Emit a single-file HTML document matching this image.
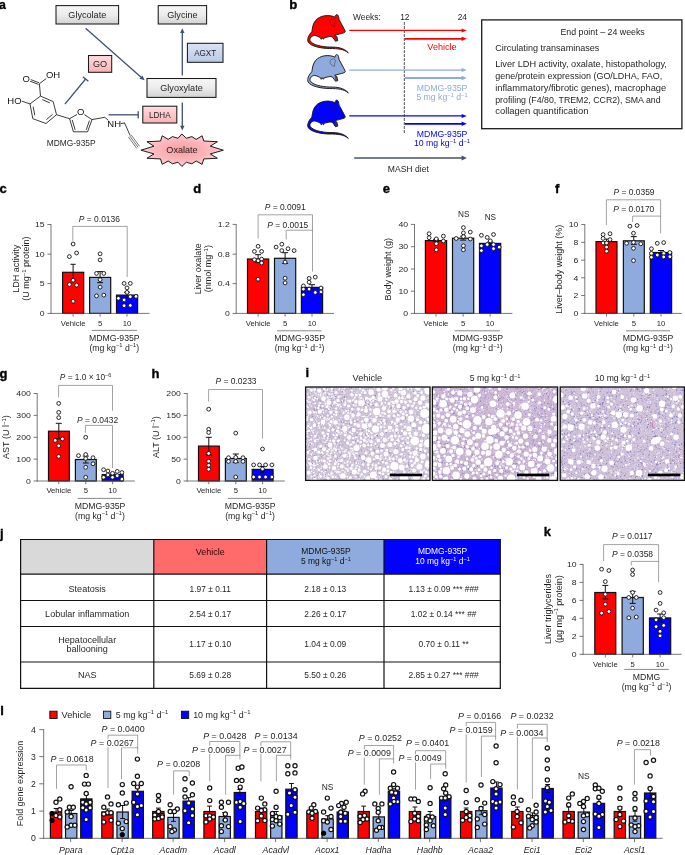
<!DOCTYPE html>
<html lang="en"><head><meta charset="utf-8"><title>Figure</title>
<style>
html,body{margin:0;padding:0;background:#fff;}
body{width:685px;height:855px;overflow:hidden;}
svg{display:block;font-family:"Liberation Sans",sans-serif;fill:#1f1f1f;}
</style></head><body>
<svg width="685" height="855" viewBox="0 0 685 855">
<defs>
<linearGradient id="ggray" x1="0" y1="0" x2="0" y2="1"><stop offset="0" stop-color="#f6f6f6"/><stop offset="0.5" stop-color="#ececec"/><stop offset="1" stop-color="#d2d2d2"/></linearGradient>
<linearGradient id="gblue" x1="0" y1="0" x2="0" y2="1"><stop offset="0" stop-color="#dbe4f5"/><stop offset="1" stop-color="#b9c9e8"/></linearGradient>
<linearGradient id="gpink" x1="0" y1="0" x2="0" y2="1"><stop offset="0" stop-color="#fddcde"/><stop offset="1" stop-color="#f9b2b6"/></linearGradient>
<radialGradient id="gpink2" cx="0.5" cy="0.5" r="0.55"><stop offset="0" stop-color="#f99a9f"/><stop offset="0.6" stop-color="#fbb9bc"/><stop offset="1" stop-color="#fdd3d5"/></radialGradient>
<filter id="grain1" x="0" y="0" width="1" height="1"><feTurbulence type="fractalNoise" baseFrequency="0.85" numOctaves="2" seed="3"/><feColorMatrix type="matrix" values="0 0 0 0 0.46  0 0 0 0 0.40  0 0 0 0 0.60  2.2 0 0 0 -0.85"/></filter>
<filter id="grain2" x="0" y="0" width="1" height="1"><feTurbulence type="fractalNoise" baseFrequency="0.85" numOctaves="2" seed="8"/><feColorMatrix type="matrix" values="0 0 0 0 0.45  0 0 0 0 0.36  0 0 0 0 0.62  2.2 0 0 0 -0.85"/></filter>
<filter id="grain3" x="0" y="0" width="1" height="1"><feTurbulence type="fractalNoise" baseFrequency="0.85" numOctaves="2" seed="15"/><feColorMatrix type="matrix" values="0 0 0 0 0.42  0 0 0 0 0.38  0 0 0 0 0.62  2.0 0 0 0 -0.85"/></filter>
</defs>
<g opacity="0.999">
<text x="-0.90" y="9.10" font-size="12.30" fill="#000" font-weight="bold" stroke="#000" stroke-width="0.35">a</text>
<rect x="56.00" y="5.60" width="62.60" height="18.40" fill="url(#ggray)" stroke="#1a1a1a" stroke-width="1.05" />
<text x="87.30" y="17.98" font-size="9.10" text-anchor="middle">Glycolate</text>
<rect x="158.20" y="5.60" width="48.40" height="18.40" fill="url(#ggray)" stroke="#1a1a1a" stroke-width="1.05" />
<text x="182.40" y="17.98" font-size="9.10" text-anchor="middle">Glycine</text>
<rect x="147.00" y="78.50" width="69.00" height="18.90" fill="url(#ggray)" stroke="#1a1a1a" stroke-width="1.05" />
<text x="181.50" y="91.14" font-size="9.10" text-anchor="middle">Glyoxylate</text>
<rect x="187.40" y="43.30" width="35.60" height="19.00" fill="url(#gblue)" stroke="#1a1a1a" stroke-width="1.05" />
<text x="205.20" y="55.98" font-size="9.10" text-anchor="middle" textLength="22.00" lengthAdjust="spacingAndGlyphs">AGXT</text>
<rect x="88.50" y="55.50" width="23.20" height="16.80" fill="url(#gpink)" stroke="#1a1a1a" stroke-width="1.05" />
<text x="100.10" y="67.08" font-size="9.10" text-anchor="middle">GO</text>
<rect x="142.80" y="106.20" width="34.00" height="16.80" fill="url(#gpink)" stroke="#1a1a1a" stroke-width="1.05" />
<text x="159.80" y="117.78" font-size="9.10" text-anchor="middle" textLength="21.60" lengthAdjust="spacingAndGlyphs">LDHA</text>
<line x1="85.60" y1="28.20" x2="141.38" y2="77.45" stroke="#3f5170" stroke-width="1.30" />
<polygon points="144.60,80.30 139.55,78.77 142.46,75.47" fill="#3f5170"/>
<line x1="182.30" y1="75.60" x2="182.30" y2="32.50" stroke="#3f5170" stroke-width="1.30" />
<polygon points="182.30,28.20 184.50,33.00 180.10,33.00" fill="#3f5170"/>
<line x1="182.30" y1="102.60" x2="182.30" y2="126.30" stroke="#3f5170" stroke-width="1.30" />
<polygon points="182.30,130.60 180.10,125.80 184.50,125.80" fill="#3f5170"/>
<line x1="64.90" y1="104.20" x2="85.60" y2="79.00" stroke="#3f5170" stroke-width="1.30" />
<line x1="88.38" y1="81.29" x2="82.82" y2="76.71" stroke="#3f5170" stroke-width="1.30" />
<line x1="108.60" y1="114.80" x2="138.20" y2="114.80" stroke="#3f5170" stroke-width="1.30" />
<line x1="138.20" y1="118.40" x2="138.20" y2="111.20" stroke="#3f5170" stroke-width="1.30" />
<polygon points="181.88,133.96 186.32,138.26 191.87,136.60 196.17,139.37 202.13,135.77 203.79,141.04 217.39,141.73 210.31,146.17 223.35,150.19 210.31,153.94 217.39,158.24 203.79,158.93 202.13,164.34 196.17,161.01 191.87,163.78 186.32,162.26 181.88,166.42 178.00,162.26 172.45,163.78 168.15,161.01 162.18,164.34 160.52,158.93 146.93,158.24 154.00,153.94 140.96,150.19 154.00,146.17 146.93,141.73 160.52,141.04 162.18,135.77 168.15,139.37 172.45,136.60 178.00,138.26" fill="url(#gpink2)" stroke="#111" stroke-width="0.95" stroke-linejoin="miter"/>
<text x="182.00" y="153.30" font-size="9.10" text-anchor="middle">Oxalate</text>
<path d="M40.50 96.10 L53.20 101.60 L56.50 114.70 L46.00 123.50 L32.80 118.70 L30.00 103.90 Z" fill="none" stroke="#1a1a1a" stroke-width="0.85" />
<line x1="42.28" y1="99.62" x2="49.80" y2="102.88" stroke="#1a1a1a" stroke-width="0.85" />
<line x1="52.58" y1="114.43" x2="46.36" y2="119.65" stroke="#1a1a1a" stroke-width="0.85" />
<line x1="34.82" y1="115.35" x2="33.16" y2="106.57" stroke="#1a1a1a" stroke-width="0.85" />
<line x1="40.50" y1="96.10" x2="39.40" y2="83.70" stroke="#1a1a1a" stroke-width="0.85" />
<line x1="39.40" y1="83.70" x2="46.20" y2="78.60" stroke="#1a1a1a" stroke-width="0.85" />
<line x1="39.10" y1="82.80" x2="30.80" y2="79.60" stroke="#1a1a1a" stroke-width="0.85" />
<line x1="38.50" y1="84.40" x2="30.00" y2="81.20" stroke="#1a1a1a" stroke-width="0.85" />
<text x="26.30" y="82.00" font-size="9.50" text-anchor="middle" fill="#111">O</text>
<text x="53.00" y="78.20" font-size="9.50" text-anchor="middle" fill="#111">OH</text>
<text x="14.40" y="103.80" font-size="9.50" text-anchor="middle" fill="#111">HO</text>
<line x1="30.00" y1="103.90" x2="21.80" y2="101.20" stroke="#1a1a1a" stroke-width="0.85" />
<line x1="56.50" y1="114.70" x2="69.60" y2="118.70" stroke="#1a1a1a" stroke-width="0.85" />
<line x1="69.60" y1="118.70" x2="73.40" y2="131.80" stroke="#1a1a1a" stroke-width="0.85" />
<line x1="73.40" y1="131.80" x2="87.60" y2="131.80" stroke="#1a1a1a" stroke-width="0.85" />
<line x1="87.60" y1="131.80" x2="92.00" y2="119.60" stroke="#1a1a1a" stroke-width="0.85" />
<line x1="69.60" y1="118.70" x2="77.00" y2="114.40" stroke="#1a1a1a" stroke-width="0.85" />
<line x1="92.00" y1="119.60" x2="84.30" y2="114.60" stroke="#1a1a1a" stroke-width="0.85" />
<line x1="72.20" y1="119.90" x2="75.10" y2="129.80" stroke="#1a1a1a" stroke-width="0.85" />
<line x1="89.40" y1="120.60" x2="86.30" y2="129.80" stroke="#1a1a1a" stroke-width="0.85" />
<text x="80.60" y="115.40" font-size="9.50" text-anchor="middle" fill="#111">O</text>
<line x1="92.00" y1="119.60" x2="104.80" y2="117.30" stroke="#1a1a1a" stroke-width="0.85" />
<line x1="104.80" y1="117.30" x2="108.30" y2="120.30" stroke="#1a1a1a" stroke-width="0.85" />
<text x="114.20" y="127.20" font-size="9.50" text-anchor="middle" fill="#111">NH</text>
<line x1="120.80" y1="123.60" x2="124.90" y2="122.90" stroke="#1a1a1a" stroke-width="0.85" />
<line x1="124.50" y1="122.90" x2="130.20" y2="135.60" stroke="#1a1a1a" stroke-width="0.85" />
<line x1="128.40" y1="137.05" x2="136.80" y2="148.45" stroke="#1a1a1a" stroke-width="0.60" />
<line x1="129.80" y1="136.00" x2="138.20" y2="147.40" stroke="#1a1a1a" stroke-width="0.60" />
<line x1="131.20" y1="134.95" x2="139.60" y2="146.35" stroke="#1a1a1a" stroke-width="0.60" />
<text x="71.20" y="145.90" font-size="8.40" text-anchor="middle" fill="#2a2a2a">MDMG-935P</text>
<text x="289.20" y="9.40" font-size="13.20" fill="#000" font-weight="bold" stroke="#000" stroke-width="0.35">b</text>
<g transform="translate(300.00 5.00) scale(0.08759)"><path d="M515 295 C498 262 478 225 447 168 L440 132 C431 102 404 100 400 140 C340 108 230 113 175 180 C140 225 142 280 135 305 C100 340 78 390 93 422 C118 472 250 497 340 497 C430 497 500 502 552 547 C500 488 430 480 340 480 C250 478 140 455 116 408 C106 380 130 352 165 347 C200 352 220 368 233 374 L243 392 L254 378 L268 390 L280 372 C320 365 350 353 370 365 C385 380 393 398 405 414 L432 406 L426 385 L421 360 L396 346 C430 336 470 326 490 321 C512 316 521 305 515 295 Z" fill="#ff0000" stroke="#1e1a1a" stroke-width="11" stroke-linejoin="round"/><path d="M352 168 C330 190 350 240 395 243 C390 215 400 195 408 175 C395 160 370 155 352 168 Z" fill="none" stroke="#2a2020" stroke-width="6" opacity="0.8"/><path d="M395 350 L405 412 L432 405 L420 362 Z" fill="#3a3a3a" opacity="0.8"/><path d="M232 372 L244 392 L255 379 L268 390 L278 372 Z" fill="#3a3a3a" opacity="0.7"/></g>
<g transform="translate(300.00 45.00) scale(0.08759)"><path d="M515 295 C498 262 478 225 447 168 L440 132 C431 102 404 100 400 140 C340 108 230 113 175 180 C140 225 142 280 135 305 C100 340 78 390 93 422 C118 472 250 497 340 497 C430 497 500 502 552 547 C500 488 430 480 340 480 C250 478 140 455 116 408 C106 380 130 352 165 347 C200 352 220 368 233 374 L243 392 L254 378 L268 390 L280 372 C320 365 350 353 370 365 C385 380 393 398 405 414 L432 406 L426 385 L421 360 L396 346 C430 336 470 326 490 321 C512 316 521 305 515 295 Z" fill="#8faadc" stroke="#1e1a1a" stroke-width="11" stroke-linejoin="round"/><path d="M352 168 C330 190 350 240 395 243 C390 215 400 195 408 175 C395 160 370 155 352 168 Z" fill="none" stroke="#2a2020" stroke-width="6" opacity="0.8"/><path d="M395 350 L405 412 L432 405 L420 362 Z" fill="#3a3a3a" opacity="0.8"/><path d="M232 372 L244 392 L255 379 L268 390 L278 372 Z" fill="#3a3a3a" opacity="0.7"/></g>
<g transform="translate(300.00 90.50) scale(0.08759)"><path d="M515 295 C498 262 478 225 447 168 L440 132 C431 102 404 100 400 140 C340 108 230 113 175 180 C140 225 142 280 135 305 C100 340 78 390 93 422 C118 472 250 497 340 497 C430 497 500 502 552 547 C500 488 430 480 340 480 C250 478 140 455 116 408 C106 380 130 352 165 347 C200 352 220 368 233 374 L243 392 L254 378 L268 390 L280 372 C320 365 350 353 370 365 C385 380 393 398 405 414 L432 406 L426 385 L421 360 L396 346 C430 336 470 326 490 321 C512 316 521 305 515 295 Z" fill="#0000ff" stroke="#1e1a1a" stroke-width="11" stroke-linejoin="round"/><path d="M352 168 C330 190 350 240 395 243 C390 215 400 195 408 175 C395 160 370 155 352 168 Z" fill="none" stroke="#2a2020" stroke-width="6" opacity="0.8"/><path d="M395 350 L405 412 L432 405 L420 362 Z" fill="#3a3a3a" opacity="0.8"/><path d="M232 372 L244 392 L255 379 L268 390 L278 372 Z" fill="#3a3a3a" opacity="0.7"/></g>
<text x="353.00" y="20.10" font-size="8.40">Weeks:</text>
<text x="404.80" y="20.10" font-size="8.40" text-anchor="middle">12</text>
<text x="462.30" y="20.10" font-size="8.40" text-anchor="middle">24</text>
<line x1="404.30" y1="22.00" x2="404.30" y2="133.80" stroke="#555" stroke-width="1.00" stroke-dasharray="3 1"/>
<line x1="349.30" y1="30.40" x2="462.10" y2="30.40" stroke="#ff0000" stroke-width="1.25" />
<polygon points="466.80,30.40 461.60,28.40 461.60,32.40" fill="#ff0000"/>
<line x1="404.80" y1="38.80" x2="462.10" y2="38.80" stroke="#ff0000" stroke-width="1.80" />
<polygon points="466.80,38.80 461.60,36.50 461.60,41.10" fill="#ff0000"/>
<line x1="349.30" y1="70.10" x2="462.10" y2="70.10" stroke="#8faadc" stroke-width="1.25" />
<polygon points="466.80,70.10 461.60,68.10 461.60,72.10" fill="#8faadc"/>
<line x1="404.80" y1="78.00" x2="462.10" y2="78.00" stroke="#8faadc" stroke-width="1.80" />
<polygon points="466.80,78.00 461.60,75.70 461.60,80.30" fill="#8faadc"/>
<line x1="349.30" y1="115.90" x2="462.10" y2="115.90" stroke="#0000ff" stroke-width="1.25" />
<polygon points="466.80,115.90 461.60,113.90 461.60,117.90" fill="#0000ff"/>
<line x1="404.80" y1="123.80" x2="462.10" y2="123.80" stroke="#0000ff" stroke-width="1.80" />
<polygon points="466.80,123.80 461.60,121.50 461.60,126.10" fill="#0000ff"/>
<text x="442.00" y="49.70" font-size="9.10" text-anchor="middle" fill="#ff0000">Vehicle</text>
<text x="442.00" y="90.60" font-size="8.70" text-anchor="middle" fill="#8faadc">MDMG-935P</text>
<text x="442.00" y="100.20" font-size="8.70" text-anchor="middle" fill="#8faadc">5 mg kg<tspan dy="-3.48" font-size="5.74">−1</tspan><tspan dy="3.48"> d</tspan><tspan dy="-3.48" font-size="5.74">−1</tspan></text>
<text x="442.00" y="136.70" font-size="8.70" text-anchor="middle" fill="#0000ff">MDMG-935P</text>
<text x="442.00" y="146.30" font-size="8.70" text-anchor="middle" fill="#0000ff">10 mg kg<tspan dy="-3.48" font-size="5.74">−1</tspan><tspan dy="3.48"> d</tspan><tspan dy="-3.48" font-size="5.74">−1</tspan></text>
<line x1="354.20" y1="158.00" x2="462.10" y2="158.00" stroke="#46506a" stroke-width="1.30" />
<polygon points="466.80,158.00 461.60,155.50 461.60,160.50" fill="#46506a"/>
<text x="408.30" y="172.00" font-size="8.60" text-anchor="middle">MASH diet</text>
<rect x="481.70" y="19.90" width="200.20" height="108.80" fill="#fff" stroke="#1a1a1a" stroke-width="1.30" />
<text x="602.60" y="34.60" font-size="9.00" text-anchor="middle" textLength="84.40" lengthAdjust="spacingAndGlyphs">End point – 24 weeks</text>
<text x="495.20" y="51.20" font-size="9.00" textLength="104.20" lengthAdjust="spacingAndGlyphs">Circulating transaminases</text>
<text x="495.20" y="67.30" font-size="9.00" textLength="171.70" lengthAdjust="spacingAndGlyphs">Liver LDH activity, oxalate, histopathology,</text>
<text x="495.20" y="79.10" font-size="9.00" textLength="167.00" lengthAdjust="spacingAndGlyphs">gene/protein expression (GO/LDHA, FAO,</text>
<text x="495.20" y="90.70" font-size="9.00" textLength="171.00" lengthAdjust="spacingAndGlyphs">inflammatory/fibrotic genes), macrophage</text>
<text x="495.20" y="102.60" font-size="9.00" textLength="165.40" lengthAdjust="spacingAndGlyphs">profiling (F4/80, TREM2, CCR2), SMA and</text>
<text x="495.20" y="114.20" font-size="9.00" textLength="93.20" lengthAdjust="spacingAndGlyphs">collagen quantification</text>
<text x="-0.40" y="192.80" font-size="13.00" fill="#000" font-weight="bold" stroke="#000" stroke-width="0.35">c</text>
<rect x="62.60" y="272.30" width="21.10" height="41.10" fill="#ff0000" stroke="#111" stroke-width="1.20" />
<rect x="89.60" y="277.40" width="21.10" height="36.00" fill="#8faadc" stroke="#111" stroke-width="1.20" />
<rect x="116.50" y="295.10" width="21.10" height="18.30" fill="#0000ff" stroke="#111" stroke-width="1.20" />
<line x1="73.10" y1="264.30" x2="73.10" y2="280.30" stroke="#111" stroke-width="1.00" />
<line x1="70.50" y1="264.30" x2="75.70" y2="264.30" stroke="#111" stroke-width="1.00" />
<line x1="70.50" y1="280.30" x2="75.70" y2="280.30" stroke="#111" stroke-width="1.00" />
<line x1="100.10" y1="271.60" x2="100.10" y2="282.70" stroke="#111" stroke-width="1.00" />
<line x1="97.10" y1="271.60" x2="103.10" y2="271.60" stroke="#111" stroke-width="1.00" />
<line x1="97.10" y1="282.70" x2="103.10" y2="282.70" stroke="#111" stroke-width="1.00" />
<line x1="127.00" y1="292.30" x2="127.00" y2="297.60" stroke="#111" stroke-width="1.00" />
<line x1="124.00" y1="292.30" x2="130.00" y2="292.30" stroke="#111" stroke-width="1.00" />
<line x1="124.00" y1="297.60" x2="130.00" y2="297.60" stroke="#111" stroke-width="1.00" />
<line x1="51.00" y1="224.10" x2="51.00" y2="313.80" stroke="#555" stroke-width="0.80" />
<line x1="50.60" y1="313.40" x2="149.50" y2="313.40" stroke="#555" stroke-width="0.80" />
<line x1="47.40" y1="224.50" x2="51.00" y2="224.50" stroke="#555" stroke-width="0.80" />
<text font-size="8.10" transform="translate(44.60 227.27) scale(1.075 1)" text-anchor="end">15</text>
<line x1="47.40" y1="254.10" x2="51.00" y2="254.10" stroke="#555" stroke-width="0.80" />
<text font-size="8.10" transform="translate(44.60 256.87) scale(1.075 1)" text-anchor="end">10</text>
<line x1="47.40" y1="283.60" x2="51.00" y2="283.60" stroke="#555" stroke-width="0.80" />
<text font-size="8.10" transform="translate(44.60 286.37) scale(1.075 1)" text-anchor="end">5</text>
<line x1="47.40" y1="313.40" x2="51.00" y2="313.40" stroke="#555" stroke-width="0.80" />
<text font-size="8.10" transform="translate(44.60 316.17) scale(1.075 1)" text-anchor="end">0</text>
<line x1="73.10" y1="313.40" x2="73.10" y2="316.60" stroke="#555" stroke-width="0.80" />
<text x="73.10" y="325.90" font-size="7.70" text-anchor="middle">Vehicle</text>
<line x1="100.10" y1="313.40" x2="100.10" y2="316.60" stroke="#555" stroke-width="0.80" />
<text x="100.10" y="325.90" font-size="7.70" text-anchor="middle">5</text>
<line x1="127.00" y1="313.40" x2="127.00" y2="316.60" stroke="#555" stroke-width="0.80" />
<text x="127.00" y="325.90" font-size="7.70" text-anchor="middle">10</text>
<circle cx="73.10" cy="244.00" r="1.90" fill="#fff" stroke="#111" stroke-width="0.90"/>
<circle cx="76.60" cy="253.00" r="1.90" fill="#fff" stroke="#111" stroke-width="0.90"/>
<circle cx="69.40" cy="256.60" r="1.90" fill="#fff" stroke="#111" stroke-width="0.90"/>
<circle cx="73.10" cy="280.20" r="1.90" fill="#fff" stroke="#111" stroke-width="0.90"/>
<circle cx="69.40" cy="284.50" r="1.90" fill="#fff" stroke="#111" stroke-width="0.90"/>
<circle cx="76.60" cy="285.20" r="1.90" fill="#fff" stroke="#111" stroke-width="0.90"/>
<circle cx="73.10" cy="301.20" r="1.90" fill="#fff" stroke="#111" stroke-width="0.90"/>
<circle cx="100.10" cy="253.80" r="1.90" fill="#fff" stroke="#111" stroke-width="0.90"/>
<circle cx="100.10" cy="259.90" r="1.90" fill="#fff" stroke="#111" stroke-width="0.90"/>
<circle cx="96.50" cy="273.40" r="1.90" fill="#fff" stroke="#111" stroke-width="0.90"/>
<circle cx="103.80" cy="273.40" r="1.90" fill="#fff" stroke="#111" stroke-width="0.90"/>
<circle cx="100.10" cy="279.70" r="1.90" fill="#fff" stroke="#111" stroke-width="0.90"/>
<circle cx="100.10" cy="287.10" r="1.90" fill="#fff" stroke="#111" stroke-width="0.90"/>
<circle cx="96.50" cy="295.90" r="1.90" fill="#fff" stroke="#111" stroke-width="0.90"/>
<circle cx="103.80" cy="295.10" r="1.90" fill="#fff" stroke="#111" stroke-width="0.90"/>
<circle cx="124.10" cy="283.40" r="1.90" fill="#fff" stroke="#111" stroke-width="0.90"/>
<circle cx="130.30" cy="283.40" r="1.90" fill="#fff" stroke="#111" stroke-width="0.90"/>
<circle cx="127.00" cy="287.90" r="1.90" fill="#fff" stroke="#111" stroke-width="0.90"/>
<circle cx="127.00" cy="292.40" r="1.90" fill="#fff" stroke="#111" stroke-width="0.90"/>
<circle cx="118.40" cy="298.30" r="1.90" fill="#fff" stroke="#111" stroke-width="0.90"/>
<circle cx="130.30" cy="296.70" r="1.90" fill="#fff" stroke="#111" stroke-width="0.90"/>
<circle cx="136.00" cy="296.40" r="1.90" fill="#fff" stroke="#111" stroke-width="0.90"/>
<circle cx="124.10" cy="299.90" r="1.90" fill="#fff" stroke="#111" stroke-width="0.90"/>
<circle cx="124.10" cy="305.70" r="1.90" fill="#fff" stroke="#111" stroke-width="0.90"/>
<circle cx="130.30" cy="305.40" r="1.90" fill="#fff" stroke="#111" stroke-width="0.90"/>
<path d="M72.80 240.80 V226.40 H127.20 V277.00" fill="none" stroke="#8c8c8c" stroke-width="0.80" />
<text x="99.40" y="221.60" font-size="8.45" text-anchor="middle"><tspan font-style="italic">P</tspan> = 0.0136</text>
<line x1="91.70" y1="330.40" x2="137.00" y2="330.40" stroke="#888" stroke-width="1.00" />
<text x="114.30" y="340.90" font-size="8.70" text-anchor="middle">MDMG-935P</text>
<text x="114.30" y="350.80" font-size="8.70" text-anchor="middle">(mg kg<tspan dy="-3.48" font-size="5.74">−1</tspan><tspan dy="3.48"> d</tspan><tspan dy="-3.48" font-size="5.74">−1</tspan><tspan dy="3.48">)</tspan></text>
<text font-size="8.20" transform="translate(18.90 268.70) rotate(-90) scale(1.100 1)" text-anchor="middle">LDH activity</text>
<text font-size="8.20" transform="translate(29.10 268.70) rotate(-90) scale(1.100 1)" text-anchor="middle">(U mg<tspan dy="-3.28" font-size="5.41">−1</tspan><tspan dy="3.28"> protein)</tspan></text>
<text x="193.20" y="192.80" font-size="13.00" fill="#000" font-weight="bold" stroke="#000" stroke-width="0.35">d</text>
<rect x="247.50" y="259.00" width="21.20" height="54.40" fill="#ff0000" stroke="#111" stroke-width="1.20" />
<rect x="274.50" y="258.30" width="21.20" height="55.10" fill="#8faadc" stroke="#111" stroke-width="1.20" />
<rect x="301.40" y="287.40" width="21.20" height="26.00" fill="#0000ff" stroke="#111" stroke-width="1.20" />
<line x1="258.10" y1="254.70" x2="258.10" y2="262.60" stroke="#111" stroke-width="1.00" />
<line x1="255.10" y1="254.70" x2="261.10" y2="254.70" stroke="#111" stroke-width="1.00" />
<line x1="255.10" y1="262.60" x2="261.10" y2="262.60" stroke="#111" stroke-width="1.00" />
<line x1="285.10" y1="252.70" x2="285.10" y2="263.40" stroke="#111" stroke-width="1.00" />
<line x1="282.10" y1="252.70" x2="288.10" y2="252.70" stroke="#111" stroke-width="1.00" />
<line x1="282.10" y1="263.40" x2="288.10" y2="263.40" stroke="#111" stroke-width="1.00" />
<line x1="312.00" y1="284.70" x2="312.00" y2="289.60" stroke="#111" stroke-width="1.00" />
<line x1="309.00" y1="284.70" x2="315.00" y2="284.70" stroke="#111" stroke-width="1.00" />
<line x1="309.00" y1="289.60" x2="315.00" y2="289.60" stroke="#111" stroke-width="1.00" />
<line x1="236.20" y1="224.00" x2="236.20" y2="313.80" stroke="#555" stroke-width="0.80" />
<line x1="235.80" y1="313.40" x2="334.00" y2="313.40" stroke="#555" stroke-width="0.80" />
<line x1="232.60" y1="224.40" x2="236.20" y2="224.40" stroke="#555" stroke-width="0.80" />
<text font-size="8.10" transform="translate(229.80 227.17) scale(1.075 1)" text-anchor="end">1.2</text>
<line x1="232.60" y1="254.20" x2="236.20" y2="254.20" stroke="#555" stroke-width="0.80" />
<text font-size="8.10" transform="translate(229.80 256.97) scale(1.075 1)" text-anchor="end">0.8</text>
<line x1="232.60" y1="283.60" x2="236.20" y2="283.60" stroke="#555" stroke-width="0.80" />
<text font-size="8.10" transform="translate(229.80 286.37) scale(1.075 1)" text-anchor="end">0.4</text>
<line x1="232.60" y1="313.40" x2="236.20" y2="313.40" stroke="#555" stroke-width="0.80" />
<text font-size="8.10" transform="translate(229.80 316.17) scale(1.075 1)" text-anchor="end">0</text>
<line x1="258.10" y1="313.40" x2="258.10" y2="316.60" stroke="#555" stroke-width="0.80" />
<text x="258.10" y="325.90" font-size="7.70" text-anchor="middle">Vehicle</text>
<line x1="285.10" y1="313.40" x2="285.10" y2="316.60" stroke="#555" stroke-width="0.80" />
<text x="285.10" y="325.90" font-size="7.70" text-anchor="middle">5</text>
<line x1="312.00" y1="313.40" x2="312.00" y2="316.60" stroke="#555" stroke-width="0.80" />
<text x="312.00" y="325.90" font-size="7.70" text-anchor="middle">10</text>
<circle cx="258.10" cy="246.30" r="1.90" fill="#fff" stroke="#111" stroke-width="0.90"/>
<circle cx="254.40" cy="251.40" r="1.90" fill="#fff" stroke="#111" stroke-width="0.90"/>
<circle cx="261.60" cy="251.40" r="1.90" fill="#fff" stroke="#111" stroke-width="0.90"/>
<circle cx="254.40" cy="259.70" r="1.90" fill="#fff" stroke="#111" stroke-width="0.90"/>
<circle cx="258.10" cy="260.70" r="1.90" fill="#fff" stroke="#111" stroke-width="0.90"/>
<circle cx="261.60" cy="259.10" r="1.90" fill="#fff" stroke="#111" stroke-width="0.90"/>
<circle cx="261.60" cy="263.00" r="1.90" fill="#fff" stroke="#111" stroke-width="0.90"/>
<circle cx="258.10" cy="279.20" r="1.90" fill="#fff" stroke="#111" stroke-width="0.90"/>
<circle cx="276.10" cy="247.10" r="1.90" fill="#fff" stroke="#111" stroke-width="0.90"/>
<circle cx="281.80" cy="244.20" r="1.90" fill="#fff" stroke="#111" stroke-width="0.90"/>
<circle cx="281.80" cy="250.60" r="1.90" fill="#fff" stroke="#111" stroke-width="0.90"/>
<circle cx="288.00" cy="248.70" r="1.90" fill="#fff" stroke="#111" stroke-width="0.90"/>
<circle cx="294.10" cy="250.60" r="1.90" fill="#fff" stroke="#111" stroke-width="0.90"/>
<circle cx="285.10" cy="262.10" r="1.90" fill="#fff" stroke="#111" stroke-width="0.90"/>
<circle cx="285.10" cy="278.20" r="1.90" fill="#fff" stroke="#111" stroke-width="0.90"/>
<circle cx="285.10" cy="282.90" r="1.90" fill="#fff" stroke="#111" stroke-width="0.90"/>
<circle cx="309.10" cy="278.40" r="1.90" fill="#fff" stroke="#111" stroke-width="0.90"/>
<circle cx="315.30" cy="277.10" r="1.90" fill="#fff" stroke="#111" stroke-width="0.90"/>
<circle cx="309.10" cy="282.20" r="1.90" fill="#fff" stroke="#111" stroke-width="0.90"/>
<circle cx="303.40" cy="285.90" r="1.90" fill="#fff" stroke="#111" stroke-width="0.90"/>
<circle cx="303.40" cy="289.10" r="1.90" fill="#fff" stroke="#111" stroke-width="0.90"/>
<circle cx="309.10" cy="289.10" r="1.90" fill="#fff" stroke="#111" stroke-width="0.90"/>
<circle cx="321.00" cy="288.00" r="1.90" fill="#fff" stroke="#111" stroke-width="0.90"/>
<circle cx="321.00" cy="291.90" r="1.90" fill="#fff" stroke="#111" stroke-width="0.90"/>
<circle cx="315.30" cy="292.50" r="1.90" fill="#fff" stroke="#111" stroke-width="0.90"/>
<circle cx="303.40" cy="294.70" r="1.90" fill="#fff" stroke="#111" stroke-width="0.90"/>
<path d="M258.10 238.50 V214.80 H312.50 V271.50" fill="none" stroke="#8c8c8c" stroke-width="0.80" />
<path d="M286.20 239.30 V230.20 H312.50 V231.00" fill="none" stroke="#8c8c8c" stroke-width="0.80" />
<text x="285.20" y="210.40" font-size="8.45" text-anchor="middle"><tspan font-style="italic">P</tspan> = 0.0091</text>
<text x="287.80" y="227.60" font-size="8.45" text-anchor="middle"><tspan font-style="italic">P</tspan> = 0.0015</text>
<line x1="277.00" y1="330.80" x2="321.60" y2="330.80" stroke="#888" stroke-width="1.00" />
<text x="299.60" y="341.30" font-size="8.70" text-anchor="middle">MDMG-935P</text>
<text x="299.60" y="351.20" font-size="8.70" text-anchor="middle">(mg kg<tspan dy="-3.48" font-size="5.74">−1</tspan><tspan dy="3.48"> d</tspan><tspan dy="-3.48" font-size="5.74">−1</tspan><tspan dy="3.48">)</tspan></text>
<text font-size="8.20" transform="translate(200.90 268.70) rotate(-90) scale(1.100 1)" text-anchor="middle">Liver oxalate</text>
<text font-size="8.20" transform="translate(211.10 268.70) rotate(-90) scale(1.100 1)" text-anchor="middle">(nmol mg<tspan dy="-3.28" font-size="5.41">−1</tspan><tspan dy="3.28">)</tspan></text>
<text x="382.80" y="192.80" font-size="13.00" fill="#000" font-weight="bold" stroke="#000" stroke-width="0.35">e</text>
<rect x="425.40" y="240.60" width="21.20" height="72.80" fill="#ff0000" stroke="#111" stroke-width="1.20" />
<rect x="452.50" y="238.20" width="21.20" height="75.20" fill="#8faadc" stroke="#111" stroke-width="1.20" />
<rect x="479.50" y="243.40" width="21.20" height="70.00" fill="#0000ff" stroke="#111" stroke-width="1.20" />
<line x1="436.00" y1="239.30" x2="436.00" y2="241.60" stroke="#111" stroke-width="1.00" />
<line x1="433.00" y1="239.30" x2="439.00" y2="239.30" stroke="#111" stroke-width="1.00" />
<line x1="433.00" y1="241.60" x2="439.00" y2="241.60" stroke="#111" stroke-width="1.00" />
<line x1="463.10" y1="236.20" x2="463.10" y2="240.10" stroke="#111" stroke-width="1.00" />
<line x1="460.10" y1="236.20" x2="466.10" y2="236.20" stroke="#111" stroke-width="1.00" />
<line x1="460.10" y1="240.10" x2="466.10" y2="240.10" stroke="#111" stroke-width="1.00" />
<line x1="490.10" y1="242.10" x2="490.10" y2="244.60" stroke="#111" stroke-width="1.00" />
<line x1="487.10" y1="242.10" x2="493.10" y2="242.10" stroke="#111" stroke-width="1.00" />
<line x1="487.10" y1="244.60" x2="493.10" y2="244.60" stroke="#111" stroke-width="1.00" />
<line x1="414.50" y1="224.00" x2="414.50" y2="313.80" stroke="#555" stroke-width="0.80" />
<line x1="414.10" y1="313.40" x2="512.40" y2="313.40" stroke="#555" stroke-width="0.80" />
<line x1="410.90" y1="224.40" x2="414.50" y2="224.40" stroke="#555" stroke-width="0.80" />
<text font-size="8.10" transform="translate(408.10 227.17) scale(1.075 1)" text-anchor="end">40</text>
<line x1="410.90" y1="246.70" x2="414.50" y2="246.70" stroke="#555" stroke-width="0.80" />
<text font-size="8.10" transform="translate(408.10 249.47) scale(1.075 1)" text-anchor="end">30</text>
<line x1="410.90" y1="269.00" x2="414.50" y2="269.00" stroke="#555" stroke-width="0.80" />
<text font-size="8.10" transform="translate(408.10 271.77) scale(1.075 1)" text-anchor="end">20</text>
<line x1="410.90" y1="291.20" x2="414.50" y2="291.20" stroke="#555" stroke-width="0.80" />
<text font-size="8.10" transform="translate(408.10 293.97) scale(1.075 1)" text-anchor="end">10</text>
<line x1="410.90" y1="313.40" x2="414.50" y2="313.40" stroke="#555" stroke-width="0.80" />
<text font-size="8.10" transform="translate(408.10 316.17) scale(1.075 1)" text-anchor="end">0</text>
<line x1="436.00" y1="313.40" x2="436.00" y2="316.60" stroke="#555" stroke-width="0.80" />
<text x="436.00" y="325.90" font-size="7.70" text-anchor="middle">Vehicle</text>
<line x1="463.10" y1="313.40" x2="463.10" y2="316.60" stroke="#555" stroke-width="0.80" />
<text x="463.10" y="325.90" font-size="7.70" text-anchor="middle">5</text>
<line x1="490.10" y1="313.40" x2="490.10" y2="316.60" stroke="#555" stroke-width="0.80" />
<text x="490.10" y="325.90" font-size="7.70" text-anchor="middle">10</text>
<circle cx="429.10" cy="233.70" r="1.90" fill="#fff" stroke="#111" stroke-width="0.90"/>
<circle cx="429.10" cy="237.70" r="1.90" fill="#fff" stroke="#111" stroke-width="0.90"/>
<circle cx="436.30" cy="238.90" r="1.90" fill="#fff" stroke="#111" stroke-width="0.90"/>
<circle cx="443.40" cy="236.10" r="1.90" fill="#fff" stroke="#111" stroke-width="0.90"/>
<circle cx="443.40" cy="241.00" r="1.90" fill="#fff" stroke="#111" stroke-width="0.90"/>
<circle cx="436.30" cy="243.70" r="1.90" fill="#fff" stroke="#111" stroke-width="0.90"/>
<circle cx="436.30" cy="249.80" r="1.90" fill="#fff" stroke="#111" stroke-width="0.90"/>
<circle cx="463.40" cy="227.60" r="1.90" fill="#fff" stroke="#111" stroke-width="0.90"/>
<circle cx="463.40" cy="232.90" r="1.90" fill="#fff" stroke="#111" stroke-width="0.90"/>
<circle cx="470.30" cy="232.10" r="1.90" fill="#fff" stroke="#111" stroke-width="0.90"/>
<circle cx="456.20" cy="238.50" r="1.90" fill="#fff" stroke="#111" stroke-width="0.90"/>
<circle cx="463.40" cy="236.60" r="1.90" fill="#fff" stroke="#111" stroke-width="0.90"/>
<circle cx="470.30" cy="239.00" r="1.90" fill="#fff" stroke="#111" stroke-width="0.90"/>
<circle cx="463.40" cy="245.80" r="1.90" fill="#fff" stroke="#111" stroke-width="0.90"/>
<circle cx="463.40" cy="249.80" r="1.90" fill="#fff" stroke="#111" stroke-width="0.90"/>
<circle cx="481.40" cy="235.30" r="1.90" fill="#fff" stroke="#111" stroke-width="0.90"/>
<circle cx="487.20" cy="237.40" r="1.90" fill="#fff" stroke="#111" stroke-width="0.90"/>
<circle cx="493.50" cy="234.50" r="1.90" fill="#fff" stroke="#111" stroke-width="0.90"/>
<circle cx="490.30" cy="240.90" r="1.90" fill="#fff" stroke="#111" stroke-width="0.90"/>
<circle cx="487.20" cy="244.50" r="1.90" fill="#fff" stroke="#111" stroke-width="0.90"/>
<circle cx="481.40" cy="245.80" r="1.90" fill="#fff" stroke="#111" stroke-width="0.90"/>
<circle cx="493.50" cy="244.60" r="1.90" fill="#fff" stroke="#111" stroke-width="0.90"/>
<circle cx="499.20" cy="247.10" r="1.90" fill="#fff" stroke="#111" stroke-width="0.90"/>
<circle cx="493.50" cy="248.70" r="1.90" fill="#fff" stroke="#111" stroke-width="0.90"/>
<circle cx="481.40" cy="250.60" r="1.90" fill="#fff" stroke="#111" stroke-width="0.90"/>
<text x="463.80" y="217.30" font-size="8.20" text-anchor="middle">NS</text>
<text x="490.40" y="220.10" font-size="8.20" text-anchor="middle">NS</text>
<line x1="454.60" y1="330.80" x2="499.80" y2="330.80" stroke="#888" stroke-width="1.00" />
<text x="477.70" y="341.30" font-size="8.70" text-anchor="middle">MDMG-935P</text>
<text x="477.70" y="351.20" font-size="8.70" text-anchor="middle">(mg kg<tspan dy="-3.48" font-size="5.74">−1</tspan><tspan dy="3.48"> d</tspan><tspan dy="-3.48" font-size="5.74">−1</tspan><tspan dy="3.48">)</tspan></text>
<text font-size="8.20" transform="translate(390.50 269.20) rotate(-90) scale(1.100 1)" text-anchor="middle">Body weight (g)</text>
<text x="555.00" y="192.80" font-size="13.00" fill="#000" font-weight="bold" stroke="#000" stroke-width="0.35">f</text>
<rect x="596.00" y="241.60" width="21.00" height="71.80" fill="#ff0000" stroke="#111" stroke-width="1.20" />
<rect x="623.40" y="240.80" width="20.90" height="72.60" fill="#8faadc" stroke="#111" stroke-width="1.20" />
<rect x="650.30" y="252.50" width="21.30" height="60.90" fill="#0000ff" stroke="#111" stroke-width="1.20" />
<line x1="606.50" y1="239.10" x2="606.50" y2="243.80" stroke="#111" stroke-width="1.00" />
<line x1="603.50" y1="239.10" x2="609.50" y2="239.10" stroke="#111" stroke-width="1.00" />
<line x1="603.50" y1="243.80" x2="609.50" y2="243.80" stroke="#111" stroke-width="1.00" />
<line x1="633.80" y1="236.60" x2="633.80" y2="244.30" stroke="#111" stroke-width="1.00" />
<line x1="630.80" y1="236.60" x2="636.80" y2="236.60" stroke="#111" stroke-width="1.00" />
<line x1="630.80" y1="244.30" x2="636.80" y2="244.30" stroke="#111" stroke-width="1.00" />
<line x1="661.00" y1="250.50" x2="661.00" y2="253.90" stroke="#111" stroke-width="1.00" />
<line x1="658.00" y1="250.50" x2="664.00" y2="250.50" stroke="#111" stroke-width="1.00" />
<line x1="658.00" y1="253.90" x2="664.00" y2="253.90" stroke="#111" stroke-width="1.00" />
<line x1="584.80" y1="224.10" x2="584.80" y2="313.80" stroke="#555" stroke-width="0.80" />
<line x1="584.40" y1="313.40" x2="681.80" y2="313.40" stroke="#555" stroke-width="0.80" />
<line x1="581.20" y1="224.50" x2="584.80" y2="224.50" stroke="#555" stroke-width="0.80" />
<text font-size="8.10" transform="translate(578.40 227.27) scale(1.075 1)" text-anchor="end">10</text>
<line x1="581.20" y1="242.40" x2="584.80" y2="242.40" stroke="#555" stroke-width="0.80" />
<text font-size="8.10" transform="translate(578.40 245.17) scale(1.075 1)" text-anchor="end">8</text>
<line x1="581.20" y1="260.20" x2="584.80" y2="260.20" stroke="#555" stroke-width="0.80" />
<text font-size="8.10" transform="translate(578.40 262.97) scale(1.075 1)" text-anchor="end">6</text>
<line x1="581.20" y1="277.80" x2="584.80" y2="277.80" stroke="#555" stroke-width="0.80" />
<text font-size="8.10" transform="translate(578.40 280.57) scale(1.075 1)" text-anchor="end">4</text>
<line x1="581.20" y1="295.50" x2="584.80" y2="295.50" stroke="#555" stroke-width="0.80" />
<text font-size="8.10" transform="translate(578.40 298.27) scale(1.075 1)" text-anchor="end">2</text>
<line x1="581.20" y1="313.40" x2="584.80" y2="313.40" stroke="#555" stroke-width="0.80" />
<text font-size="8.10" transform="translate(578.40 316.17) scale(1.075 1)" text-anchor="end">0</text>
<line x1="606.50" y1="313.40" x2="606.50" y2="316.60" stroke="#555" stroke-width="0.80" />
<text x="606.50" y="325.90" font-size="7.70" text-anchor="middle">Vehicle</text>
<line x1="633.80" y1="313.40" x2="633.80" y2="316.60" stroke="#555" stroke-width="0.80" />
<text x="633.80" y="325.90" font-size="7.70" text-anchor="middle">5</text>
<line x1="661.00" y1="313.40" x2="661.00" y2="316.60" stroke="#555" stroke-width="0.80" />
<text x="661.00" y="325.90" font-size="7.70" text-anchor="middle">10</text>
<circle cx="603.10" cy="234.60" r="1.90" fill="#fff" stroke="#111" stroke-width="0.90"/>
<circle cx="610.00" cy="233.70" r="1.90" fill="#fff" stroke="#111" stroke-width="0.90"/>
<circle cx="603.10" cy="238.40" r="1.90" fill="#fff" stroke="#111" stroke-width="0.90"/>
<circle cx="610.00" cy="239.60" r="1.90" fill="#fff" stroke="#111" stroke-width="0.90"/>
<circle cx="603.10" cy="243.00" r="1.90" fill="#fff" stroke="#111" stroke-width="0.90"/>
<circle cx="606.60" cy="243.00" r="1.90" fill="#fff" stroke="#111" stroke-width="0.90"/>
<circle cx="606.60" cy="247.10" r="1.90" fill="#fff" stroke="#111" stroke-width="0.90"/>
<circle cx="606.60" cy="251.20" r="1.90" fill="#fff" stroke="#111" stroke-width="0.90"/>
<circle cx="629.90" cy="226.20" r="1.90" fill="#fff" stroke="#111" stroke-width="0.90"/>
<circle cx="637.10" cy="225.50" r="1.90" fill="#fff" stroke="#111" stroke-width="0.90"/>
<circle cx="633.50" cy="233.20" r="1.90" fill="#fff" stroke="#111" stroke-width="0.90"/>
<circle cx="626.60" cy="243.30" r="1.90" fill="#fff" stroke="#111" stroke-width="0.90"/>
<circle cx="633.50" cy="242.40" r="1.90" fill="#fff" stroke="#111" stroke-width="0.90"/>
<circle cx="640.80" cy="243.80" r="1.90" fill="#fff" stroke="#111" stroke-width="0.90"/>
<circle cx="633.50" cy="248.30" r="1.90" fill="#fff" stroke="#111" stroke-width="0.90"/>
<circle cx="633.50" cy="260.60" r="1.90" fill="#fff" stroke="#111" stroke-width="0.90"/>
<circle cx="657.30" cy="243.30" r="1.90" fill="#fff" stroke="#111" stroke-width="0.90"/>
<circle cx="663.70" cy="242.60" r="1.90" fill="#fff" stroke="#111" stroke-width="0.90"/>
<circle cx="651.40" cy="248.80" r="1.90" fill="#fff" stroke="#111" stroke-width="0.90"/>
<circle cx="651.40" cy="253.40" r="1.90" fill="#fff" stroke="#111" stroke-width="0.90"/>
<circle cx="657.30" cy="255.00" r="1.90" fill="#fff" stroke="#111" stroke-width="0.90"/>
<circle cx="663.70" cy="253.40" r="1.90" fill="#fff" stroke="#111" stroke-width="0.90"/>
<circle cx="669.90" cy="252.50" r="1.90" fill="#fff" stroke="#111" stroke-width="0.90"/>
<circle cx="651.40" cy="257.20" r="1.90" fill="#fff" stroke="#111" stroke-width="0.90"/>
<circle cx="663.70" cy="256.90" r="1.90" fill="#fff" stroke="#111" stroke-width="0.90"/>
<circle cx="669.90" cy="256.70" r="1.90" fill="#fff" stroke="#111" stroke-width="0.90"/>
<path d="M606.40 225.00 V199.80 H660.60 V233.40" fill="none" stroke="#8c8c8c" stroke-width="0.80" />
<path d="M632.60 222.00 V216.10 H660.60 V217.00" fill="none" stroke="#8c8c8c" stroke-width="0.80" />
<text x="634.00" y="195.40" font-size="8.45" text-anchor="middle"><tspan font-style="italic">P</tspan> = 0.0359</text>
<text x="633.80" y="212.40" font-size="8.45" text-anchor="middle"><tspan font-style="italic">P</tspan> = 0.0170</text>
<line x1="626.00" y1="330.80" x2="670.00" y2="330.80" stroke="#888" stroke-width="1.00" />
<text x="648.00" y="341.30" font-size="8.70" text-anchor="middle">MDMG-935P</text>
<text x="648.00" y="351.20" font-size="8.70" text-anchor="middle">(mg kg<tspan dy="-3.48" font-size="5.74">−1</tspan><tspan dy="3.48"> d</tspan><tspan dy="-3.48" font-size="5.74">−1</tspan><tspan dy="3.48">)</tspan></text>
<text font-size="8.20" transform="translate(562.00 269.20) rotate(-90) scale(1.100 1)" text-anchor="middle">Liver–body weight (%)</text>
<text x="-0.50" y="378.00" font-size="13.00" fill="#000" font-weight="bold" stroke="#000" stroke-width="0.35">g</text>
<rect x="48.50" y="431.20" width="20.80" height="49.80" fill="#ff0000" stroke="#111" stroke-width="1.20" />
<rect x="75.40" y="459.50" width="20.90" height="21.50" fill="#8faadc" stroke="#111" stroke-width="1.20" />
<rect x="102.20" y="474.60" width="20.90" height="6.40" fill="#0000ff" stroke="#111" stroke-width="1.20" />
<line x1="58.80" y1="423.30" x2="58.80" y2="438.80" stroke="#111" stroke-width="1.00" />
<line x1="55.80" y1="423.30" x2="61.80" y2="423.30" stroke="#111" stroke-width="1.00" />
<line x1="55.80" y1="438.80" x2="61.80" y2="438.80" stroke="#111" stroke-width="1.00" />
<line x1="85.80" y1="456.10" x2="85.80" y2="463.00" stroke="#111" stroke-width="1.00" />
<line x1="82.80" y1="456.10" x2="88.80" y2="456.10" stroke="#111" stroke-width="1.00" />
<line x1="82.80" y1="463.00" x2="88.80" y2="463.00" stroke="#111" stroke-width="1.00" />
<line x1="112.60" y1="473.20" x2="112.60" y2="476.00" stroke="#111" stroke-width="1.00" />
<line x1="109.60" y1="473.20" x2="115.60" y2="473.20" stroke="#111" stroke-width="1.00" />
<line x1="109.60" y1="476.00" x2="115.60" y2="476.00" stroke="#111" stroke-width="1.00" />
<line x1="37.20" y1="393.10" x2="37.20" y2="481.40" stroke="#555" stroke-width="0.80" />
<line x1="36.80" y1="481.00" x2="134.80" y2="481.00" stroke="#555" stroke-width="0.80" />
<line x1="33.60" y1="393.50" x2="37.20" y2="393.50" stroke="#555" stroke-width="0.80" />
<text font-size="8.10" transform="translate(30.80 396.27) scale(1.075 1)" text-anchor="end">400</text>
<line x1="33.60" y1="415.40" x2="37.20" y2="415.40" stroke="#555" stroke-width="0.80" />
<text font-size="8.10" transform="translate(30.80 418.17) scale(1.075 1)" text-anchor="end">300</text>
<line x1="33.60" y1="437.30" x2="37.20" y2="437.30" stroke="#555" stroke-width="0.80" />
<text font-size="8.10" transform="translate(30.80 440.07) scale(1.075 1)" text-anchor="end">200</text>
<line x1="33.60" y1="459.10" x2="37.20" y2="459.10" stroke="#555" stroke-width="0.80" />
<text font-size="8.10" transform="translate(30.80 461.87) scale(1.075 1)" text-anchor="end">100</text>
<line x1="33.60" y1="481.00" x2="37.20" y2="481.00" stroke="#555" stroke-width="0.80" />
<text font-size="8.10" transform="translate(30.80 483.77) scale(1.075 1)" text-anchor="end">0</text>
<line x1="58.80" y1="481.00" x2="58.80" y2="484.20" stroke="#555" stroke-width="0.80" />
<text x="58.80" y="493.30" font-size="7.70" text-anchor="middle">Vehicle</text>
<line x1="85.80" y1="481.00" x2="85.80" y2="484.20" stroke="#555" stroke-width="0.80" />
<text x="85.80" y="493.30" font-size="7.70" text-anchor="middle">5</text>
<line x1="112.60" y1="481.00" x2="112.60" y2="484.20" stroke="#555" stroke-width="0.80" />
<text x="112.60" y="493.30" font-size="7.70" text-anchor="middle">10</text>
<circle cx="58.70" cy="403.40" r="1.90" fill="#fff" stroke="#111" stroke-width="0.90"/>
<circle cx="58.70" cy="412.40" r="1.90" fill="#fff" stroke="#111" stroke-width="0.90"/>
<circle cx="58.70" cy="417.60" r="1.90" fill="#fff" stroke="#111" stroke-width="0.90"/>
<circle cx="55.20" cy="440.40" r="1.90" fill="#fff" stroke="#111" stroke-width="0.90"/>
<circle cx="62.40" cy="438.90" r="1.90" fill="#fff" stroke="#111" stroke-width="0.90"/>
<circle cx="58.70" cy="445.80" r="1.90" fill="#fff" stroke="#111" stroke-width="0.90"/>
<circle cx="58.70" cy="456.40" r="1.90" fill="#fff" stroke="#111" stroke-width="0.90"/>
<circle cx="85.70" cy="437.30" r="1.90" fill="#fff" stroke="#111" stroke-width="0.90"/>
<circle cx="78.50" cy="455.60" r="1.90" fill="#fff" stroke="#111" stroke-width="0.90"/>
<circle cx="85.70" cy="454.50" r="1.90" fill="#fff" stroke="#111" stroke-width="0.90"/>
<circle cx="93.00" cy="457.70" r="1.90" fill="#fff" stroke="#111" stroke-width="0.90"/>
<circle cx="85.70" cy="458.50" r="1.90" fill="#fff" stroke="#111" stroke-width="0.90"/>
<circle cx="93.00" cy="463.80" r="1.90" fill="#fff" stroke="#111" stroke-width="0.90"/>
<circle cx="85.70" cy="467.30" r="1.90" fill="#fff" stroke="#111" stroke-width="0.90"/>
<circle cx="85.70" cy="477.30" r="1.90" fill="#fff" stroke="#111" stroke-width="0.90"/>
<circle cx="103.60" cy="469.70" r="1.90" fill="#fff" stroke="#111" stroke-width="0.90"/>
<circle cx="107.90" cy="471.00" r="1.90" fill="#fff" stroke="#111" stroke-width="0.90"/>
<circle cx="117.20" cy="471.40" r="1.90" fill="#fff" stroke="#111" stroke-width="0.90"/>
<circle cx="121.90" cy="472.50" r="1.90" fill="#fff" stroke="#111" stroke-width="0.90"/>
<circle cx="112.50" cy="473.30" r="1.90" fill="#fff" stroke="#111" stroke-width="0.90"/>
<circle cx="107.90" cy="474.90" r="1.90" fill="#fff" stroke="#111" stroke-width="0.90"/>
<circle cx="117.20" cy="475.70" r="1.90" fill="#fff" stroke="#111" stroke-width="0.90"/>
<circle cx="103.60" cy="477.30" r="1.90" fill="#fff" stroke="#111" stroke-width="0.90"/>
<circle cx="112.50" cy="477.30" r="1.90" fill="#fff" stroke="#111" stroke-width="0.90"/>
<circle cx="121.90" cy="479.10" r="1.90" fill="#fff" stroke="#111" stroke-width="0.90"/>
<path d="M58.60 397.50 V385.40 H112.50 V410.70" fill="none" stroke="#8c8c8c" stroke-width="0.80" />
<path d="M85.40 432.80 V425.40 H112.50 V468.10" fill="none" stroke="#8c8c8c" stroke-width="0.80" />
<text x="85.60" y="380.30" font-size="8.30" text-anchor="middle"><tspan font-style="italic">P</tspan> = 1.0 × 10<tspan dy="-3.32" font-size="5.48">−6</tspan></text>
<text x="97.60" y="422.50" font-size="8.45" text-anchor="middle"><tspan font-style="italic">P</tspan> = 0.0432</text>
<line x1="77.70" y1="498.40" x2="121.60" y2="498.40" stroke="#888" stroke-width="1.00" />
<text x="100.00" y="508.90" font-size="8.70" text-anchor="middle">MDMG-935P</text>
<text x="100.00" y="518.80" font-size="8.70" text-anchor="middle">(mg kg<tspan dy="-3.48" font-size="5.74">−1</tspan><tspan dy="3.48"> d</tspan><tspan dy="-3.48" font-size="5.74">−1</tspan><tspan dy="3.48">)</tspan></text>
<text font-size="8.20" transform="translate(9.30 437.10) rotate(-90) scale(1.100 1)" text-anchor="middle">AST (U l<tspan dy="-3.28" font-size="5.41">−1</tspan><tspan dy="3.28">)</tspan></text>
<text x="151.40" y="378.40" font-size="13.00" fill="#000" font-weight="bold" stroke="#000" stroke-width="0.35">h</text>
<rect x="198.50" y="446.10" width="20.80" height="34.90" fill="#ff0000" stroke="#111" stroke-width="1.20" />
<rect x="225.40" y="458.50" width="20.90" height="22.50" fill="#8faadc" stroke="#111" stroke-width="1.20" />
<rect x="252.20" y="469.40" width="20.90" height="11.60" fill="#0000ff" stroke="#111" stroke-width="1.20" />
<line x1="208.80" y1="437.30" x2="208.80" y2="454.90" stroke="#111" stroke-width="1.00" />
<line x1="205.80" y1="437.30" x2="211.80" y2="437.30" stroke="#111" stroke-width="1.00" />
<line x1="205.80" y1="454.90" x2="211.80" y2="454.90" stroke="#111" stroke-width="1.00" />
<line x1="235.80" y1="454.00" x2="235.80" y2="462.60" stroke="#111" stroke-width="1.00" />
<line x1="232.80" y1="454.00" x2="238.80" y2="454.00" stroke="#111" stroke-width="1.00" />
<line x1="232.80" y1="462.60" x2="238.80" y2="462.60" stroke="#111" stroke-width="1.00" />
<line x1="262.60" y1="466.50" x2="262.60" y2="472.20" stroke="#111" stroke-width="1.00" />
<line x1="259.60" y1="466.50" x2="265.60" y2="466.50" stroke="#111" stroke-width="1.00" />
<line x1="259.60" y1="472.20" x2="265.60" y2="472.20" stroke="#111" stroke-width="1.00" />
<line x1="187.20" y1="393.10" x2="187.20" y2="481.40" stroke="#555" stroke-width="0.80" />
<line x1="186.80" y1="481.00" x2="284.80" y2="481.00" stroke="#555" stroke-width="0.80" />
<line x1="183.60" y1="393.50" x2="187.20" y2="393.50" stroke="#555" stroke-width="0.80" />
<text font-size="8.10" transform="translate(180.80 396.27) scale(1.075 1)" text-anchor="end">200</text>
<line x1="183.60" y1="415.40" x2="187.20" y2="415.40" stroke="#555" stroke-width="0.80" />
<text font-size="8.10" transform="translate(180.80 418.17) scale(1.075 1)" text-anchor="end">150</text>
<line x1="183.60" y1="437.30" x2="187.20" y2="437.30" stroke="#555" stroke-width="0.80" />
<text font-size="8.10" transform="translate(180.80 440.07) scale(1.075 1)" text-anchor="end">100</text>
<line x1="183.60" y1="459.10" x2="187.20" y2="459.10" stroke="#555" stroke-width="0.80" />
<text font-size="8.10" transform="translate(180.80 461.87) scale(1.075 1)" text-anchor="end">50</text>
<line x1="183.60" y1="481.00" x2="187.20" y2="481.00" stroke="#555" stroke-width="0.80" />
<text font-size="8.10" transform="translate(180.80 483.77) scale(1.075 1)" text-anchor="end">0</text>
<line x1="208.80" y1="481.00" x2="208.80" y2="484.20" stroke="#555" stroke-width="0.80" />
<text x="208.80" y="493.30" font-size="7.70" text-anchor="middle">Vehicle</text>
<line x1="235.80" y1="481.00" x2="235.80" y2="484.20" stroke="#555" stroke-width="0.80" />
<text x="235.80" y="493.30" font-size="7.70" text-anchor="middle">5</text>
<line x1="262.60" y1="481.00" x2="262.60" y2="484.20" stroke="#555" stroke-width="0.80" />
<text x="262.60" y="493.30" font-size="7.70" text-anchor="middle">10</text>
<circle cx="208.70" cy="409.20" r="1.90" fill="#fff" stroke="#111" stroke-width="0.90"/>
<circle cx="208.70" cy="429.30" r="1.90" fill="#fff" stroke="#111" stroke-width="0.90"/>
<circle cx="208.70" cy="432.50" r="1.90" fill="#fff" stroke="#111" stroke-width="0.90"/>
<circle cx="208.70" cy="453.40" r="1.90" fill="#fff" stroke="#111" stroke-width="0.90"/>
<circle cx="208.70" cy="461.20" r="1.90" fill="#fff" stroke="#111" stroke-width="0.90"/>
<circle cx="208.70" cy="465.30" r="1.90" fill="#fff" stroke="#111" stroke-width="0.90"/>
<circle cx="208.70" cy="469.30" r="1.90" fill="#fff" stroke="#111" stroke-width="0.90"/>
<circle cx="235.70" cy="433.10" r="1.90" fill="#fff" stroke="#111" stroke-width="0.90"/>
<circle cx="228.50" cy="457.70" r="1.90" fill="#fff" stroke="#111" stroke-width="0.90"/>
<circle cx="235.70" cy="457.40" r="1.90" fill="#fff" stroke="#111" stroke-width="0.90"/>
<circle cx="243.00" cy="457.70" r="1.90" fill="#fff" stroke="#111" stroke-width="0.90"/>
<circle cx="228.50" cy="461.40" r="1.90" fill="#fff" stroke="#111" stroke-width="0.90"/>
<circle cx="235.70" cy="461.40" r="1.90" fill="#fff" stroke="#111" stroke-width="0.90"/>
<circle cx="243.00" cy="461.40" r="1.90" fill="#fff" stroke="#111" stroke-width="0.90"/>
<circle cx="235.70" cy="477.00" r="1.90" fill="#fff" stroke="#111" stroke-width="0.90"/>
<circle cx="262.50" cy="449.00" r="1.90" fill="#fff" stroke="#111" stroke-width="0.90"/>
<circle cx="253.60" cy="464.90" r="1.90" fill="#fff" stroke="#111" stroke-width="0.90"/>
<circle cx="259.50" cy="464.90" r="1.90" fill="#fff" stroke="#111" stroke-width="0.90"/>
<circle cx="265.60" cy="464.90" r="1.90" fill="#fff" stroke="#111" stroke-width="0.90"/>
<circle cx="271.90" cy="464.90" r="1.90" fill="#fff" stroke="#111" stroke-width="0.90"/>
<circle cx="262.50" cy="468.90" r="1.90" fill="#fff" stroke="#111" stroke-width="0.90"/>
<circle cx="253.60" cy="477.00" r="1.90" fill="#fff" stroke="#111" stroke-width="0.90"/>
<circle cx="259.50" cy="477.00" r="1.90" fill="#fff" stroke="#111" stroke-width="0.90"/>
<circle cx="265.60" cy="477.00" r="1.90" fill="#fff" stroke="#111" stroke-width="0.90"/>
<circle cx="271.90" cy="477.00" r="1.90" fill="#fff" stroke="#111" stroke-width="0.90"/>
<path d="M208.60 401.50 V389.50 H262.50 V438.40" fill="none" stroke="#8c8c8c" stroke-width="0.80" />
<text x="236.00" y="383.80" font-size="8.45" text-anchor="middle"><tspan font-style="italic">P</tspan> = 0.0233</text>
<line x1="227.80" y1="498.40" x2="272.00" y2="498.40" stroke="#888" stroke-width="1.00" />
<text x="250.10" y="508.90" font-size="8.70" text-anchor="middle">MDMG-935P</text>
<text x="250.10" y="518.80" font-size="8.70" text-anchor="middle">(mg kg<tspan dy="-3.48" font-size="5.74">−1</tspan><tspan dy="3.48"> d</tspan><tspan dy="-3.48" font-size="5.74">−1</tspan><tspan dy="3.48">)</tspan></text>
<text font-size="8.20" transform="translate(158.70 437.10) rotate(-90) scale(1.100 1)" text-anchor="middle">ALT (U l<tspan dy="-3.28" font-size="5.41">−1</tspan><tspan dy="3.28">)</tspan></text>
<text x="305.50" y="377.40" font-size="13.00" fill="#000" font-weight="bold" stroke="#000" stroke-width="0.35">i</text>
<text x="367.40" y="381.20" font-size="9.20" text-anchor="middle">Vehicle</text>
<text x="495.20" y="381.20" font-size="8.60" text-anchor="middle">5 mg kg<tspan dy="-3.44" font-size="5.68">−1</tspan><tspan dy="3.44"> d</tspan><tspan dy="-3.44" font-size="5.68">−1</tspan></text>
<text x="622.50" y="381.20" font-size="8.60" text-anchor="middle">10 mg kg<tspan dy="-3.44" font-size="5.68">−1</tspan><tspan dy="3.44"> d</tspan><tspan dy="-3.44" font-size="5.68">−1</tspan></text>
<clipPath id="hc1"><rect x="305.60" y="387.00" width="124.40" height="93.40"/></clipPath>
<g clip-path="url(#hc1)">
<rect x="305.60" y="387.00" width="124.40" height="93.40" fill="#d8ccdc" stroke="none" stroke-width="0.80" />
<circle cx="330.5" cy="424.4" r="28.0" fill="#d0c2da" opacity="0.40"/>
<circle cx="398.9" cy="443.0" r="30.0" fill="#decfe0" opacity="0.35"/>
<rect x="305.60" y="387.00" width="124.40" height="93.40" filter="url(#grain1)"/>
<path d="M363.5 434.4h0M328.6 434.8h0M404.2 395.8h0M316.9 462.6h0M310.8 478.7h0M386.9 444.5h0M307.5 436.4h0M329.3 409.6h0M363.3 428.1h0M370.2 446.8h0M388.0 429.7h0M393.7 416.4h0M341.6 393.6h0M355.4 466.1h0M424.8 466.1h0M331.7 472.0h0M427.6 424.1h0M383.9 459.7h0M316.4 418.1h0M399.9 398.0h0M318.2 392.6h0M327.7 439.2h0M329.3 455.4h0M385.7 397.9h0M331.8 423.8h0M332.1 411.1h0M346.5 414.7h0M316.8 441.4h0M380.4 421.7h0M424.9 432.2h0M413.4 404.1h0M418.6 463.4h0M329.2 456.1h0M330.1 475.7h0M380.7 426.4h0M310.4 476.9h0M379.8 414.4h0M395.2 393.4h0M375.2 466.6h0M340.5 472.7h0M307.7 412.1h0M313.1 403.5h0M376.8 399.3h0M416.4 478.6h0M391.6 441.6h0M310.0 388.7h0M392.8 476.9h0M384.7 432.0h0M345.3 480.3h0M419.4 419.9h0M417.7 468.4h0M403.9 467.6h0M383.3 422.7h0M381.3 394.5h0M353.9 455.7h0M360.4 465.3h0M398.9 389.8h0M365.4 408.5h0M337.4 388.1h0M390.0 405.9h0M418.3 448.6h0M416.5 417.5h0M330.3 427.2h0M419.3 469.2h0M378.1 416.6h0M367.4 465.2h0M394.1 475.7h0M326.6 429.1h0M332.2 425.7h0M367.0 416.5h0M427.8 429.3h0M309.5 468.5h0M393.8 440.3h0M404.1 388.8h0M362.2 389.3h0M335.1 400.2h0M383.9 428.7h0M390.8 405.6h0M327.8 388.0h0M394.4 403.7h0M348.6 452.1h0M382.0 457.6h0M404.1 471.6h0M421.6 454.5h0M352.5 440.1h0M404.7 475.2h0M386.6 406.1h0M407.4 446.9h0M345.5 472.0h0M349.0 394.7h0M374.1 458.8h0M309.1 462.6h0M405.1 403.1h0M403.6 400.1h0M369.9 454.6h0M391.4 475.3h0M423.7 395.0h0M371.1 414.1h0M375.3 416.1h0M410.8 471.1h0M411.4 477.5h0M376.9 405.8h0M368.2 443.5h0M426.2 435.2h0M405.3 439.6h0M391.6 393.2h0M339.1 431.2h0M364.9 416.6h0M382.5 473.4h0M402.5 389.1h0M333.9 451.2h0M349.8 444.9h0M396.5 398.5h0M336.8 405.5h0M359.9 422.1h0M371.5 401.9h0M384.1 446.6h0M334.5 456.2h0M417.9 416.5h0M416.0 399.5h0M396.0 411.2h0M321.3 424.6h0M307.8 405.8h0M419.0 477.4h0M368.5 457.8h0M390.9 404.7h0M318.8 390.5h0M369.6 440.1h0M328.6 406.0h0M428.8 473.6h0M313.3 475.9h0M400.7 417.5h0M369.7 427.2h0M307.2 452.5h0M328.1 429.4h0M356.0 405.2h0M383.9 424.8h0M368.3 478.8h0M337.7 472.1h0M402.4 463.1h0M417.1 469.2h0M401.0 458.5h0M395.5 393.6h0M363.9 388.0h0M385.1 445.3h0M423.1 449.2h0M387.7 440.2h0M354.1 480.4h0M308.4 444.5h0M337.5 424.5h0M329.9 422.1h0M336.8 471.6h0M368.8 477.3h0M315.1 442.8h0M311.2 473.9h0M364.3 402.8h0M357.9 436.2h0M351.1 413.7h0M375.3 413.5h0M342.4 388.3h0M310.9 401.6h0M354.1 470.8h0M311.8 479.4h0M314.7 471.6h0M365.0 477.9h0M370.7 474.5h0M363.9 478.4h0M380.7 397.7h0M362.3 406.0h0M371.3 398.6h0M388.7 429.5h0M378.0 426.2h0M396.9 409.3h0M416.7 460.3h0M350.3 412.4h0M375.9 442.3h0M399.3 404.7h0M310.5 392.7h0M358.5 445.2h0M373.0 393.8h0M389.7 438.4h0M352.0 431.7h0M348.4 456.6h0M314.8 398.2h0M383.2 458.8h0M358.4 411.1h0M346.1 438.2h0M420.2 426.9h0M317.7 468.7h0M315.9 439.7h0M390.9 414.9h0M315.1 406.9h0M315.8 415.4h0M391.9 413.4h0M350.1 454.8h0M320.2 453.2h0M360.1 462.0h0M416.9 410.2h0M351.1 420.9h0M353.8 405.2h0M375.6 403.5h0M415.2 413.3h0M369.7 437.8h0M313.6 438.1h0M316.1 394.6h0M417.4 394.9h0M323.5 456.7h0M336.1 407.6h0M370.5 458.4h0M347.6 477.4h0M367.0 437.2h0M393.7 472.5h0M424.7 446.8h0M393.9 461.9h0M357.9 400.7h0M428.9 422.1h0M331.0 426.7h0M426.2 392.5h0M319.9 447.5h0M327.9 392.8h0M378.3 471.9h0M319.1 404.2h0M334.9 454.0h0M333.5 404.3h0M327.1 457.8h0M373.8 463.3h0M338.0 469.9h0M365.6 407.6h0M423.5 461.9h0M371.2 435.2h0M428.8 448.4h0M307.0 431.1h0M404.7 453.6h0M325.2 401.7h0M337.9 468.2h0M384.8 479.8h0M372.1 401.1h0M305.8 463.7h0M407.9 394.7h0M394.7 396.1h0M363.9 476.2h0M357.5 472.6h0M408.4 406.5h0M371.0 401.7h0M344.3 416.0h0M343.6 430.6h0M350.3 451.2h0M408.8 448.1h0M352.5 453.3h0M375.8 429.8h0M429.0 461.7h0M382.2 414.1h0M372.7 414.9h0M354.4 449.3h0M330.5 455.3h0M346.9 464.2h0M323.1 395.8h0M393.7 403.8h0M409.7 442.4h0M333.8 401.7h0M358.7 434.8h0M401.0 463.7h0M346.8 425.5h0M403.8 448.7h0M307.9 417.9h0M386.5 396.9h0M369.0 460.7h0M381.7 401.8h0M417.9 438.2h0M367.9 400.2h0M383.6 405.5h0M336.0 440.8h0M346.6 473.8h0M322.5 471.4h0M375.4 439.3h0M341.5 470.8h0M377.0 464.6h0M373.8 394.1h0M328.0 479.2h0M387.5 415.7h0M397.4 422.6h0M405.6 388.5h0M363.8 400.4h0M376.4 403.2h0M338.4 440.1h0M385.4 390.5h0M323.6 476.6h0M364.1 425.4h0M391.4 457.8h0M366.0 479.9h0M412.0 425.2h0M376.0 471.6h0M345.5 392.1h0M417.6 455.4h0M399.1 415.5h0M314.3 398.6h0M368.1 424.1h0M392.0 436.1h0M343.7 423.9h0M314.1 472.1h0M388.4 467.9h0M405.8 407.7h0M376.1 471.4h0M404.2 398.6h0M423.9 387.1h0M342.8 417.3h0M417.0 463.2h0M349.9 441.7h0M309.5 470.9h0M364.4 406.3h0M420.4 470.8h0M409.8 420.1h0M330.7 446.1h0M415.1 391.7h0M413.8 453.6h0M392.2 474.6h0M315.4 407.9h0M394.0 405.3h0M334.9 449.1h0M351.9 448.8h0M379.0 408.4h0M420.9 449.3h0M360.4 436.3h0M311.2 443.0h0M336.8 462.0h0M341.1 457.6h0M340.3 438.2h0M417.2 479.3h0M363.0 457.1h0M421.2 433.7h0M374.8 447.2h0M387.5 460.1h0M368.5 466.0h0M370.4 475.9h0M402.6 402.4h0M334.9 428.1h0M403.4 460.9h0M366.4 407.7h0M367.7 390.3h0M328.0 401.2h0M367.3 427.6h0M338.3 461.6h0M418.5 440.1h0M404.1 409.2h0M344.3 391.0h0M382.9 436.1h0M378.8 395.3h0M326.9 410.8h0M391.5 464.6h0M313.2 425.4h0M332.5 477.6h0M323.6 429.5h0M310.5 409.5h0M323.2 423.7h0M358.4 394.1h0M334.2 410.6h0M381.6 390.7h0M386.4 392.5h0M392.0 467.7h0M415.9 430.2h0M332.4 419.4h0M374.0 402.3h0M332.3 430.7h0M361.2 479.8h0M412.9 406.1h0M314.7 451.6h0M339.8 388.7h0M394.6 412.1h0M324.7 474.5h0M308.1 417.1h0M315.9 469.4h0M401.5 435.5h0M354.6 409.3h0M324.4 442.6h0M344.4 426.6h0M322.5 453.0h0M395.8 449.2h0M331.1 413.2h0M356.0 423.1h0M333.7 414.3h0M332.4 390.8h0M384.0 439.9h0M427.0 414.8h0M419.9 407.2h0M334.8 446.1h0M358.8 423.7h0M353.3 417.7h0M340.4 401.8h0M364.7 402.6h0M335.4 395.7h0M358.1 401.1h0M392.9 438.7h0M308.5 423.6h0M313.4 424.8h0M367.2 441.7h0M346.1 410.7h0M348.8 470.3h0M338.2 449.4h0M401.6 445.6h0M356.7 425.8h0M408.8 469.2h0M418.8 390.6h0M368.7 415.8h0M427.1 401.0h0M334.0 450.5h0M305.7 437.8h0M335.4 433.1h0M373.8 445.3h0M409.0 477.5h0M348.7 469.8h0M394.7 451.9h0M425.5 464.0h0M382.9 432.8h0M351.6 413.7h0M372.0 409.1h0M346.0 403.6h0M321.3 392.9h0M318.3 452.8h0M361.8 459.1h0M325.8 467.9h0M312.2 410.7h0M404.7 423.6h0M336.9 453.8h0M347.1 457.9h0M408.7 440.0h0M405.3 398.7h0M388.9 408.6h0M307.3 441.7h0M426.3 399.5h0M357.8 446.0h0M421.7 479.4h0M394.3 398.1h0M320.5 417.8h0M373.1 432.1h0M344.1 461.8h0M340.9 423.6h0M400.8 478.6h0M323.9 403.4h0M421.7 410.5h0M320.6 417.2h0M376.0 400.4h0M339.7 408.3h0M351.1 411.2h0M313.6 470.4h0M315.4 404.0h0M365.8 425.7h0M354.9 392.4h0M387.3 445.2h0M360.7 464.9h0M327.5 389.5h0" stroke="#fff" stroke-width="1.0" stroke-linecap="round" fill="none" opacity="0.9"/>
<path d="M320.4 394.0h0M399.3 416.0h0M306.9 406.6h0M307.0 436.2h0M404.2 455.7h0M355.6 452.9h0M418.8 389.2h0M333.9 423.3h0M387.3 462.7h0M385.0 420.1h0M418.2 417.0h0M347.2 456.3h0M398.1 438.0h0M327.7 396.9h0M349.2 427.2h0M368.1 424.7h0M372.4 475.9h0M319.1 479.2h0M425.4 407.5h0M393.4 403.6h0M389.8 475.5h0M324.0 446.3h0M385.7 406.8h0M416.0 467.0h0M368.4 440.0h0M409.8 451.4h0M388.4 426.2h0M334.2 443.1h0M369.7 390.0h0M361.2 442.4h0M421.5 401.2h0M429.1 455.9h0M397.3 479.4h0M366.7 408.9h0M313.7 468.3h0M336.8 462.4h0M372.3 467.8h0M340.4 447.1h0M374.6 460.5h0M335.7 461.7h0M404.7 401.2h0M318.1 390.4h0M413.2 464.9h0M328.2 423.3h0M382.4 471.2h0M428.5 406.3h0M414.6 455.0h0M388.7 427.2h0M347.8 416.5h0M340.2 443.3h0M328.1 399.0h0M363.6 399.1h0M422.7 444.0h0M330.0 479.9h0M397.2 420.7h0M356.4 400.7h0M358.4 463.6h0M348.7 452.7h0M341.2 466.8h0M362.2 474.2h0M398.1 443.2h0M313.6 426.1h0M360.4 476.2h0M392.0 449.8h0M336.9 426.3h0M407.7 466.4h0M316.6 421.0h0M395.5 449.5h0M417.3 475.7h0M384.3 430.8h0M363.4 416.5h0M313.9 430.2h0M331.7 421.5h0M354.7 456.3h0M326.4 447.6h0M396.5 459.5h0M423.1 470.7h0M349.3 437.1h0M319.4 460.7h0M368.7 398.6h0M321.7 395.3h0M342.2 459.6h0M357.1 392.1h0M361.8 439.1h0M324.9 477.6h0M356.2 444.2h0M425.5 425.6h0M324.7 463.4h0M394.2 401.6h0M309.2 397.3h0M311.3 425.9h0M338.0 397.4h0M346.5 432.7h0M415.9 475.4h0M367.9 471.4h0M342.8 456.1h0M351.4 427.1h0M350.2 427.2h0M311.8 465.0h0M371.3 438.1h0M333.3 396.3h0M344.7 432.2h0M398.8 432.5h0M356.2 477.3h0M379.4 476.7h0M380.0 421.5h0M381.4 442.1h0M367.5 435.2h0M312.2 395.7h0M339.2 461.3h0M412.6 424.6h0M409.0 417.7h0M407.5 460.6h0M312.7 458.3h0M399.2 441.2h0M397.3 426.1h0M428.0 472.6h0M402.8 428.1h0M352.6 428.8h0M320.3 416.9h0M314.5 397.8h0M388.5 438.2h0M320.3 416.0h0M375.3 473.1h0M357.2 437.1h0M320.9 468.6h0M309.5 427.3h0M389.5 473.7h0M391.4 423.2h0M318.7 456.3h0M378.5 405.9h0M326.0 419.7h0M370.3 423.3h0M410.4 420.5h0M365.4 478.6h0M392.4 408.8h0M396.5 440.7h0M313.6 464.0h0M394.7 427.4h0M362.3 432.5h0M399.3 396.6h0M411.0 390.3h0M376.3 438.5h0M324.5 475.8h0M332.8 405.6h0M381.5 398.3h0M396.0 411.7h0M308.1 437.2h0M342.1 410.6h0M365.9 412.5h0M340.1 434.6h0M325.5 467.3h0M381.4 437.8h0M402.0 411.3h0M334.6 429.3h0M396.3 475.1h0M376.0 419.6h0M318.3 439.8h0M313.2 449.2h0M309.3 440.3h0M390.8 466.9h0M370.4 394.2h0M328.6 436.2h0M367.7 405.4h0M357.5 432.4h0M375.4 399.6h0M412.4 474.3h0M366.5 442.2h0M316.3 435.5h0M309.6 397.4h0M424.7 389.2h0M408.8 451.3h0M377.8 457.7h0M305.7 393.3h0M426.9 464.8h0M347.3 419.4h0M401.4 411.5h0M371.0 418.3h0M327.5 401.0h0M365.2 460.2h0M335.2 448.1h0M328.6 408.7h0M346.6 454.8h0M403.9 437.4h0M400.6 409.8h0M357.1 479.4h0M353.8 399.7h0M352.8 413.8h0M307.3 433.6h0M313.7 472.4h0M323.2 453.7h0M329.6 399.7h0M362.0 421.8h0M339.6 474.7h0M328.6 419.5h0M343.8 404.1h0M371.1 437.5h0M315.7 407.8h0M368.3 402.0h0M376.3 414.5h0M426.6 429.9h0M410.8 430.4h0M423.0 478.3h0M400.5 424.4h0M325.9 403.2h0M331.9 388.8h0M405.0 433.6h0M363.5 404.1h0M343.5 390.9h0M382.6 421.5h0M383.2 416.6h0M415.6 441.3h0M372.8 430.0h0M411.7 469.4h0M368.9 479.0h0M326.9 454.6h0M340.9 396.1h0M348.8 439.2h0M420.4 435.0h0M305.8 433.4h0M377.0 446.0h0M316.8 433.5h0M385.4 477.6h0M360.7 394.9h0M334.8 464.4h0M337.3 471.3h0M366.5 432.0h0M410.2 434.0h0M330.0 407.1h0M390.8 461.5h0M406.3 461.8h0M407.0 415.3h0M420.0 389.1h0M348.3 461.0h0M418.9 474.1h0M313.6 449.3h0M427.8 468.4h0M328.7 451.8h0M428.1 445.2h0M376.4 475.1h0M366.8 422.9h0M308.4 402.0h0M334.1 448.0h0M392.0 435.2h0M339.5 404.5h0M391.0 475.0h0M420.9 472.1h0M401.9 418.1h0M370.6 432.6h0M412.9 437.0h0M398.2 410.3h0M377.8 409.5h0M314.3 391.9h0M371.1 475.6h0M357.2 425.0h0M364.6 476.6h0M359.5 451.0h0M417.9 410.5h0M429.7 436.3h0M400.9 392.3h0M374.2 412.5h0M396.0 416.8h0M386.2 452.9h0M359.4 397.0h0M424.4 470.0h0M314.4 412.2h0M360.0 398.9h0M376.9 456.5h0M386.4 450.6h0M311.4 453.4h0M312.4 431.2h0M314.7 423.5h0M318.7 476.1h0M366.1 441.9h0M428.0 398.2h0M333.1 467.9h0M337.6 460.9h0M361.4 421.2h0M362.0 416.5h0M356.7 415.4h0M427.1 460.4h0M389.1 456.2h0M395.7 475.7h0M388.8 427.6h0M333.7 459.0h0M307.7 425.9h0M337.9 444.3h0M355.2 479.8h0M419.1 392.6h0M407.8 465.2h0M379.0 453.5h0M398.5 441.1h0M393.3 439.4h0M339.7 440.0h0M367.2 402.6h0M416.7 448.9h0M405.9 426.2h0M381.0 430.0h0M349.5 457.9h0M343.0 451.6h0M408.7 422.5h0M350.2 437.2h0M352.2 448.4h0M336.7 403.6h0M316.3 461.2h0M338.5 432.7h0M309.1 463.5h0M331.9 452.7h0M347.5 469.0h0M364.6 416.3h0M406.7 440.2h0M428.4 407.9h0M348.1 428.1h0M408.6 472.5h0M326.9 420.2h0M332.5 469.4h0M333.8 421.0h0M395.0 391.4h0M313.4 465.6h0M378.1 395.9h0M349.5 479.0h0M412.9 392.9h0M308.2 452.1h0M339.5 449.3h0M345.7 430.7h0M375.4 420.2h0M336.6 414.3h0M307.6 416.0h0M339.0 397.6h0M364.0 434.8h0M416.0 457.4h0M387.6 451.7h0M357.0 423.4h0M363.9 436.4h0M403.7 470.4h0M308.4 415.1h0M404.7 444.9h0M329.4 468.1h0M390.6 451.6h0M362.2 424.1h0M409.5 393.9h0M426.4 437.8h0M344.1 467.5h0M307.3 400.8h0M385.2 397.3h0M379.2 441.4h0M363.3 471.1h0M332.6 428.7h0M347.5 441.0h0M307.8 407.5h0M332.3 393.8h0M347.1 476.5h0M318.2 446.5h0M312.7 390.2h0M323.1 405.8h0M345.6 411.2h0M328.5 446.3h0M422.0 391.1h0M353.2 463.9h0M394.5 404.3h0M426.1 409.4h0M419.7 450.0h0M328.8 409.2h0M388.9 445.6h0M394.8 433.1h0M366.8 422.9h0M311.7 389.6h0M351.8 417.8h0M379.3 472.4h0M367.8 433.7h0M375.9 409.3h0M309.8 404.7h0M410.6 444.9h0M400.3 454.5h0M408.3 400.8h0M310.3 389.7h0M353.0 395.1h0M310.2 397.5h0M329.4 397.5h0M385.3 402.7h0M372.2 422.1h0M376.3 434.4h0M364.6 390.7h0M329.7 418.4h0M416.0 441.9h0M373.0 474.8h0M353.3 453.1h0M393.5 471.8h0M341.0 414.3h0M328.7 423.7h0M397.7 467.9h0M323.5 424.7h0M322.0 459.9h0M383.8 413.1h0M381.1 404.9h0M412.2 479.2h0M351.1 451.8h0M411.2 405.6h0M347.8 387.1h0M305.8 417.7h0M428.9 446.6h0M394.7 408.7h0M358.0 416.7h0M344.5 456.3h0M390.9 401.2h0M425.9 406.0h0M325.8 390.3h0M328.4 455.2h0M389.5 477.4h0M317.8 390.3h0M408.2 450.9h0M412.1 421.8h0M385.4 389.4h0M309.3 402.1h0M371.7 399.0h0M408.1 419.2h0M389.8 478.1h0M401.9 446.1h0M306.9 431.5h0M380.4 434.6h0M312.9 399.3h0M390.4 479.5h0M341.7 429.6h0M365.8 424.2h0M350.1 480.4h0M355.3 394.4h0M324.3 400.9h0M380.5 458.3h0M342.3 421.4h0M332.1 388.1h0M365.7 399.4h0M416.4 457.0h0M389.6 407.0h0M347.3 400.4h0M319.2 390.5h0M364.1 471.1h0M331.3 391.2h0M331.5 447.1h0M420.5 475.6h0M345.5 454.6h0M404.5 390.8h0M323.0 438.0h0M413.2 410.2h0M345.1 402.7h0M400.1 418.4h0M392.2 455.0h0M320.3 395.9h0M408.4 433.4h0M351.0 421.5h0M426.8 443.6h0" stroke="#fff" stroke-width="1.5" stroke-linecap="round" fill="none" opacity="0.9"/>
<path d="M393.0 442.8h0M381.9 458.9h0M381.3 468.9h0M426.2 425.0h0M386.3 422.0h0M356.7 421.2h0M386.1 419.9h0M349.4 466.1h0M405.1 450.2h0M410.5 423.1h0M385.5 410.5h0M344.8 396.4h0M404.9 473.0h0M343.3 422.3h0M320.2 400.3h0M385.0 470.3h0M316.0 410.8h0M400.0 408.1h0M414.8 420.0h0M364.5 405.8h0M341.8 426.7h0M340.2 455.1h0M309.4 446.7h0M405.4 417.5h0M329.4 398.2h0M315.2 461.0h0M380.6 388.4h0M362.0 442.9h0M345.3 390.3h0M358.0 420.0h0M426.6 420.6h0M420.4 468.1h0M377.0 398.8h0M406.1 395.4h0M374.9 396.1h0M317.1 425.3h0M325.0 479.6h0M377.5 470.8h0M424.6 457.8h0M385.9 431.2h0M402.4 449.5h0M325.3 436.5h0M357.0 435.1h0M394.3 451.4h0M376.5 460.7h0M408.3 395.6h0M323.6 391.4h0M325.6 476.6h0M344.1 428.0h0M363.5 439.7h0M340.4 459.7h0M346.9 466.0h0M405.6 387.1h0M373.7 395.7h0M415.6 393.5h0M338.8 458.8h0M379.1 449.3h0M357.0 435.6h0M330.9 430.2h0M337.6 450.1h0M318.9 399.8h0M330.2 436.8h0M378.0 387.3h0M428.4 465.0h0M352.9 401.8h0M408.3 478.2h0M327.8 457.6h0M407.4 474.5h0M331.6 398.3h0M326.1 408.6h0M417.6 472.0h0M364.5 398.9h0M349.5 409.5h0M386.3 454.2h0M402.1 427.8h0M362.4 430.7h0M351.7 429.5h0M390.8 453.4h0M346.2 439.9h0M323.6 391.2h0M353.7 420.6h0M309.6 394.4h0M358.6 475.0h0M409.8 389.8h0M345.0 421.4h0M344.3 399.8h0M379.0 465.4h0M353.1 403.5h0M318.7 388.4h0M400.8 408.6h0M395.7 460.9h0M316.0 404.6h0M344.8 458.8h0M397.3 415.3h0M361.8 420.2h0M364.3 461.1h0M338.2 462.7h0M420.0 443.1h0M424.9 474.6h0M326.9 479.6h0M330.5 462.2h0M320.7 415.3h0M360.6 465.4h0M390.3 406.0h0M417.3 467.8h0M369.0 391.7h0M341.1 414.3h0M357.7 475.0h0M379.6 463.6h0M314.5 409.9h0M396.6 418.8h0M333.9 392.9h0M311.9 425.5h0M373.6 424.3h0M375.9 414.2h0M307.7 450.0h0M347.4 432.9h0M352.6 412.2h0M312.0 414.7h0M342.7 397.7h0M309.3 431.9h0M308.0 469.1h0M350.4 428.4h0M371.0 389.2h0M318.2 460.4h0M374.8 433.1h0M348.4 457.2h0M368.2 461.0h0M409.6 470.5h0M395.9 449.9h0M363.0 436.8h0M377.6 436.1h0M407.5 467.1h0M312.1 457.2h0M382.3 442.9h0M418.6 391.6h0M364.7 422.1h0M423.6 402.4h0M375.6 400.5h0M399.4 432.7h0M397.1 415.7h0M415.5 387.7h0M333.5 455.5h0M414.9 459.6h0M339.8 394.6h0M393.8 455.3h0M313.1 474.3h0M371.3 390.1h0M365.3 418.6h0M318.6 469.7h0M421.9 398.6h0M361.0 412.5h0M389.2 397.3h0M347.1 425.3h0M364.4 427.6h0M379.7 474.8h0M421.5 471.7h0M408.7 408.3h0M336.0 429.9h0M385.6 443.6h0M349.1 479.6h0M344.5 388.8h0M316.9 406.6h0M396.5 465.5h0M310.8 409.1h0M335.8 460.5h0M417.3 411.6h0M318.3 477.3h0M426.4 453.9h0M364.4 456.8h0M401.1 434.6h0M339.3 436.0h0M388.0 417.3h0M385.1 400.7h0M426.4 406.7h0M333.8 476.7h0M423.8 473.4h0M410.2 466.3h0M407.7 439.9h0M314.8 455.3h0M409.6 465.3h0M311.0 392.7h0M396.5 432.6h0M416.8 479.5h0M361.2 450.1h0M388.3 451.8h0M351.3 446.7h0M314.0 471.1h0M395.6 462.0h0M363.1 406.2h0M361.7 450.6h0M373.8 397.1h0M306.1 424.2h0M336.1 408.2h0M333.2 425.8h0M392.1 472.3h0M389.8 388.9h0M413.5 443.9h0M396.6 444.3h0M349.7 418.7h0M314.5 449.0h0M312.3 450.6h0M418.9 449.4h0M381.0 462.5h0M425.0 462.9h0M428.8 429.9h0M307.4 444.4h0M385.0 467.6h0M381.8 420.9h0M306.2 464.6h0M383.3 479.0h0M379.4 466.6h0M401.7 479.5h0M363.1 470.8h0M355.0 388.0h0M346.1 419.8h0M429.0 423.9h0M339.8 451.5h0M317.7 415.5h0M354.7 398.6h0M380.0 426.5h0M405.4 418.7h0M427.2 405.3h0M371.6 408.1h0M307.4 415.2h0M417.0 414.2h0M366.4 435.9h0M338.7 437.0h0M313.7 419.6h0M341.0 463.2h0M401.4 452.5h0M379.6 467.9h0M397.8 392.2h0M321.8 456.9h0M410.1 479.4h0M402.0 401.7h0M376.2 445.3h0M380.8 399.6h0M426.1 434.7h0M339.0 478.6h0M353.5 393.5h0M388.8 411.3h0M332.7 415.3h0M381.1 416.9h0M388.3 471.6h0M428.9 470.0h0M420.2 410.6h0M408.1 395.4h0M378.0 394.1h0M317.9 475.6h0M321.4 454.0h0M371.2 387.1h0M404.3 392.7h0M415.9 463.5h0M367.3 428.7h0M309.1 452.4h0M310.5 436.1h0M420.7 450.3h0M320.1 454.3h0M392.9 417.8h0M401.6 441.1h0M357.0 436.1h0M339.9 413.8h0M416.2 419.6h0M401.5 421.3h0M329.3 387.1h0M425.5 457.2h0M427.7 442.0h0M313.4 402.3h0M311.7 444.2h0M383.0 476.2h0M342.4 408.8h0M333.1 400.7h0M309.2 433.1h0M357.8 421.4h0M423.9 416.3h0M408.5 436.7h0M318.4 389.8h0M381.4 468.7h0M311.9 452.6h0M334.5 451.2h0M409.2 454.9h0M336.0 401.6h0M425.9 472.5h0M420.5 437.5h0M312.0 421.4h0M418.8 393.3h0M342.3 391.0h0M415.1 420.0h0M315.8 420.3h0M330.9 427.5h0M382.2 448.5h0M317.6 436.9h0M312.6 428.2h0M406.1 411.5h0M407.9 409.8h0M354.5 461.0h0M306.0 438.7h0M372.4 453.8h0M423.5 451.9h0M333.4 405.6h0M365.5 413.3h0M374.4 395.4h0M391.9 425.9h0M311.8 398.3h0M421.9 466.3h0M415.2 423.4h0M428.1 402.9h0M395.9 475.0h0M331.6 387.4h0M321.3 394.8h0M405.6 443.6h0M364.9 397.7h0M385.5 399.8h0M322.2 442.5h0M385.7 461.8h0M408.4 399.8h0M343.4 400.4h0M366.7 389.6h0M413.5 450.7h0M406.2 432.6h0M419.1 465.0h0M408.7 462.3h0M332.5 419.3h0M312.6 458.4h0M364.5 479.1h0M341.6 427.3h0M413.4 477.5h0M399.8 469.4h0M420.5 412.4h0M382.3 392.9h0M389.8 476.0h0M368.5 400.6h0M376.4 393.1h0M363.0 394.5h0M357.5 463.4h0M397.6 466.7h0M362.5 428.2h0M312.4 460.7h0M376.5 425.1h0M323.7 429.8h0M313.4 398.2h0M315.5 426.7h0M322.7 464.3h0M381.5 468.0h0M374.5 401.9h0M340.0 465.4h0M378.4 447.4h0M384.3 391.5h0M330.5 427.3h0M410.6 475.1h0M379.1 411.2h0M311.4 439.2h0M356.5 473.9h0M331.3 406.1h0M307.6 389.7h0M406.0 468.4h0M324.7 388.4h0M377.3 410.0h0M382.0 472.2h0M398.5 413.1h0M381.1 414.0h0M400.1 411.1h0M413.8 450.4h0" stroke="#7c76a6" stroke-width="0.9" stroke-linecap="round" fill="none" opacity="0.75"/>
<path d="M416.5 419.3h0M424.3 441.4h0M337.6 447.4h0M344.2 397.6h0M310.5 444.0h0M335.7 396.3h0M402.2 400.3h0M399.5 412.5h0M350.8 474.1h0M408.7 465.0h0M427.6 443.4h0M421.9 445.1h0M378.0 417.2h0M352.8 440.2h0M336.3 447.0h0M413.1 454.3h0M333.6 389.6h0M351.2 427.5h0M410.9 438.1h0M370.0 443.6h0M374.4 450.3h0M375.0 438.6h0M335.0 398.5h0M360.3 469.8h0M423.4 414.4h0M377.1 435.4h0M362.1 403.6h0M403.8 395.0h0M334.0 413.0h0M330.9 405.1h0M315.5 435.9h0M327.0 447.0h0M380.3 445.3h0M365.4 444.2h0M342.4 430.3h0M391.3 407.1h0M396.8 441.7h0M426.9 444.6h0M373.9 458.7h0M341.5 421.8h0M359.4 455.6h0M395.1 404.3h0M424.3 478.7h0M367.2 480.0h0M382.9 422.9h0M316.4 388.6h0M379.2 454.1h0M382.2 460.1h0M359.9 456.3h0M380.7 446.2h0M373.8 449.3h0M375.3 395.5h0M389.6 452.7h0M358.8 477.6h0M365.4 402.5h0M369.2 420.4h0M326.2 470.0h0M327.6 453.5h0M326.8 435.3h0M429.6 395.3h0M412.5 387.6h0M427.2 471.9h0M361.4 446.6h0M362.8 402.3h0M349.9 428.2h0M413.8 397.7h0M372.7 431.0h0M374.4 461.0h0M380.2 417.2h0M424.4 442.9h0M339.3 438.1h0M413.5 391.3h0M386.2 432.5h0M341.4 401.9h0M334.4 427.9h0M358.1 443.2h0M339.2 444.9h0M364.5 461.3h0M405.7 409.2h0M427.1 438.0h0M347.3 410.8h0M394.3 427.8h0M390.7 410.9h0M412.6 411.7h0M413.8 428.0h0M355.5 440.9h0M370.6 438.2h0M375.3 475.7h0M398.0 395.6h0M428.5 388.4h0M312.2 463.4h0M339.9 389.7h0M327.5 433.3h0M410.6 388.9h0M326.2 388.2h0M312.3 416.4h0M366.7 477.5h0M386.2 466.8h0M379.1 472.0h0M389.4 409.4h0M351.9 431.8h0M319.3 473.3h0M365.7 405.7h0M366.8 462.2h0M339.6 441.9h0M317.0 409.5h0M328.9 434.2h0M391.1 408.2h0M391.3 441.7h0M399.0 480.0h0M347.1 480.1h0M362.2 434.6h0M327.7 394.9h0M385.9 396.6h0M309.9 394.9h0M373.1 405.3h0M338.4 458.6h0M361.1 400.8h0M390.1 479.9h0M383.0 428.6h0M372.6 452.6h0M409.9 460.4h0M336.5 459.9h0M318.5 399.0h0M368.7 404.2h0M375.4 413.5h0M423.0 427.5h0M407.1 475.2h0M361.9 458.8h0M366.8 424.3h0M321.1 448.5h0M420.3 451.2h0M345.0 436.0h0M349.9 423.5h0M401.7 387.6h0M365.5 434.8h0M323.9 455.4h0M337.1 424.7h0M336.4 442.8h0M359.2 450.9h0M358.5 460.2h0M374.2 396.8h0M366.8 410.6h0M342.7 475.5h0M365.3 456.0h0M325.0 445.8h0M320.3 407.7h0M321.5 389.3h0M418.5 477.1h0M351.4 388.2h0M396.9 448.9h0M311.3 458.6h0M314.0 408.8h0M402.5 458.7h0M334.7 434.5h0M405.2 443.4h0" stroke="#7c76a6" stroke-width="1.3" stroke-linecap="round" fill="none" opacity="0.75"/>
<path d="M306.8 454.7h0M311.7 457.9h0M327.7 469.8h0M311.4 406.2h0M310.0 402.2h0M308.3 462.8h0M314.9 414.0h0M311.4 430.6h0M324.3 455.5h0M306.3 414.1h0M319.2 437.9h0M318.4 417.2h0M308.4 407.8h0M309.4 423.9h0M309.1 440.2h0M307.7 393.8h0M322.5 428.0h0M324.4 457.0h0M309.4 450.5h0M315.5 419.8h0M309.0 399.1h0M312.6 449.3h0M309.8 442.7h0M318.3 477.5h0M308.1 402.4h0M313.5 472.9h0M306.2 440.6h0M315.9 393.4h0M312.1 398.5h0M319.1 461.2h0M317.2 439.4h0M313.3 445.1h0M310.0 394.0h0M313.8 422.4h0M317.7 432.1h0M325.3 410.6h0M326.7 475.9h0M312.7 452.8h0" stroke="#fff" stroke-width="1.20" stroke-linecap="round" fill="none"/>
<path d="M329.9 427.4h0M344.9 472.2h0M344.1 393.3h0M337.9 466.5h0M331.8 397.1h0M319.6 428.1h0M322.6 416.1h0M307.1 416.9h0M339.4 432.5h0M327.8 438.1h0M317.4 464.5h0M311.4 435.5h0M321.8 480.3h0M354.3 387.8h0M360.1 429.2h0M327.3 462.6h0M330.7 457.4h0M329.6 467.3h0M356.1 405.7h0M345.3 398.9h0M323.7 394.1h0M331.0 448.4h0M358.3 460.7h0M322.9 442.0h0M330.6 453.8h0M313.9 463.3h0M334.7 452.4h0M344.7 463.0h0M350.4 462.1h0M339.1 424.1h0M342.4 400.7h0M327.7 418.6h0M314.4 468.3h0M339.1 420.0h0M306.1 431.7h0M308.2 388.3h0M318.4 394.7h0M333.4 419.2h0M317.5 415.8h0M322.8 409.9h0M349.6 427.8h0M335.5 460.7h0M340.9 417.3h0M346.3 449.9h0M311.7 471.3h0M323.5 412.5h0M342.0 390.2h0M333.7 448.5h0M327.3 453.7h0M338.9 459.1h0M348.1 425.5h0M321.5 471.5h0M321.8 466.8h0M339.5 387.2h0M355.2 476.8h0M327.1 397.5h0M345.4 401.9h0M321.5 460.5h0M311.6 476.5h0M327.4 389.8h0M345.3 480.4h0M346.3 387.1h0M350.2 413.8h0M343.0 470.5h0M336.6 472.6h0M345.7 422.3h0M331.3 394.5h0M357.7 419.8h0M334.4 397.9h0M324.1 438.4h0M336.8 446.9h0M356.5 480.3h0M335.1 471.3h0M323.7 472.9h0M325.2 404.2h0M313.2 432.7h0M325.7 442.1h0M311.4 454.8h0M315.2 398.4h0M319.6 474.0h0M320.7 394.5h0M326.9 440.5h0M325.1 471.6h0" stroke="#fff" stroke-width="1.60" stroke-linecap="round" fill="none"/>
<path d="M340.8 406.5h0M374.9 435.5h0M388.2 473.9h0M336.2 415.3h0M327.7 415.4h0M368.6 435.9h0M362.4 480.3h0M370.4 414.1h0M330.2 440.8h0M317.5 398.7h0M384.5 427.2h0M368.5 468.3h0M375.3 444.1h0M305.7 406.2h0M344.7 440.3h0M351.9 390.6h0M341.6 432.9h0M357.0 453.2h0M344.4 388.6h0M390.1 431.3h0M306.1 427.7h0M385.7 458.2h0M314.0 400.3h0M311.3 439.6h0M344.9 451.6h0M334.7 443.7h0M356.0 468.2h0M350.3 432.3h0M313.9 412.2h0M339.4 389.6h0M352.7 400.4h0M338.4 464.0h0M329.1 394.1h0M367.3 441.4h0M373.2 400.8h0M325.2 392.4h0M350.6 419.4h0M365.7 437.4h0M356.3 463.0h0M347.5 465.3h0M320.1 403.1h0M314.7 475.3h0M328.6 474.5h0M316.2 412.5h0M359.4 466.8h0M382.0 412.8h0M353.7 405.0h0M366.0 406.9h0M368.1 444.9h0M352.6 450.5h0M311.2 480.3h0M338.8 396.4h0M385.3 402.4h0M343.5 424.6h0M305.9 387.4h0M311.2 390.8h0M361.6 392.8h0M350.9 448.2h0M354.7 397.7h0M378.7 463.2h0M370.9 469.4h0M329.1 449.6h0M360.5 446.0h0M352.2 433.8h0M341.9 448.6h0M311.8 443.8h0M354.8 421.0h0M366.6 430.1h0M347.9 471.1h0M356.0 437.2h0M358.5 473.6h0M339.9 451.9h0M381.0 455.8h0M348.3 410.4h0M347.9 479.6h0M360.0 388.8h0M305.9 400.2h0M349.8 456.1h0M324.7 428.1h0M308.3 426.1h0M346.0 468.8h0M348.0 413.1h0M346.0 410.9h0M356.9 465.7h0M371.6 433.6h0M315.1 403.4h0M381.1 423.0h0M361.2 397.9h0M308.4 397.0h0M373.9 459.3h0M331.9 450.4h0M366.9 433.8h0M354.0 454.5h0M334.0 414.6h0M314.7 465.4h0M335.7 476.9h0M318.7 426.1h0M338.8 471.9h0" stroke="#fff" stroke-width="2.00" stroke-linecap="round" fill="none"/>
<path d="M370.9 404.3h0M363.0 464.5h0M349.6 453.5h0M391.3 390.3h0M338.3 427.7h0M392.8 406.3h0M400.4 412.0h0M378.4 424.3h0M306.2 443.9h0M362.4 421.2h0M343.6 412.7h0M376.6 417.1h0M360.0 395.0h0M357.8 440.8h0M355.4 457.9h0M331.8 416.8h0M399.5 436.3h0M347.6 461.7h0M374.3 387.3h0M401.5 424.4h0M335.5 437.7h0M386.3 399.6h0M398.1 440.2h0M382.9 462.3h0M359.0 479.4h0M329.2 464.2h0M318.9 469.7h0M329.9 424.9h0M401.9 430.7h0M393.2 430.5h0M331.6 388.8h0M400.9 445.8h0M322.5 406.1h0M405.6 411.6h0M372.0 437.4h0M402.4 438.7h0M309.2 459.1h0M416.2 407.8h0M403.1 443.1h0M382.0 403.4h0M361.0 438.3h0M322.0 452.6h0M338.2 405.2h0M397.8 415.0h0M393.3 388.2h0M333.7 434.9h0M399.4 392.0h0M416.6 448.4h0M336.1 408.6h0M396.8 456.6h0M318.3 408.2h0M370.9 449.4h0M369.0 430.9h0M305.9 458.2h0M396.8 425.9h0M318.9 423.2h0M362.8 390.4h0M305.6 410.8h0M370.6 409.5h0M371.4 445.1h0M414.3 403.3h0M372.7 465.1h0M409.6 447.8h0M409.9 456.7h0M353.2 438.1h0M311.1 467.7h0M371.7 480.3h0M319.0 405.6h0M411.3 388.2h0M361.6 474.4h0M329.9 461.1h0M360.5 442.3h0M380.6 415.7h0M384.8 413.8h0M376.1 465.4h0M327.2 451.3h0M405.0 426.8h0M352.3 465.2h0M324.5 418.2h0M404.4 472.4h0" stroke="#fff" stroke-width="2.40" stroke-linecap="round" fill="none"/>
<path d="M406.4 447.9h0M327.8 434.1h0M370.0 399.6h0M337.4 430.9h0M392.1 421.8h0M308.8 430.8h0M403.2 413.9h0M410.6 453.3h0M426.3 471.9h0M384.1 420.5h0M392.2 475.7h0M315.1 436.3h0M365.2 392.8h0M395.5 436.1h0M307.9 452.4h0M335.4 456.3h0M409.8 433.3h0M353.4 442.4h0M401.7 454.1h0M391.1 472.4h0M351.0 422.6h0M335.1 463.8h0M402.5 397.9h0M428.6 454.7h0M425.4 476.1h0M395.1 423.5h0M410.7 436.2h0M386.1 477.0h0M386.8 450.1h0M413.0 457.1h0M404.7 460.0h0M379.1 394.2h0M356.3 395.2h0M324.2 388.8h0M362.0 409.8h0M332.8 476.9h0M408.2 388.5h0M310.4 464.0h0M399.1 398.2h0M336.0 449.8h0M320.7 476.5h0M391.7 440.1h0M338.4 441.1h0M407.6 442.8h0M405.7 402.4h0M366.0 453.0h0M379.9 472.8h0M389.8 458.9h0M408.1 405.4h0M344.8 404.8h0M324.3 460.9h0M388.8 397.1h0M384.8 423.6h0M392.7 402.3h0M352.2 409.1h0M315.0 440.9h0M393.4 459.0h0M387.8 471.1h0M382.9 473.8h0M393.9 415.8h0M354.9 424.4h0M336.9 435.1h0M328.4 458.5h0M406.9 466.6h0M429.6 436.2h0M424.1 407.2h0M351.0 444.6h0M412.4 406.1h0M368.2 464.7h0M407.9 437.9h0M421.6 392.7h0M331.6 473.6h0M386.2 463.2h0M381.5 450.8h0M380.5 459.2h0M324.5 435.9h0M425.2 450.8h0M332.7 430.1h0M414.6 463.2h0M422.0 462.0h0M311.2 428.1h0M314.7 389.5h0M425.0 422.4h0M406.8 415.1h0" stroke="#fff" stroke-width="2.80" stroke-linecap="round" fill="none"/>
<path d="M341.4 460.6h0M371.3 441.7h0M381.1 427.1h0M376.3 468.6h0M417.4 419.5h0M350.3 477.5h0M323.0 432.8h0M327.0 406.7h0M386.3 430.5h0M327.9 478.3h0M420.9 449.4h0M420.6 408.1h0M410.4 401.5h0M306.4 419.7h0M402.8 449.5h0M423.8 479.0h0M412.0 465.5h0M331.3 421.5h0M334.8 402.4h0M415.2 393.1h0M318.8 452.1h0M359.2 469.9h0M336.2 412.0h0M338.0 400.4h0M428.9 478.7h0M349.7 401.1h0M348.6 406.0h0M389.1 403.6h0M347.7 443.1h0M345.2 435.1h0M388.0 466.9h0M364.2 440.2h0M366.4 398.1h0M320.8 446.1h0M421.5 441.1h0M360.8 433.8h0M336.1 392.5h0M427.8 419.3h0M376.3 479.4h0M388.9 416.1h0M333.6 440.8h0M411.1 461.0h0M305.7 465.0h0M328.7 430.5h0M417.8 395.6h0" stroke="#fff" stroke-width="3.20" stroke-linecap="round" fill="none"/>
<path d="M380.7 480.1h0M391.6 436.6h0M377.5 451.3h0M378.3 440.6h0M419.5 428.5h0M351.9 394.8h0M353.1 415.5h0M311.8 419.7h0M421.4 472.9h0M330.9 412.3h0M364.8 471.6h0M314.4 425.5h0M397.8 474.6h0M358.5 425.7h0M358.4 409.2h0M396.7 429.9h0M376.2 404.6h0M404.0 407.9h0M351.0 468.2h0M394.0 411.3h0M420.7 422.2h0M355.9 402.0h0M315.4 449.6h0M379.9 467.7h0M395.1 443.5h0M344.3 455.9h0M423.4 435.3h0M373.3 397.4h0M410.2 474.7h0M401.5 401.5h0" stroke="#fff" stroke-width="3.60" stroke-linecap="round" fill="none"/>
<path d="M324.0 449.2h0M308.6 472.7h0M366.0 410.7h0M358.8 414.3h0M381.8 434.2h0M309.8 412.5h0M395.7 395.5h0M389.0 411.2h0M369.8 425.3h0M400.5 388.6h0M414.1 470.4h0M364.2 445.6h0M402.8 418.1h0M372.5 453.7h0M390.6 479.7h0M341.8 466.2h0M420.6 445.2h0" stroke="#fff" stroke-width="4.00" stroke-linecap="round" fill="none"/>
<path d="M384.7 439.7h0M314.9 480.1h0M396.6 401.5h0M319.4 390.6h0M383.9 408.5h0M377.1 457.0h0M368.1 478.2h0M398.4 406.1h0M335.7 422.5h0M415.8 433.7h0M397.7 419.8h0M405.1 433.5h0M353.7 430.1h0M415.5 399.1h0M416.8 459.9h0M384.2 469.5h0M390.2 427.6h0M334.1 468.1h0M408.4 396.4h0M378.6 389.4h0M349.2 437.3h0M315.6 458.0h0M420.2 402.8h0M374.4 420.2h0M319.9 411.6h0" stroke="#fff" stroke-width="4.40" stroke-linecap="round" fill="none"/>
<path d="M323.0 422.0h0M328.8 402.7h0M427.7 405.0h0M382.4 445.7h0M411.1 412.1h0M400.4 460.5h0M363.2 457.7h0M323.5 398.6h0M330.0 445.0h0M385.9 454.2h0M390.1 444.7h0M325.4 466.6h0M366.4 419.8h0M413.7 424.9h0" stroke="#fff" stroke-width="4.80" stroke-linecap="round" fill="none"/>
<path d="M415.0 452.9h0M403.4 392.9h0M354.4 471.9h0M395.9 451.7h0M408.9 428.7h0M422.9 398.0h0M379.9 398.8h0" stroke="#fff" stroke-width="5.20" stroke-linecap="round" fill="none"/>
<path d="M417.8 387.6h0M344.6 428.8h0M347.0 417.2h0M371.0 392.1h0M368.7 460.1h0M364.5 426.3h0M343.0 476.0h0M419.6 466.7h0M422.9 456.6h0" stroke="#fff" stroke-width="5.60" stroke-linecap="round" fill="none"/>
<path d="M356.5 448.0h0M401.7 467.6h0" stroke="#fff" stroke-width="6.00" stroke-linecap="round" fill="none"/>
<path d="M384.8 394.0h0M361.4 403.1h0M384.7 387.2h0M410.9 418.6h0" stroke="#fff" stroke-width="6.40" stroke-linecap="round" fill="none"/>
<path d="M428.2 464.3h0M373.3 474.9h0" stroke="#fff" stroke-width="6.80" stroke-linecap="round" fill="none"/>
<path d="M376.6 411.6h0M375.5 429.1h0" stroke="#fff" stroke-width="7.20" stroke-linecap="round" fill="none"/>
<path d="M416.2 476.6h0" stroke="#fff" stroke-width="7.60" stroke-linecap="round" fill="none"/>
<path d="M428.0 443.2h0M394.4 466.0h0M428.4 390.5h0" stroke="#fff" stroke-width="8.00" stroke-linecap="round" fill="none"/>
<path d="M404.0 478.2h0" stroke="#fff" stroke-width="8.40" stroke-linecap="round" fill="none"/>
<path d="M414.8 441.0h0" stroke="#fff" stroke-width="8.80" stroke-linecap="round" fill="none"/>
<path d="M424.7 413.5h0" stroke="#fff" stroke-width="9.20" stroke-linecap="round" fill="none"/>
<path d="M426.5 428.9h0" stroke="#fff" stroke-width="9.60" stroke-linecap="round" fill="none"/>
</g>
<rect x="305.60" y="387.00" width="124.40" height="93.40" fill="none" stroke="#111" stroke-width="1.30" />
<clipPath id="hc2"><rect x="432.40" y="387.00" width="125.20" height="93.40"/></clipPath>
<g clip-path="url(#hc2)">
<rect x="432.40" y="387.00" width="125.20" height="93.40" fill="#d3bcd8" stroke="none" stroke-width="0.80" />
<circle cx="513.8" cy="396.3" r="30.0" fill="#dcc3dc" opacity="0.60"/>
<circle cx="551.3" cy="415.0" r="24.0" fill="#d9c4de" opacity="0.50"/>
<circle cx="501.3" cy="438.4" r="10.0" fill="#b3a4cf" opacity="0.45"/>
<rect x="432.40" y="387.00" width="125.20" height="93.40" filter="url(#grain2)"/>
<path d="M552.4 400.1h0M557.4 404.2h0M514.0 419.3h0M461.4 476.6h0M507.7 474.1h0M548.1 453.1h0M542.7 442.1h0M456.2 466.4h0M549.8 459.3h0M503.3 452.2h0M464.8 476.4h0M530.2 476.2h0M450.2 464.1h0M455.6 391.6h0M436.4 473.4h0M497.2 425.2h0M547.1 415.7h0M505.3 414.8h0M500.4 427.5h0M498.5 395.2h0M476.9 427.3h0M548.8 475.9h0M482.6 396.0h0M453.9 438.1h0M473.5 420.4h0M437.0 437.0h0M513.4 405.8h0M438.9 425.4h0M547.7 430.0h0M494.8 435.9h0M556.5 456.5h0M523.5 447.1h0M530.6 463.6h0M550.4 388.7h0M511.8 418.8h0M519.0 427.6h0M437.6 477.3h0M447.2 407.2h0M540.8 403.9h0M444.6 430.9h0M475.5 455.6h0M536.8 390.6h0M538.7 390.1h0M493.7 422.7h0M522.3 430.4h0M461.3 411.9h0M515.8 401.7h0M513.3 392.3h0M508.0 390.9h0M436.1 458.6h0M511.5 479.1h0M461.6 436.9h0M475.3 467.7h0M433.5 422.5h0M454.4 462.0h0M501.4 420.8h0M496.6 404.6h0M452.3 465.3h0M519.6 463.3h0M456.3 424.9h0M527.8 423.1h0M456.8 402.1h0M479.9 409.0h0M553.8 401.3h0M540.7 442.9h0M528.5 389.0h0M518.3 462.3h0M444.7 393.2h0M495.6 474.6h0M484.0 445.1h0M474.0 477.6h0M523.4 471.2h0M514.1 417.0h0M462.3 392.4h0M469.8 389.2h0M445.3 428.6h0M454.4 431.5h0M476.7 463.0h0M500.2 469.0h0M479.3 390.8h0M496.8 407.3h0M462.3 416.0h0M438.5 479.9h0M446.6 431.9h0M495.6 393.5h0M480.1 472.4h0M489.9 445.9h0M518.3 462.5h0M477.6 413.7h0M442.7 401.4h0M529.8 407.3h0M512.0 445.8h0M547.7 441.7h0M462.4 451.3h0M474.6 424.2h0M454.3 424.9h0M502.1 463.9h0M541.2 460.1h0M498.8 450.7h0M507.8 409.4h0M476.8 461.5h0M555.0 441.2h0M484.4 399.0h0M438.2 443.5h0M529.7 398.8h0M521.8 408.8h0M479.0 447.6h0M433.5 428.2h0M452.2 474.9h0M452.5 396.3h0M492.0 403.4h0M495.2 410.7h0M488.8 452.1h0M461.0 403.8h0M438.7 398.5h0M535.9 437.5h0M510.8 418.3h0M524.1 408.6h0M483.4 390.9h0M502.5 400.7h0M548.4 434.8h0M518.8 437.3h0M551.7 472.9h0M480.6 393.9h0M539.4 423.3h0M509.1 461.1h0M467.8 447.0h0M534.7 416.5h0M489.3 402.5h0M446.6 411.3h0M531.8 446.0h0M515.5 455.4h0M442.6 430.8h0M456.0 423.5h0M544.8 413.2h0M524.7 388.0h0M533.7 436.1h0M492.3 389.3h0M471.3 467.1h0M447.2 419.7h0M461.0 419.9h0M451.2 448.4h0M543.8 432.0h0M528.3 419.2h0M447.7 414.5h0M524.4 420.2h0M466.9 393.5h0M481.6 472.0h0M458.9 401.6h0M552.6 474.0h0M438.6 432.4h0M446.4 426.1h0M432.6 454.1h0M530.9 432.5h0M497.3 399.7h0M462.4 417.0h0M452.2 392.2h0M462.0 438.9h0M461.6 398.9h0M517.1 451.5h0M505.0 389.3h0M532.6 422.2h0M485.1 464.9h0M446.4 433.5h0M481.3 410.2h0M444.2 414.6h0M538.7 467.4h0M465.7 420.9h0M466.5 458.6h0M466.2 393.8h0M553.4 461.2h0M525.6 458.0h0M494.1 480.3h0M461.8 427.2h0M479.3 463.3h0M498.0 459.8h0M476.7 432.1h0M518.1 474.5h0M500.7 450.9h0M555.9 442.7h0M482.0 426.2h0M479.1 471.4h0M552.0 453.0h0M478.3 388.7h0M526.5 454.5h0M436.9 450.9h0M481.0 468.1h0M490.9 391.7h0M458.7 407.1h0M438.4 395.3h0M524.2 477.6h0M496.9 399.2h0M448.6 394.2h0M540.4 416.0h0M474.0 477.3h0M540.7 479.0h0M457.0 435.2h0M522.8 408.5h0M468.0 404.2h0M533.0 438.7h0M460.7 420.5h0M466.4 416.0h0M469.2 449.9h0M510.8 473.3h0M448.7 424.7h0M525.8 436.5h0M492.0 448.2h0M488.2 407.0h0M495.4 457.0h0M497.9 442.7h0M461.4 395.6h0M470.6 470.8h0M556.0 464.0h0M487.5 439.5h0M474.3 401.6h0M511.4 422.3h0M445.1 440.0h0M494.8 452.1h0M473.8 446.6h0M522.0 404.1h0M513.1 459.4h0M546.6 478.2h0M492.4 391.2h0M445.7 426.8h0M486.1 403.0h0M460.4 432.8h0M469.8 428.7h0M499.0 461.8h0M553.5 402.4h0M447.2 452.2h0M538.8 432.1h0M436.3 444.3h0M536.7 396.6h0M518.5 417.5h0M483.0 479.0h0M536.6 465.4h0M488.4 414.1h0M544.4 469.5h0M545.9 458.2h0M511.7 461.1h0M479.7 447.3h0M498.8 395.4h0M541.2 419.6h0M506.3 413.4h0M495.7 468.2h0M454.5 434.0h0M544.6 436.6h0M513.2 449.3h0M555.8 479.6h0M522.1 423.2h0M444.9 472.1h0M498.6 433.5h0M548.5 457.7h0M504.3 480.0h0M479.1 420.9h0M447.1 445.7h0M517.6 430.7h0M525.9 467.2h0M531.9 459.3h0M432.5 396.3h0M553.6 393.3h0M482.8 393.4h0M539.8 465.7h0M546.4 460.4h0M539.2 473.9h0M526.4 463.3h0M433.5 450.4h0M451.0 399.5h0M545.6 391.8h0M519.8 414.2h0M490.3 453.5h0M529.6 405.6h0M493.2 417.3h0M488.4 391.8h0M448.7 466.8h0M555.6 471.1h0M539.6 479.2h0M492.9 450.0h0M465.3 455.4h0M480.5 389.1h0M533.3 399.9h0M481.9 414.8h0M439.2 405.8h0M529.6 462.3h0M557.4 411.1h0M488.7 476.7h0M523.0 459.5h0M528.2 417.6h0M532.1 474.8h0M523.8 454.4h0M447.3 439.5h0M473.5 444.8h0M504.1 436.9h0M522.6 394.4h0M448.3 436.2h0M520.6 387.9h0M454.3 434.3h0M493.5 458.3h0M492.1 410.0h0M511.5 401.8h0M479.3 397.6h0M435.0 414.6h0M434.4 452.5h0M554.6 416.2h0M555.2 433.6h0M475.1 463.0h0M511.7 435.6h0M478.8 474.4h0M484.6 415.6h0M459.6 423.1h0M547.9 389.6h0M450.9 453.8h0M434.4 460.1h0M490.4 442.6h0M548.5 408.1h0M442.3 421.0h0M511.0 436.8h0M489.5 389.9h0M550.2 398.0h0M510.6 463.8h0M442.9 447.2h0M461.5 463.0h0M530.9 409.0h0M515.4 449.4h0M550.5 454.3h0" stroke="#fff" stroke-width="1.0" stroke-linecap="round" fill="none" opacity="0.9"/>
<path d="M490.7 449.2h0M471.7 392.6h0M456.6 435.2h0M542.4 389.8h0M542.4 447.0h0M501.0 464.1h0M545.9 463.1h0M447.9 451.6h0M534.8 428.5h0M450.4 457.6h0M533.8 459.4h0M453.8 417.8h0M469.0 441.6h0M514.8 470.2h0M432.9 443.9h0M486.5 455.6h0M463.1 446.4h0M487.5 420.1h0M546.4 468.3h0M521.3 447.8h0M449.5 412.1h0M506.9 397.8h0M449.1 398.7h0M468.9 388.8h0M548.7 430.2h0M480.2 411.9h0M456.7 427.1h0M478.2 469.2h0M512.1 432.0h0M543.2 442.2h0M470.8 423.7h0M479.6 411.8h0M556.8 456.1h0M544.5 400.2h0M523.0 432.5h0M511.6 446.1h0M439.2 412.5h0M471.1 390.6h0M514.6 405.2h0M484.9 465.1h0M541.5 426.7h0M548.7 451.0h0M541.5 455.1h0M435.8 470.0h0M434.5 418.7h0M462.6 432.3h0M517.5 467.8h0M540.8 427.2h0M521.3 480.0h0M509.3 423.1h0M436.5 431.7h0M478.6 456.4h0M466.9 477.3h0M434.1 444.8h0M548.7 469.6h0M465.5 416.7h0M475.7 422.1h0M457.2 399.5h0M520.1 405.1h0M442.7 425.0h0M507.6 447.4h0M519.5 461.8h0M432.5 473.9h0M556.7 458.2h0M438.1 396.1h0M433.2 391.7h0M508.4 450.2h0M552.4 457.0h0M503.7 417.5h0M509.3 478.8h0M533.2 474.1h0M544.7 388.3h0M435.3 403.6h0M502.7 427.7h0M527.0 394.0h0M467.3 463.1h0M537.3 467.9h0M502.4 465.6h0M534.8 469.1h0M443.3 445.3h0M551.2 456.8h0M546.7 417.6h0M503.7 427.5h0M494.6 425.7h0M464.5 427.7h0M553.9 455.2h0M479.3 448.7h0M434.6 423.1h0M529.5 449.3h0M544.7 425.1h0M444.8 393.7h0M442.7 452.8h0M486.5 448.4h0M468.9 429.3h0M504.8 442.1h0M517.6 466.8h0M509.9 414.5h0M486.2 479.5h0M521.2 405.1h0M451.8 427.5h0M458.5 463.2h0M465.8 429.4h0M511.8 471.4h0M553.8 414.0h0M519.4 407.0h0M494.9 432.8h0M454.2 397.6h0M451.2 447.8h0M507.3 408.3h0M551.9 420.5h0M433.1 458.5h0M500.4 470.7h0M530.3 432.8h0M466.4 439.4h0M436.8 449.7h0M513.0 453.8h0M514.1 447.9h0M516.7 451.8h0M538.5 420.3h0M456.5 391.2h0M501.1 467.0h0M543.2 433.6h0M453.0 479.7h0M462.4 445.2h0M513.8 465.4h0M464.1 412.6h0M510.1 463.1h0M519.4 471.7h0M479.9 470.5h0M535.5 395.0h0M445.3 439.7h0M508.5 402.6h0M494.5 416.1h0M527.2 405.0h0M547.4 469.2h0M512.2 465.7h0M536.5 457.3h0M527.2 423.8h0M435.6 401.6h0M443.1 396.2h0M544.7 477.9h0M470.0 443.6h0M442.8 401.9h0M485.5 440.7h0M441.5 401.8h0M447.0 421.4h0M465.7 422.9h0M533.7 408.1h0M489.9 434.2h0M543.3 388.4h0M434.7 422.7h0M508.9 411.8h0M475.5 407.5h0M514.8 443.7h0M542.9 415.5h0M544.1 392.2h0M541.1 424.6h0M493.2 465.9h0M514.7 453.1h0M513.3 411.9h0M523.9 399.1h0M507.5 442.2h0M509.7 400.9h0M432.7 416.7h0M506.9 396.0h0M497.3 460.5h0M439.6 473.7h0M546.9 457.2h0M535.1 456.9h0M516.7 477.9h0M453.2 431.7h0M517.2 444.8h0M442.8 426.7h0M453.2 429.9h0M511.7 442.2h0M503.6 461.2h0M490.4 474.8h0M536.6 477.6h0M493.9 469.7h0M497.1 404.5h0M546.2 455.8h0M544.5 439.0h0M529.9 429.7h0M458.0 428.1h0M436.6 475.5h0M495.6 414.8h0M510.0 403.9h0M536.7 429.2h0M449.4 388.7h0M493.2 415.4h0M498.5 408.4h0M483.7 418.0h0M484.8 430.6h0M513.5 410.4h0M440.5 400.5h0M479.3 436.6h0M437.5 479.1h0M518.6 445.8h0M535.5 468.3h0M539.9 477.0h0M546.5 391.2h0M554.6 400.3h0M434.9 436.8h0M494.0 404.6h0M516.1 409.3h0M468.4 422.3h0M505.2 441.1h0M466.4 450.5h0M444.2 439.9h0M467.1 478.8h0M534.0 437.8h0M485.8 392.8h0M517.7 456.3h0M470.2 434.9h0M486.6 426.2h0M444.1 391.6h0M531.6 393.8h0M451.2 466.8h0M457.9 422.3h0M551.3 390.3h0M446.9 477.1h0M484.9 466.3h0M538.0 404.0h0M498.6 456.4h0M445.9 390.1h0M467.8 447.8h0M546.4 447.6h0M504.2 466.0h0M515.7 446.8h0M515.3 392.7h0M459.1 444.0h0M531.1 464.1h0M520.0 472.3h0M539.3 413.2h0M461.4 424.4h0M529.1 415.3h0M544.8 423.7h0M469.0 423.7h0M472.4 394.4h0M532.1 404.2h0M545.6 419.5h0M453.4 390.3h0M523.3 477.1h0M510.6 475.5h0M523.3 462.8h0M547.8 477.9h0M453.2 397.0h0M475.2 461.7h0M461.0 450.6h0M432.9 460.7h0M471.5 430.8h0M487.4 387.2h0M497.1 403.3h0M505.7 414.1h0M505.8 458.8h0M458.0 475.0h0M485.6 480.3h0M508.2 399.1h0M458.3 423.6h0M454.8 450.4h0M493.9 478.0h0M444.8 455.6h0M500.0 461.6h0M477.7 463.9h0M501.7 469.6h0M475.8 469.9h0M544.0 462.0h0M476.6 399.3h0M448.3 394.6h0M449.5 408.8h0M472.9 466.9h0M541.0 464.2h0M503.2 450.3h0M437.0 468.4h0M456.2 399.3h0M513.9 434.6h0M552.9 406.5h0M469.0 411.7h0M484.2 441.1h0M439.2 423.3h0M535.4 459.9h0M481.9 459.7h0M437.9 462.7h0M468.0 449.7h0M465.0 393.0h0M523.9 425.5h0M455.1 464.6h0M494.4 396.9h0M483.1 410.1h0M471.9 473.9h0M517.9 427.2h0M453.0 439.7h0M497.7 430.3h0M457.8 474.3h0M452.7 467.3h0M436.7 459.2h0M469.8 405.5h0M437.2 400.8h0M479.8 424.3h0M532.3 414.6h0M437.4 449.0h0M556.1 437.3h0M532.2 434.7h0M477.4 433.2h0M493.4 456.8h0M510.2 425.9h0M528.9 397.3h0M459.7 408.6h0M503.1 429.4h0M528.7 398.1h0M530.4 410.8h0M539.6 387.1h0M521.5 418.2h0M468.2 414.0h0M495.5 419.5h0M475.3 438.2h0M555.6 426.5h0M509.4 436.4h0M501.3 405.0h0M502.4 408.6h0M437.2 420.4h0M493.6 471.4h0M458.7 418.3h0M443.9 394.7h0M539.3 387.9h0" stroke="#fff" stroke-width="1.5" stroke-linecap="round" fill="none" opacity="0.9"/>
<path d="M532.2 456.4h0M526.8 395.9h0M469.4 466.5h0M497.2 459.7h0M464.3 466.3h0M544.4 402.7h0M524.2 480.3h0M438.6 409.1h0M545.9 452.3h0M477.2 402.8h0M545.2 391.2h0M557.1 390.5h0M474.0 433.5h0M505.9 463.5h0M484.3 474.4h0M473.0 420.2h0M556.5 417.2h0M494.4 393.4h0M532.5 435.6h0M540.1 449.9h0M484.4 391.7h0M476.1 432.4h0M480.1 429.1h0M462.2 407.9h0M547.6 461.2h0M478.7 464.0h0M442.6 447.0h0M467.2 414.0h0M495.1 440.7h0M469.4 410.3h0M481.4 464.0h0M547.6 470.0h0M523.9 477.2h0M437.6 469.1h0M478.2 390.2h0M458.5 467.4h0M515.5 394.9h0M472.0 473.4h0M557.0 476.8h0M544.2 473.7h0M542.8 430.6h0M464.3 438.1h0M437.4 438.3h0M467.3 406.6h0M486.2 449.4h0M492.9 397.5h0M554.9 407.6h0M505.0 465.1h0M517.6 428.1h0M543.4 395.8h0M499.4 398.7h0M495.4 414.8h0M536.6 429.3h0M455.5 403.3h0M448.3 433.4h0M540.3 472.5h0M526.7 394.6h0M511.9 410.5h0M448.2 397.2h0M529.2 393.2h0M540.9 417.4h0M479.1 471.5h0M454.7 426.7h0M539.3 446.3h0M462.3 396.3h0M534.8 445.0h0M551.0 403.8h0M467.9 452.4h0M472.0 478.4h0M470.4 398.1h0M494.1 395.2h0M480.4 474.4h0M514.5 427.2h0M515.6 464.1h0M439.4 476.5h0M545.3 425.5h0M457.9 453.5h0M501.2 397.7h0M507.9 434.5h0M507.1 389.3h0M500.6 428.9h0M540.4 453.9h0M522.2 440.2h0M461.4 464.6h0M464.9 476.4h0M498.7 425.4h0M481.9 431.0h0M495.6 401.6h0M484.1 390.9h0M502.7 397.8h0M460.6 389.2h0M496.1 390.1h0M492.5 448.7h0M447.9 418.6h0M469.9 428.7h0M471.5 421.6h0M540.3 388.9h0M547.8 471.6h0M512.2 458.0h0M524.0 426.4h0M453.2 397.5h0M508.0 450.5h0M521.6 478.9h0M469.2 443.1h0M466.9 468.3h0M440.5 443.5h0M541.3 409.0h0M554.4 425.9h0M557.1 415.4h0M545.8 420.5h0M535.4 472.2h0M504.4 456.6h0M526.6 471.7h0M534.3 445.9h0M522.6 441.6h0M464.4 388.8h0M548.3 398.0h0M485.3 404.4h0M461.2 403.3h0M500.4 398.6h0M540.3 443.7h0M448.6 405.8h0M525.2 477.0h0M483.5 389.0h0M464.0 440.1h0M478.5 455.1h0M439.3 478.9h0M442.9 447.3h0M495.6 468.4h0M486.1 420.8h0M476.5 472.8h0M518.1 419.8h0M484.8 421.8h0M445.1 476.5h0M539.8 476.2h0M497.0 392.1h0M444.0 407.5h0M492.1 415.9h0M553.1 470.4h0M487.9 416.6h0M478.0 427.6h0M486.3 396.2h0M537.2 453.6h0M557.5 414.6h0M486.9 460.2h0M484.8 470.1h0M525.4 414.0h0M522.4 428.4h0M549.4 407.6h0M462.7 416.5h0M442.2 398.4h0M539.0 437.7h0M531.9 458.3h0M512.2 423.9h0M541.8 416.4h0M544.3 393.4h0M509.0 477.4h0M498.8 420.8h0M492.2 427.4h0M452.9 426.8h0M457.7 432.6h0M500.2 440.0h0M520.3 388.5h0M442.1 421.5h0M442.0 458.0h0M522.0 406.5h0M500.5 413.2h0M475.6 447.5h0M493.5 395.2h0M439.5 441.4h0M538.5 445.0h0M499.1 436.5h0M495.5 457.5h0M500.8 425.9h0M465.1 422.9h0M492.1 436.7h0M439.2 424.0h0M549.0 426.5h0M527.9 446.6h0M553.6 439.1h0M444.9 439.9h0M552.0 477.5h0M514.2 421.4h0M513.4 395.4h0M531.6 460.6h0M472.1 459.7h0M546.0 469.5h0M538.1 451.9h0M494.8 437.2h0M489.5 415.2h0M491.3 395.1h0M489.7 451.5h0M468.5 469.0h0M544.2 474.5h0M504.6 467.9h0M445.8 402.2h0M446.4 421.3h0M434.3 420.1h0M543.4 435.1h0M444.5 437.6h0M509.0 451.0h0M451.7 411.6h0M481.0 436.0h0M535.8 432.3h0M517.7 437.4h0M480.7 396.3h0M549.8 469.6h0M522.7 441.8h0M534.0 407.1h0M439.4 434.6h0M475.6 401.3h0M468.6 477.8h0M527.4 392.0h0M465.6 459.9h0M516.0 410.5h0M503.2 470.5h0M433.8 474.7h0M469.6 406.7h0M491.9 431.4h0M449.2 410.0h0M520.7 413.0h0M441.6 429.0h0M497.5 466.7h0M514.5 448.0h0M543.1 444.3h0M504.5 444.2h0M485.3 458.3h0M489.1 475.6h0M506.9 472.7h0M450.1 455.0h0M459.0 435.3h0M479.3 389.8h0M533.2 441.8h0M471.3 442.3h0M541.6 397.4h0M468.6 464.9h0M557.0 467.8h0M472.2 412.4h0M453.1 396.8h0M454.6 432.4h0M517.7 387.3h0M459.6 461.6h0M529.6 412.8h0M553.8 406.3h0M457.0 423.3h0M493.1 477.1h0M461.2 467.7h0M508.0 471.7h0M539.2 473.9h0M511.4 447.1h0M492.6 420.8h0M515.9 399.8h0M458.7 477.6h0M485.5 429.2h0M509.6 418.0h0M462.0 454.5h0M480.3 469.9h0M498.5 419.6h0M479.3 447.4h0M444.0 471.9h0M453.2 451.0h0M434.6 441.7h0M455.8 453.8h0M487.4 476.8h0M461.0 475.3h0M528.0 426.9h0M531.7 427.7h0M478.6 456.2h0M534.2 425.6h0M521.0 400.4h0M539.7 475.2h0M553.7 424.4h0M523.0 451.6h0M453.3 395.8h0M514.6 478.4h0M519.6 441.7h0M551.3 405.3h0M552.9 396.9h0M534.8 410.0h0M526.8 424.4h0M550.2 437.0h0M528.4 400.5h0M541.7 413.4h0M528.3 409.7h0M441.9 400.3h0M491.9 387.6h0M462.7 391.5h0M459.6 432.7h0M453.5 449.5h0M466.3 423.1h0M492.9 443.2h0M489.9 393.0h0M515.9 434.4h0M453.6 441.7h0M433.0 444.0h0M469.8 448.6h0M443.8 444.8h0M485.2 387.1h0M497.7 397.1h0M539.7 415.3h0M456.0 425.1h0M512.6 436.5h0M521.2 447.3h0M556.6 445.2h0M474.8 474.5h0M490.1 413.7h0M433.2 453.5h0M507.6 399.5h0M551.1 401.1h0M506.4 441.7h0M486.5 422.4h0M511.9 436.6h0M475.2 419.3h0M495.1 426.7h0M473.9 469.3h0M515.0 479.9h0M456.0 460.1h0M509.0 417.3h0M496.4 461.3h0M500.1 409.2h0M468.3 461.8h0M444.5 398.9h0M517.7 445.6h0M539.9 428.1h0M473.7 477.8h0M469.7 452.9h0M443.5 425.8h0M491.6 435.1h0M437.3 465.7h0M553.0 455.6h0M534.2 472.6h0M554.0 466.1h0M485.6 396.2h0M479.5 392.2h0M495.7 472.9h0M543.3 408.0h0M514.3 412.5h0M532.2 404.7h0M445.8 439.2h0M553.2 428.0h0M495.3 466.3h0M506.4 454.7h0M502.1 421.8h0M489.3 435.6h0M449.9 411.1h0M451.2 448.8h0M489.2 442.6h0M481.1 455.5h0M530.2 394.4h0M438.6 464.9h0M460.0 479.4h0M474.0 413.2h0M438.0 440.8h0M506.4 391.9h0M524.2 391.6h0M491.9 472.2h0M436.8 468.6h0M528.1 416.3h0M509.8 402.1h0M518.8 478.3h0M474.5 388.9h0M434.9 421.2h0M514.4 480.0h0M545.8 464.0h0M509.7 455.6h0M511.6 399.2h0M533.0 422.9h0M452.0 477.5h0M533.9 396.4h0M498.4 390.1h0M534.5 418.0h0M488.4 451.6h0M523.4 391.4h0M507.6 421.7h0M472.4 467.8h0M518.4 455.5h0M464.9 422.9h0M497.1 434.4h0M492.3 466.7h0M457.0 398.5h0M496.7 440.8h0M538.0 414.0h0M556.5 403.8h0M488.0 417.1h0M453.4 409.7h0M480.3 407.1h0M458.3 455.9h0M470.0 472.0h0M475.6 390.2h0M454.2 467.2h0M503.4 473.6h0M486.2 418.6h0M484.1 429.6h0M525.9 476.5h0M521.2 462.0h0M473.5 430.2h0M433.0 470.4h0M546.0 453.8h0M475.0 419.4h0M505.4 419.0h0M492.1 405.5h0M534.3 473.2h0M520.2 470.8h0M549.0 433.4h0M436.8 451.6h0M487.3 420.2h0M465.4 440.3h0M540.3 416.9h0M504.8 428.9h0M536.6 434.5h0M553.0 393.4h0M552.2 417.5h0M529.9 427.6h0M468.0 469.7h0M508.5 402.1h0M509.5 435.8h0M555.0 435.0h0M508.0 450.1h0M433.8 429.4h0M550.9 436.3h0M464.5 410.1h0M473.2 430.8h0M468.2 435.6h0M452.8 395.6h0M440.7 424.9h0M454.4 412.8h0M457.4 422.7h0M517.9 388.6h0M470.0 466.8h0M438.0 475.9h0M446.2 418.0h0M549.2 459.0h0M464.2 428.4h0M475.1 441.0h0M437.1 457.9h0M487.3 467.1h0M447.8 403.0h0M535.9 450.0h0M480.6 448.9h0M438.7 410.2h0M452.7 477.4h0M545.5 472.1h0M510.9 480.2h0M469.3 415.4h0M543.0 464.0h0M531.2 452.3h0M516.0 389.2h0M470.8 420.1h0M538.9 413.9h0M510.3 449.7h0M487.0 423.2h0M471.9 427.0h0M496.1 404.5h0M535.4 410.7h0M482.7 390.3h0M470.1 449.5h0M507.4 464.3h0M514.3 417.8h0M554.9 462.0h0M524.3 471.7h0M531.2 429.4h0M555.3 430.5h0M483.9 404.6h0M456.2 432.8h0M525.5 424.0h0M525.8 407.7h0M434.1 480.1h0M455.1 440.2h0M480.0 412.0h0M444.1 447.2h0M496.5 417.6h0M512.7 472.0h0M473.3 448.5h0M525.7 397.3h0M524.1 455.3h0M532.9 389.9h0M550.8 438.6h0M491.2 435.6h0M536.6 407.5h0M448.7 391.4h0M476.9 387.5h0M512.4 408.7h0M513.5 413.0h0M461.4 419.3h0M442.7 432.2h0M454.3 433.9h0M451.6 404.4h0M505.5 460.7h0M507.2 397.6h0M491.9 455.4h0M516.7 466.6h0M524.6 474.1h0M458.2 429.1h0M498.0 388.8h0M437.5 405.2h0M470.8 461.8h0M460.8 443.3h0M492.6 465.6h0M446.9 401.1h0M449.1 413.5h0M472.7 414.9h0M480.2 398.0h0M438.1 403.3h0M532.4 444.0h0M513.8 464.1h0M515.7 399.1h0M497.2 429.5h0M530.9 463.6h0M524.9 435.7h0M496.8 416.2h0M489.9 390.9h0M500.4 417.3h0M546.0 475.2h0M445.1 443.5h0M472.0 453.7h0M548.3 474.7h0M466.5 416.4h0M500.2 456.0h0M440.5 428.4h0M501.1 460.8h0M538.3 447.2h0M511.6 427.7h0M525.5 428.8h0M481.0 451.7h0M534.6 474.1h0" stroke="#6e68a8" stroke-width="0.9" stroke-linecap="round" fill="none" opacity="0.75"/>
<path d="M509.9 444.7h0M442.7 474.7h0M438.9 461.7h0M437.3 440.1h0M480.9 461.5h0M438.5 437.3h0M508.2 419.1h0M475.1 468.1h0M543.9 455.1h0M516.9 433.7h0M516.2 463.4h0M441.2 389.1h0M549.9 432.1h0M468.3 405.6h0M456.6 432.4h0M436.5 406.1h0M552.9 468.8h0M545.0 411.3h0M470.4 468.3h0M532.2 414.0h0M535.4 402.2h0M556.8 450.3h0M477.6 466.1h0M515.9 459.3h0M520.0 391.3h0M540.2 479.1h0M446.2 474.5h0M551.7 473.4h0M535.3 455.8h0M449.8 474.0h0M490.8 461.7h0M469.3 468.5h0M433.2 433.7h0M541.3 446.8h0M501.3 466.2h0M531.6 420.0h0M509.1 454.3h0M531.5 398.4h0M486.3 476.1h0M437.0 440.3h0M508.1 431.0h0M457.4 420.0h0M493.3 479.2h0M522.1 392.7h0M502.7 436.8h0M551.3 476.2h0M539.1 468.8h0M522.9 466.2h0M545.8 463.6h0M466.8 442.7h0M438.4 432.5h0M492.0 462.7h0M477.8 402.0h0M462.8 473.5h0M525.1 445.5h0M446.5 451.1h0M472.6 455.6h0M536.0 464.0h0M493.1 388.8h0M544.4 407.7h0M509.7 396.8h0M516.9 410.9h0M460.7 433.7h0M490.3 460.5h0M551.6 424.6h0M462.6 470.2h0M554.0 409.4h0M468.3 427.1h0M500.4 459.8h0M490.4 454.1h0M501.7 430.8h0M500.1 473.4h0M450.6 387.3h0M472.4 459.4h0M509.0 407.5h0M514.3 471.8h0M545.8 417.1h0M548.3 403.4h0M435.4 477.7h0M505.1 460.6h0M474.9 394.4h0M445.6 409.6h0M536.5 420.5h0M437.6 409.1h0M542.0 408.6h0M541.8 442.0h0M550.7 407.8h0M488.9 470.8h0M553.8 402.2h0M447.6 473.3h0M534.4 408.6h0M524.0 425.0h0M502.0 440.8h0M550.2 437.3h0M457.2 406.4h0M474.4 393.3h0M434.4 402.7h0M458.0 446.0h0M448.8 438.0h0M546.6 393.8h0M442.2 449.6h0M553.2 408.7h0M500.4 444.2h0M439.9 397.7h0M534.5 427.2h0M537.6 433.6h0M453.6 413.5h0M436.9 394.9h0M481.3 478.5h0M511.1 432.0h0M556.1 435.3h0M467.8 443.7h0M549.2 421.7h0M485.3 460.2h0M500.3 456.5h0M498.6 400.4h0M522.7 442.2h0M520.5 412.1h0M463.2 405.5h0M498.7 399.6h0M478.3 464.7h0M551.8 390.3h0M523.4 429.6h0M533.0 439.9h0M505.6 474.7h0M460.8 389.3h0M477.8 461.5h0M447.3 443.7h0M494.6 466.3h0M464.3 413.4h0M465.9 423.3h0M526.4 458.0h0M556.3 451.8h0M512.5 449.4h0M454.9 432.5h0M454.0 463.2h0M521.2 435.7h0M525.2 468.0h0M445.2 472.8h0M541.3 474.3h0M443.2 409.6h0M450.7 387.3h0M481.4 405.8h0M506.2 431.2h0M501.0 450.6h0M460.9 447.3h0M484.8 398.7h0M513.0 463.6h0M460.0 425.4h0M490.7 418.6h0M437.0 405.4h0M548.4 396.8h0M438.7 456.6h0M494.4 433.6h0M475.3 397.4h0M466.2 395.2h0M547.8 387.9h0M446.1 418.2h0M552.9 473.2h0M480.4 429.7h0M452.3 417.8h0M442.2 462.2h0M526.3 423.8h0M487.0 407.1h0M545.1 413.7h0M457.3 420.3h0M534.5 471.4h0M512.2 405.1h0M534.8 473.9h0M489.1 453.4h0M495.9 428.8h0M525.4 409.2h0M522.2 417.1h0M488.2 421.1h0M535.5 394.8h0M453.6 457.5h0M458.1 453.9h0M491.3 440.5h0M462.3 387.2h0M553.7 473.4h0M445.0 447.6h0M489.9 474.7h0M477.4 453.1h0M496.5 408.1h0M505.2 424.9h0M517.6 472.5h0M538.4 389.6h0M484.6 387.9h0M525.1 393.8h0M521.0 449.1h0M463.9 464.9h0M554.2 459.5h0M555.3 454.9h0M505.7 471.3h0M513.0 417.3h0M480.6 401.1h0M526.2 404.5h0M557.3 426.7h0M514.1 456.8h0M533.3 418.5h0M448.8 463.0h0M459.9 439.2h0M446.6 408.2h0M480.9 473.3h0M492.5 436.8h0M554.1 436.1h0M433.9 472.3h0M541.3 404.6h0M543.0 459.3h0M501.5 466.6h0M461.7 394.7h0M551.1 449.8h0M458.1 438.1h0M464.4 447.2h0M506.9 389.0h0M501.0 448.9h0M551.7 440.7h0M541.6 388.2h0M455.1 400.1h0M472.1 454.9h0M462.6 406.5h0M438.2 446.8h0M533.2 398.2h0M487.7 458.0h0M484.5 428.2h0" stroke="#6e68a8" stroke-width="1.3" stroke-linecap="round" fill="none" opacity="0.75"/>
<path d="M452.0 411.7h0M496.8 475.0h0M460.9 479.1h0M495.0 470.4h0M556.2 465.4h0M450.6 464.1h0M467.0 458.9h0M437.1 411.2h0M512.9 437.4h0M517.2 470.8h0M507.2 423.8h0M540.1 472.2h0M518.7 456.6h0M433.3 421.8h0M524.0 461.3h0M547.0 477.2h0M481.0 475.9h0M444.6 456.1h0M488.9 415.3h0M491.0 477.2h0M448.3 440.2h0M513.0 471.5h0M473.1 415.6h0M458.5 456.9h0M527.7 478.7h0M473.6 456.5h0M476.9 472.9h0M508.1 441.7h0M449.6 426.3h0M441.1 468.7h0M491.1 447.4h0M468.1 466.6h0M516.6 443.0h0M541.1 420.5h0M481.9 407.4h0M468.5 398.7h0M530.3 450.6h0M457.1 410.4h0M432.6 396.7h0M461.1 398.7h0M534.3 477.0h0M539.4 443.4h0M528.7 401.7h0M436.9 398.7h0M450.4 406.9h0M458.2 421.4h0M500.2 466.8h0M519.5 447.3h0M517.1 424.7h0M459.4 435.9h0M505.6 475.5h0M491.5 467.7h0M521.3 458.5h0M513.8 403.2h0" stroke="#fff" stroke-width="2.60" stroke-linecap="round" fill="none"/>
<path d="M506.7 418.8h0M524.1 477.3h0M456.5 398.5h0M459.6 468.9h0M454.1 408.8h0M438.6 442.0h0M528.9 458.5h0M553.7 414.0h0M460.6 423.6h0M467.2 416.6h0M519.2 462.2h0M451.8 479.9h0M436.1 476.8h0M503.2 461.5h0M473.7 432.7h0M544.7 407.8h0M487.0 478.5h0M553.7 461.0h0M483.9 474.0h0M521.3 397.4h0M492.2 416.4h0M510.8 468.9h0M520.4 475.4h0M479.1 469.8h0M530.4 455.5h0M520.4 424.5h0M464.0 438.9h0M461.4 402.2h0M433.5 416.0h0M539.6 402.6h0M456.0 405.1h0M479.9 456.7h0M473.3 472.9h0M495.6 392.6h0M529.6 475.5h0M439.3 437.9h0M446.7 398.9h0M548.8 409.3h0M448.2 389.2h0M551.8 423.9h0M554.3 391.4h0M506.6 467.8h0M447.0 464.2h0M540.0 430.4h0M541.3 453.0h0M481.7 479.3h0M544.4 474.7h0M532.9 399.7h0M476.1 458.3h0" stroke="#fff" stroke-width="3.00" stroke-linecap="round" fill="none"/>
<path d="M436.9 452.1h0M439.9 472.0h0M464.4 398.8h0M439.9 460.3h0M499.5 388.8h0M556.8 458.6h0M523.0 447.1h0M441.0 410.1h0M529.3 414.8h0M462.8 443.4h0M453.0 455.7h0M444.6 424.2h0M490.0 430.6h0M514.2 434.1h0M512.2 424.3h0M460.8 418.9h0M440.7 476.5h0M479.4 395.4h0M439.2 423.3h0M461.5 462.1h0M538.6 465.2h0M433.9 468.3h0M465.5 404.2h0M480.6 428.3h0M467.3 446.7h0M473.8 465.5h0M544.5 470.9h0M518.3 421.4h0M470.0 403.7h0M516.4 437.9h0" stroke="#fff" stroke-width="3.40" stroke-linecap="round" fill="none"/>
<path d="M508.1 452.6h0M473.1 448.7h0M473.7 438.3h0M510.5 431.0h0M495.3 418.9h0M433.6 457.9h0M442.7 417.1h0M518.3 433.0h0M496.2 440.7h0M434.2 425.7h0M446.2 420.5h0M467.4 408.2h0M513.4 419.0h0M527.1 443.7h0M537.0 419.7h0M483.4 435.9h0M489.6 472.2h0M439.0 445.7h0M453.0 392.5h0M452.1 468.0h0M472.4 459.9h0M495.7 480.4h0M438.4 456.2h0M483.7 417.0h0M507.6 404.1h0M503.2 420.9h0M490.0 387.4h0M539.1 394.1h0M476.4 444.6h0M455.1 465.3h0M529.2 393.5h0" stroke="#fff" stroke-width="3.80" stroke-linecap="round" fill="none"/>
<path d="M474.7 428.1h0M433.6 409.5h0M438.3 415.7h0M439.7 464.9h0M464.2 412.1h0M497.3 463.1h0M553.0 445.2h0M501.3 471.0h0M509.9 445.0h0M471.2 469.3h0M447.7 446.0h0M460.1 406.5h0M457.2 461.4h0M555.0 440.6h0M466.0 463.4h0M485.4 469.7h0M516.9 428.7h0M500.6 424.7h0M483.0 452.9h0M451.2 451.3h0M474.5 478.8h0M519.0 451.5h0M514.2 466.6h0M464.3 468.7h0M543.5 437.1h0M497.6 430.4h0M495.5 397.3h0M435.1 464.2h0M482.0 466.3h0M454.1 447.6h0M535.6 436.4h0M433.1 392.0h0" stroke="#fff" stroke-width="4.20" stroke-linecap="round" fill="none"/>
<path d="M506.7 437.5h0M526.3 472.5h0M447.8 415.0h0M432.7 480.2h0M433.3 473.8h0M446.3 409.7h0M514.3 448.2h0M508.9 413.3h0M555.9 428.4h0M549.4 440.4h0M455.8 432.5h0M503.7 449.9h0M534.8 455.0h0M459.7 413.5h0M443.4 396.5h0M511.7 455.6h0M549.5 454.1h0M505.7 429.6h0M549.6 432.1h0" stroke="#fff" stroke-width="4.60" stroke-linecap="round" fill="none"/>
<path d="M502.1 433.9h0M434.0 438.6h0M466.9 476.1h0M534.8 449.3h0M477.0 452.2h0M478.4 462.2h0M544.1 449.1h0M493.6 427.3h0M484.2 431.2h0M523.7 427.9h0M502.0 443.1h0M520.8 441.0h0M462.0 430.7h0M526.2 454.0h0M445.7 479.0h0M500.5 478.3h0M455.7 426.7h0M525.5 436.1h0M452.2 400.1h0M530.0 428.4h0M434.9 432.8h0M459.9 392.9h0M469.7 394.3h0" stroke="#fff" stroke-width="5.20" stroke-linecap="round" fill="none"/>
<path d="M467.2 434.1h0M547.5 461.5h0M472.9 410.1h0M469.9 442.2h0M440.6 430.4h0M433.2 402.1h0M557.0 474.5h0M478.2 435.9h0M468.5 452.8h0M540.2 458.4h0M538.7 479.2h0M444.5 437.7h0M442.9 450.8h0M488.4 452.8h0M512.3 395.4h0M553.6 418.7h0M522.3 467.4h0" stroke="#fff" stroke-width="5.80" stroke-linecap="round" fill="none"/>
<path d="M448.8 459.1h0M453.2 419.4h0M531.3 464.1h0M552.6 479.4h0M448.8 431.7h0M534.1 471.4h0M557.2 451.4h0M492.9 403.7h0M433.2 447.4h0M496.7 446.6h0M476.8 389.5h0" stroke="#fff" stroke-width="6.60" stroke-linecap="round" fill="none"/>
<path d="M489.0 421.5h0M459.7 451.6h0M456.1 475.4h0M498.8 454.6h0M526.5 421.8h0M518.0 415.1h0M446.5 470.8h0M485.0 446.2h0M443.1 403.7h0M474.6 399.6h0M550.6 468.0h0M509.1 461.7h0M489.9 439.9h0M556.8 399.5h0M525.1 406.2h0" stroke="#fff" stroke-width="7.60" stroke-linecap="round" fill="none"/>
<path d="M466.9 424.3h0M500.5 413.5h0M511.2 478.5h0M454.9 440.2h0M477.4 420.4h0M488.2 462.0h0" stroke="#fff" stroke-width="8.60" stroke-linecap="round" fill="none"/>
</g>
<rect x="432.40" y="387.00" width="125.20" height="93.40" fill="none" stroke="#111" stroke-width="1.30" />
<clipPath id="hc3"><rect x="560.20" y="387.00" width="124.20" height="93.40"/></clipPath>
<g clip-path="url(#hc3)">
<rect x="560.20" y="387.00" width="124.20" height="93.40" fill="#d6c7dd" stroke="none" stroke-width="0.80" />
<circle cx="647.1" cy="429.0" r="30.0" fill="#dccde3" opacity="0.40"/>
<circle cx="585.0" cy="466.4" r="20.0" fill="#d2c3dd" opacity="0.40"/>
<rect x="560.20" y="387.00" width="124.20" height="93.40" filter="url(#grain3)"/>
<path d="M631.0 446.1h0M661.7 412.9h0M641.2 470.2h0M673.1 404.4h0M641.1 444.6h0M622.7 477.2h0M625.8 428.6h0M677.4 446.4h0M597.6 415.9h0M621.8 391.9h0M635.7 455.7h0M613.1 466.1h0M675.5 438.9h0M644.8 398.0h0M567.2 478.5h0M595.5 406.9h0M671.6 457.0h0M575.5 417.0h0M590.3 412.5h0M561.0 436.0h0M598.0 423.8h0M583.2 397.3h0M564.3 468.5h0M653.0 439.3h0M575.6 400.9h0M575.1 416.6h0M567.4 412.7h0M585.4 405.0h0M641.4 429.8h0M619.0 420.4h0M627.1 460.3h0M598.5 393.6h0M620.0 422.4h0M657.1 397.4h0M668.6 388.4h0M627.5 428.4h0M599.4 470.0h0M647.4 402.2h0M621.7 444.2h0M564.4 395.2h0M634.9 455.1h0M617.7 426.4h0M623.2 411.3h0M669.1 476.8h0M620.1 388.9h0M609.5 462.0h0M600.6 396.9h0M583.2 453.5h0M637.5 413.7h0M637.6 458.0h0M680.2 464.6h0M614.1 462.6h0M675.1 468.2h0M653.4 441.8h0M623.7 466.4h0M637.8 454.4h0M588.5 395.6h0M593.8 441.5h0M631.4 405.6h0M583.6 475.7h0M569.1 473.5h0M656.1 440.6h0M683.9 450.5h0M561.0 474.7h0M611.5 472.6h0M661.3 399.9h0M565.1 388.9h0M657.2 460.9h0M588.5 397.5h0M605.7 461.7h0M652.2 468.0h0M680.4 457.5h0M664.0 388.5h0M561.0 467.6h0M637.0 417.5h0M576.1 418.1h0M602.3 433.3h0M616.1 405.9h0M570.4 406.0h0M576.1 396.4h0M611.7 399.2h0M659.6 437.9h0M617.3 446.7h0M589.4 389.2h0M570.0 418.5h0M605.1 410.6h0M598.3 464.9h0M561.3 428.9h0M607.8 413.3h0M650.2 408.0h0M565.5 401.9h0M681.7 419.3h0M574.7 477.7h0M640.3 476.3h0M601.4 462.7h0M565.3 409.2h0M658.9 435.2h0M658.2 423.0h0M669.0 394.2h0M637.6 404.6h0M585.0 469.5h0M613.6 462.9h0M595.5 455.2h0M672.9 445.6h0M589.3 449.4h0M678.3 461.8h0M615.3 424.3h0M572.4 458.8h0M579.9 407.4h0M564.3 402.3h0M607.9 431.5h0M582.0 426.6h0M654.4 396.1h0M577.0 435.8h0M672.5 472.7h0M630.9 395.6h0M668.7 479.7h0M671.9 436.6h0M607.7 441.8h0M658.4 479.9h0M621.5 434.3h0M598.8 437.4h0M627.7 413.4h0M617.1 472.5h0M589.5 410.7h0M598.0 467.2h0M597.9 464.2h0M675.6 468.8h0M660.1 405.2h0M616.1 463.9h0M590.7 443.2h0M668.4 474.2h0M603.7 398.1h0M564.1 416.6h0M628.2 413.2h0M662.5 447.7h0M637.3 464.2h0M601.0 447.7h0M603.8 414.0h0M574.4 460.7h0M672.0 389.9h0M649.2 392.8h0M612.1 416.6h0M672.3 427.4h0M623.6 420.2h0M591.8 409.7h0M567.9 388.3h0M628.5 456.0h0M643.5 411.2h0M683.0 394.4h0M613.8 418.2h0M582.5 476.8h0M649.0 399.3h0M582.2 462.6h0M606.5 415.2h0M597.0 417.4h0M633.3 416.1h0M633.7 392.9h0M626.7 441.5h0M599.9 468.0h0M675.5 448.4h0M611.3 402.5h0M637.9 414.0h0M580.7 436.7h0M585.1 446.7h0M654.6 388.1h0M638.8 404.9h0M602.1 454.5h0M680.1 416.3h0M653.9 419.4h0M677.0 403.2h0M642.8 394.7h0M629.7 456.4h0M673.6 458.5h0M628.5 424.4h0M638.4 447.6h0M636.1 453.7h0M652.8 474.5h0M637.3 468.8h0M652.2 422.5h0M659.9 421.1h0M663.1 469.1h0M671.6 472.0h0M646.2 433.5h0M596.0 446.7h0M671.1 420.5h0M586.3 457.7h0M673.2 406.2h0M577.5 397.5h0M628.7 464.7h0M591.0 460.9h0M566.0 406.5h0M628.1 457.8h0M621.5 451.2h0M604.9 422.3h0M624.9 387.2h0M585.1 419.8h0M641.7 405.4h0M590.5 479.5h0M641.0 425.4h0M657.5 453.8h0M661.7 439.2h0M636.5 396.1h0M613.4 423.6h0M592.0 421.1h0M670.2 407.8h0M574.3 418.3h0M581.2 389.2h0M673.6 438.2h0M563.5 436.6h0M581.8 432.1h0M677.6 478.4h0M609.6 460.1h0M621.4 394.5h0M609.9 462.7h0M656.8 454.5h0M682.9 422.5h0M647.5 463.4h0M675.0 468.3h0M668.6 418.8h0M607.1 444.8h0M575.1 415.8h0M606.3 406.2h0M583.2 448.0h0M598.7 392.3h0" stroke="#fff" stroke-width="1.0" stroke-linecap="round" fill="none" opacity="0.9"/>
<path d="M659.3 475.4h0M588.0 451.0h0M570.5 407.6h0M580.6 446.9h0M629.6 463.8h0M642.1 457.5h0M668.8 441.5h0M588.2 402.2h0M666.6 463.6h0M640.4 475.9h0M660.7 424.6h0M583.3 426.9h0M674.1 470.0h0M561.0 387.7h0M615.7 472.0h0M669.3 465.1h0M568.8 406.2h0M656.3 428.1h0M599.8 476.7h0M562.4 432.4h0M669.8 452.4h0M670.5 412.4h0M629.8 478.4h0M576.6 427.2h0M683.3 402.0h0M656.3 457.0h0M592.2 479.5h0M657.2 399.3h0M683.2 469.4h0M619.7 389.7h0M657.6 441.6h0M652.6 394.4h0M619.8 462.5h0M650.7 403.2h0M601.1 429.4h0M617.2 479.4h0M676.1 387.1h0M637.0 399.8h0M667.6 436.3h0M671.7 471.9h0M676.2 402.8h0M568.2 459.2h0M618.0 459.6h0M615.1 425.7h0M651.4 421.4h0M621.8 424.2h0M644.0 393.6h0M617.6 441.2h0M645.3 471.3h0M606.3 476.8h0M647.5 422.8h0M630.0 420.8h0M641.3 389.3h0M671.7 420.6h0M561.6 395.0h0M602.3 411.6h0M664.2 422.1h0M674.0 413.0h0M603.0 475.9h0M666.8 474.5h0M574.4 393.4h0M646.5 418.5h0M573.2 395.6h0M600.3 416.0h0M642.7 479.4h0M581.2 461.1h0M634.0 467.9h0M683.4 472.6h0M576.6 456.0h0M656.3 422.5h0M564.2 458.0h0M638.2 458.0h0M654.1 455.7h0M565.6 474.9h0M678.9 419.9h0M657.8 474.6h0M613.8 418.4h0M635.0 459.9h0M611.4 452.2h0M678.7 421.9h0M673.2 400.1h0M633.9 464.8h0M610.5 413.5h0M594.7 421.0h0M608.7 425.7h0M590.5 442.6h0M587.8 411.5h0M618.0 472.0h0M594.4 404.0h0M656.4 441.5h0M575.2 477.9h0M585.1 446.1h0M589.8 464.3h0M606.1 445.7h0M659.0 452.7h0M598.8 415.2h0M632.6 436.1h0M648.9 393.4h0M568.2 387.3h0M660.2 403.3h0M653.6 429.7h0M678.7 446.5h0M665.3 396.4h0M671.2 422.7h0M565.5 467.2h0M589.2 448.0h0M562.3 428.0h0M618.0 429.0h0M662.9 413.9h0M673.4 402.0h0M680.4 413.7h0M644.4 473.9h0M644.7 466.7h0M571.0 477.3h0M565.3 450.1h0M662.6 458.6h0M650.5 443.6h0M682.8 407.9h0M673.3 462.3h0M584.0 430.3h0M614.3 400.9h0M666.1 466.9h0M653.5 390.2h0M650.8 473.7h0M649.4 474.0h0M679.4 452.7h0M652.4 415.3h0M656.1 416.2h0M593.2 417.8h0M598.6 390.6h0M578.8 412.8h0M587.1 388.9h0M651.6 464.1h0M601.5 453.6h0M668.1 389.8h0M631.4 442.1h0M581.6 471.2h0M660.2 437.1h0M626.8 464.8h0M567.3 468.8h0M625.3 415.4h0M592.5 437.6h0M572.7 464.2h0M611.0 470.8h0M678.6 461.1h0M573.7 409.8h0M638.5 474.9h0M637.9 420.7h0M660.6 430.3h0M633.4 429.5h0M678.3 444.2h0M573.6 447.1h0M610.2 402.8h0M621.8 411.8h0M678.2 407.5h0M627.9 387.5h0M597.9 447.9h0M622.3 448.9h0M631.5 444.4h0M592.1 473.3h0M641.0 389.6h0M663.9 402.7h0M611.9 447.6h0M671.7 403.0h0M597.0 435.1h0M644.9 430.3h0M648.0 479.5h0M568.4 424.7h0M658.7 462.7h0M678.8 418.5h0M591.1 449.3h0M663.0 461.6h0M626.7 399.0h0M647.1 410.9h0M563.4 387.2h0M602.5 421.9h0M627.9 428.6h0M623.8 446.1h0M582.9 461.7h0M643.5 462.8h0M630.2 437.4h0M664.1 448.6h0M593.2 467.8h0M584.0 412.7h0M662.8 429.4h0M579.1 470.9h0M634.3 388.8h0M603.1 419.1h0M594.9 454.4h0M588.6 394.8h0M666.9 440.7h0M619.4 469.7h0M644.9 466.6h0M601.8 415.4h0M601.5 430.9h0M631.9 405.6h0M630.6 474.7h0M653.2 387.4h0M619.3 445.9h0M566.9 479.6h0M657.9 439.2h0M624.4 446.5h0M609.3 440.9h0M623.1 419.4h0M618.6 392.5h0M636.1 409.1h0M593.2 401.3h0M653.4 429.4h0M632.3 434.7h0M633.1 420.7h0M592.4 458.7h0M650.2 401.4h0M577.8 419.9h0M658.9 415.9h0M588.2 427.2h0M622.3 445.7h0M599.8 424.3h0M682.4 457.8h0M587.5 434.4h0M579.1 478.5h0M592.5 473.4h0M587.1 408.0h0M602.7 417.5h0M602.9 423.7h0M611.0 397.5h0" stroke="#fff" stroke-width="1.5" stroke-linecap="round" fill="none" opacity="0.9"/>
<path d="M638.2 451.7h0M588.0 399.6h0M564.5 404.1h0M624.4 445.3h0M676.8 463.6h0M579.9 411.1h0M584.6 393.5h0M563.7 437.6h0M678.8 478.3h0M563.2 410.3h0M603.9 467.3h0M572.9 428.1h0M668.7 460.0h0M582.6 435.4h0M644.7 398.7h0M667.3 450.3h0M605.7 418.3h0M571.3 471.3h0M584.0 441.9h0M646.9 443.4h0M659.1 412.6h0M643.1 406.8h0M648.2 457.4h0M618.0 455.1h0M644.3 388.4h0M586.6 406.6h0M646.1 464.5h0M588.8 473.3h0M584.6 427.1h0M665.7 413.4h0M666.7 391.1h0M596.4 465.5h0M641.6 398.5h0M621.0 436.3h0M563.8 474.1h0M563.3 473.7h0M646.5 448.4h0M606.2 409.9h0M621.5 476.0h0M572.1 431.6h0M635.4 477.8h0M647.7 475.6h0M647.2 427.7h0M676.5 390.7h0M653.1 388.3h0M571.3 391.7h0M616.0 461.4h0M659.0 445.1h0M606.1 414.3h0M616.6 417.8h0M624.0 447.4h0M571.6 473.8h0M576.4 468.6h0M562.1 387.3h0M679.5 417.7h0M608.8 459.0h0M570.3 443.7h0M667.9 432.1h0M563.1 401.2h0M669.0 405.4h0M647.9 446.8h0M656.4 447.3h0M626.9 461.9h0M649.8 408.3h0M569.3 441.9h0M631.6 449.1h0M596.4 479.1h0M634.4 426.2h0M581.3 404.2h0M594.1 450.9h0M611.4 462.9h0M599.8 465.5h0M680.7 449.5h0M659.0 414.2h0M617.3 422.8h0M610.0 477.8h0M601.5 477.2h0M651.2 412.0h0M614.0 427.1h0M617.2 475.4h0M639.2 433.4h0M632.7 419.0h0M576.4 423.3h0M660.5 461.2h0M564.3 446.5h0M655.4 445.9h0M678.9 415.7h0M580.8 424.5h0M563.2 467.0h0M615.4 448.8h0M622.6 436.2h0M607.0 460.3h0M668.4 479.6h0M630.5 430.5h0M630.8 476.6h0M601.4 388.4h0M622.8 467.3h0M578.1 419.2h0M638.1 445.9h0M601.4 457.6h0M662.7 452.7h0M668.5 399.6h0M611.5 425.4h0M596.1 426.7h0M675.9 456.5h0M583.7 451.8h0M641.1 410.4h0M602.9 399.2h0M616.3 455.9h0M603.7 416.0h0M590.6 478.0h0M591.2 428.3h0M588.9 432.8h0M657.2 468.2h0M632.3 473.8h0M596.1 451.3h0M605.9 411.3h0M609.4 406.3h0M638.0 402.2h0M648.3 455.6h0M562.8 422.4h0M641.1 447.4h0M637.1 388.4h0M652.9 399.8h0M562.4 457.2h0M614.1 405.2h0M577.7 422.5h0M642.2 390.1h0M624.6 429.3h0M668.5 426.7h0M580.6 442.3h0M571.4 395.9h0M671.6 439.6h0M603.9 406.9h0M578.1 425.7h0M612.4 475.2h0M618.7 423.3h0M622.1 414.9h0M622.5 423.5h0M585.4 421.8h0M656.5 395.0h0M635.5 473.6h0M633.2 429.6h0M668.0 454.7h0M602.1 387.1h0M673.8 428.9h0M599.9 387.5h0M587.4 455.5h0M635.1 401.6h0M654.4 460.3h0M571.6 444.6h0M601.7 422.5h0M596.0 437.0h0M571.3 476.7h0M578.5 479.2h0M563.4 425.3h0M594.1 479.6h0M602.9 480.4h0M606.6 397.7h0M607.2 393.1h0M620.8 402.2h0M587.5 400.4h0M600.4 479.7h0M626.8 446.0h0M663.2 427.1h0M642.2 388.3h0M625.6 464.9h0M604.7 398.2h0M674.1 460.4h0M599.6 397.9h0M607.6 431.9h0M592.7 466.8h0M630.0 462.6h0M625.4 474.6h0M639.2 433.7h0M620.7 467.0h0M637.5 438.8h0M580.9 469.3h0M643.6 479.0h0M610.7 406.0h0M566.8 418.1h0M622.3 410.2h0M650.1 404.8h0M674.3 401.3h0M582.8 398.1h0M658.1 469.3h0M646.0 409.5h0M664.2 452.2h0M591.7 471.2h0M654.8 412.2h0M626.6 387.8h0M573.8 394.5h0M661.7 429.2h0M634.9 472.6h0M595.8 400.0h0M593.0 474.4h0M600.3 391.1h0M568.8 422.5h0M670.5 408.1h0M656.7 420.8h0M681.6 443.7h0M589.8 417.5h0M626.3 424.5h0M616.3 476.3h0M564.9 420.5h0M652.8 471.2h0M668.8 422.5h0M604.9 470.1h0M631.6 476.4h0M575.3 459.3h0M650.7 479.9h0M591.3 443.1h0M665.9 429.5h0M575.6 450.9h0M580.8 402.5h0M683.7 430.6h0M679.5 475.0h0M578.3 408.8h0M654.8 403.4h0M572.9 395.7h0M668.4 470.5h0M668.3 422.9h0M589.7 436.8h0M564.2 406.7h0M673.7 479.4h0M606.6 408.0h0M636.2 471.7h0M630.6 436.6h0M642.8 453.8h0M596.8 417.9h0M619.4 430.8h0M683.2 405.0h0M563.0 438.6h0M681.2 475.1h0M578.3 480.2h0M672.9 411.6h0M590.5 405.5h0M620.3 438.9h0M586.4 433.5h0M625.7 401.4h0M641.1 398.5h0M617.3 404.9h0M578.0 440.5h0M660.6 435.9h0M576.7 403.8h0M668.0 439.5h0M594.6 423.1h0M578.2 441.1h0M561.1 460.1h0M584.7 419.9h0M680.1 392.6h0M602.7 445.6h0M638.6 464.4h0M661.5 429.6h0M656.8 409.3h0M658.0 464.6h0M562.1 458.9h0M604.0 398.1h0M578.1 412.0h0M661.1 467.4h0M638.5 420.1h0M594.3 406.6h0M569.5 429.8h0M640.7 462.5h0M654.0 469.2h0M631.1 456.5h0M637.6 447.9h0M656.3 396.1h0M564.4 407.1h0M610.0 428.5h0M568.8 448.5h0M638.1 419.3h0M671.1 411.9h0M601.7 478.7h0M591.5 405.6h0M567.1 421.8h0M633.3 421.1h0M630.2 447.2h0M629.2 480.0h0M653.0 394.0h0M673.4 453.8h0M655.7 467.1h0M665.8 409.2h0M610.1 448.3h0M624.8 458.7h0M614.2 452.2h0M606.4 418.6h0M639.2 428.8h0M605.6 427.8h0M607.9 417.7h0M607.3 439.6h0M577.5 421.8h0M641.6 421.3h0M658.4 413.8h0M617.4 429.5h0M601.3 433.6h0M672.1 473.6h0M574.6 462.0h0M638.4 433.7h0M585.7 412.1h0M615.0 399.8h0M668.7 470.2h0M681.3 394.1h0M580.2 477.2h0M631.8 411.3h0M650.3 442.5h0M650.2 469.3h0M589.8 413.5h0M642.4 477.0h0M626.5 444.0h0M621.6 389.1h0M671.2 436.7h0M584.8 395.1h0M614.8 463.2h0M663.7 462.7h0M679.3 448.8h0M594.4 405.7h0M631.0 431.6h0M587.0 475.8h0M568.4 405.0h0M584.4 434.9h0M649.6 407.4h0M586.4 454.1h0M672.6 432.2h0M672.7 442.9h0M620.0 412.1h0M589.2 421.8h0M674.1 449.1h0M653.4 469.6h0M665.4 416.9h0M582.9 389.0h0M642.9 401.8h0M657.2 464.8h0M580.1 464.8h0M599.5 435.3h0M665.5 390.6h0M588.3 410.9h0M663.9 470.9h0M616.2 397.6h0M662.7 414.8h0M635.8 476.9h0M655.1 446.1h0M635.9 435.2h0M626.8 428.4h0M648.8 472.8h0M563.6 408.7h0M642.2 465.7h0M631.1 426.5h0M589.6 446.6h0M566.6 410.1h0M661.8 436.5h0M634.9 403.3h0M569.0 464.2h0M575.7 434.9h0M633.4 425.6h0M601.9 440.4h0M631.5 396.3h0M602.5 452.3h0M634.5 412.5h0M625.7 427.3h0M570.1 401.1h0M658.0 448.4h0M597.0 424.7h0M587.4 392.1h0M594.4 420.1h0M609.9 396.0h0M658.3 428.7h0M561.9 448.0h0M573.8 450.3h0M615.5 436.3h0M604.8 467.1h0M596.8 398.1h0M628.5 452.3h0M588.7 436.1h0M649.7 397.7h0M665.2 418.2h0M622.5 413.9h0M657.6 444.0h0M611.3 418.7h0M656.5 416.5h0M589.1 390.1h0M668.4 468.0h0M659.9 479.4h0M613.6 471.3h0M637.8 411.4h0M604.2 417.3h0M600.4 412.4h0M603.0 474.4h0M566.9 429.9h0M654.9 461.0h0M564.5 463.4h0M599.5 446.8h0M633.6 464.3h0M674.0 457.4h0M579.4 414.6h0M596.0 395.7h0M591.3 406.7h0M681.5 444.5h0M668.9 476.5h0M666.9 455.5h0M604.3 416.8h0M611.8 466.3h0M597.5 434.6h0M657.9 395.0h0M641.4 389.4h0M591.8 449.7h0M644.5 477.6h0M641.6 469.5h0M658.8 408.3h0M681.0 390.1h0M652.3 425.2h0M589.6 417.4h0M651.2 471.8h0M618.8 468.8h0M601.2 467.3h0M676.8 451.7h0M605.6 413.0h0M577.1 462.8h0M662.3 407.7h0M578.2 471.9h0M662.9 434.6h0M562.4 461.8h0M591.3 434.6h0M583.2 466.7h0M636.2 388.7h0M643.7 408.5h0M655.8 411.1h0M627.0 447.6h0M604.5 398.2h0M607.0 393.0h0M662.4 415.6h0M561.2 431.2h0M614.4 449.1h0M616.8 392.6h0M560.6 478.0h0M633.1 423.3h0M588.0 453.3h0M661.4 443.5h0M585.9 415.7h0M666.4 424.1h0M642.2 388.6h0M632.8 468.7h0M667.4 465.5h0M607.0 418.5h0M621.2 425.7h0M638.0 424.3h0M674.9 477.9h0M614.9 450.6h0M671.6 476.9h0M616.5 416.9h0M561.3 391.4h0M621.6 399.2h0M617.7 466.9h0M598.9 434.5h0M677.8 429.6h0M660.5 476.2h0M597.6 409.9h0M654.7 432.8h0M590.2 415.1h0M641.4 420.2h0M644.1 413.7h0M593.5 416.4h0M661.2 404.0h0M580.1 395.5h0M644.6 468.4h0M593.0 479.0h0M644.6 430.7h0M616.5 466.0h0M634.0 454.9h0M582.4 439.2h0M660.1 414.7h0M596.7 411.8h0M581.7 418.2h0M591.5 388.7h0M614.0 424.7h0M637.0 412.7h0M676.6 401.4h0M619.7 395.0h0M617.1 420.1h0M615.6 407.3h0M606.9 449.0h0M596.8 412.6h0M574.4 424.7h0M587.2 450.2h0M621.0 408.2h0M640.5 478.7h0M623.4 429.8h0M635.9 439.9h0M684.3 436.3h0M568.4 446.0h0M634.4 426.3h0M640.2 462.1h0M617.4 412.0h0M566.3 423.9h0M638.2 389.5h0M675.9 442.0h0M594.8 433.9h0M647.8 436.9h0M605.0 466.2h0M652.2 479.8h0M609.1 441.5h0M572.8 418.1h0M661.2 473.1h0M667.3 404.9h0M598.0 449.5h0M673.5 409.8h0M580.3 415.1h0M602.1 406.0h0M572.2 410.4h0M670.5 460.0h0M660.6 440.3h0M627.0 426.0h0M600.7 404.7h0M563.0 436.7h0M608.9 422.0h0M676.5 389.7h0M574.7 459.5h0M617.1 444.3h0M638.3 460.3h0M667.3 462.9h0M643.7 441.2h0M583.0 451.1h0M628.2 458.2h0M575.0 473.5h0M672.0 398.4h0M674.1 471.4h0M565.5 415.4h0M624.8 465.9h0M663.5 400.8h0M661.8 460.3h0M568.2 471.9h0M600.7 397.4h0M649.5 451.6h0M681.5 404.3h0M584.3 411.4h0M674.4 462.8h0M680.3 463.9h0M680.7 463.1h0M624.5 456.9h0M619.9 462.5h0M564.7 409.9h0M582.9 457.6h0M561.9 437.3h0M676.4 452.1h0M651.3 403.8h0M618.5 390.8h0M618.8 390.9h0M600.8 434.4h0M651.1 412.4h0M654.2 436.3h0M643.1 454.2h0M683.6 463.0h0M679.3 461.4h0M656.7 463.7h0M583.8 423.4h0M620.6 476.8h0M669.1 461.1h0M614.3 460.3h0M645.7 440.3h0M588.6 468.9h0M567.7 432.8h0M641.5 449.6h0M609.3 412.0h0M600.9 458.5h0M676.9 473.1h0M612.3 435.4h0M579.3 408.9h0M571.2 444.0h0M602.1 402.6h0M611.6 430.1h0M569.9 477.9h0M576.0 441.6h0M683.7 396.1h0M586.4 462.3h0M666.3 449.2h0M659.8 449.1h0M660.0 410.6h0M662.5 473.3h0M592.1 454.0h0M572.7 424.5h0M683.9 445.9h0M589.3 463.7h0M643.8 459.8h0M656.4 403.9h0M589.0 431.2h0M562.2 413.9h0M646.3 416.9h0M602.0 418.1h0M664.8 407.9h0M668.7 460.4h0M583.2 434.4h0M618.6 444.9h0M642.1 451.8h0M564.6 452.5h0M589.5 437.1h0M568.9 475.0h0M564.6 395.8h0M571.5 393.5h0M562.0 475.8h0M618.8 434.3h0M678.0 387.5h0M645.3 421.1h0M648.0 436.7h0M666.0 459.0h0M681.2 413.0h0M678.7 444.9h0M568.1 480.0h0M603.8 415.5h0M611.8 456.2h0M621.5 426.9h0M672.9 423.8h0M599.1 452.6h0M665.1 410.8h0M669.4 395.9h0M663.5 445.3h0M631.0 448.9h0M627.4 407.3h0M602.9 395.2h0M606.7 468.7h0M590.6 478.5h0M639.5 429.8h0M643.1 436.8h0M679.5 407.9h0M675.9 442.7h0M639.0 466.3h0M560.8 472.5h0M571.1 419.1h0M582.2 405.6h0M577.8 469.0h0M650.6 425.5h0M675.2 423.0h0M642.0 388.3h0M595.9 431.5h0M583.4 460.6h0M608.9 472.9h0M579.4 436.2h0M649.9 427.1h0M604.3 409.5h0M587.8 403.3h0M640.4 459.0h0M564.9 472.2h0M606.9 392.1h0M593.2 392.2h0M664.9 447.1h0M578.6 397.6h0M580.2 439.0h0M629.6 473.5h0M666.6 394.2h0M626.7 439.6h0M610.2 392.7h0M602.3 404.6h0M676.6 467.3h0M610.4 414.7h0M674.5 444.5h0M672.6 433.3h0M601.4 426.9h0M561.9 414.1h0M572.0 424.1h0M650.9 443.9h0M629.0 424.8h0M677.1 438.7h0M653.1 439.3h0M677.3 423.4h0M636.5 425.8h0M651.4 438.8h0" stroke="#6a68a8" stroke-width="0.9" stroke-linecap="round" fill="none" opacity="0.75"/>
<path d="M589.1 446.9h0M647.7 419.4h0M571.6 409.3h0M662.8 388.8h0M588.4 464.6h0M574.4 424.7h0M581.0 470.8h0M594.0 414.2h0M676.7 475.2h0M655.3 413.9h0M641.8 395.5h0M630.4 459.6h0M665.7 400.8h0M575.1 428.8h0M631.4 389.6h0M594.4 426.8h0M676.0 421.8h0M575.0 420.7h0M577.4 479.4h0M570.4 439.4h0M629.8 432.7h0M576.0 455.8h0M626.8 418.6h0M630.4 451.5h0M621.7 472.1h0M568.6 422.3h0M604.7 477.4h0M599.9 476.3h0M589.9 443.8h0M582.7 425.9h0M673.0 473.6h0M638.4 432.5h0M606.8 473.8h0M644.8 449.8h0M608.8 427.4h0M650.2 394.6h0M600.0 456.8h0M577.8 429.8h0M633.6 425.0h0M681.8 413.8h0M592.4 470.5h0M663.7 429.8h0M630.3 441.1h0M665.9 427.5h0M634.2 479.7h0M627.4 452.2h0M639.7 391.1h0M565.0 427.8h0M598.7 399.2h0M590.3 453.1h0M618.2 461.2h0M642.2 464.2h0M656.8 464.8h0M649.8 407.0h0M647.6 407.2h0M650.8 442.6h0M618.4 438.6h0M585.4 478.2h0M657.3 436.2h0M678.0 410.6h0M565.1 437.0h0M570.4 412.0h0M633.3 460.7h0M576.2 478.3h0M569.5 404.5h0M674.9 428.2h0M567.1 453.3h0M621.1 417.3h0M679.2 455.2h0M621.2 462.2h0M592.5 402.6h0M630.1 434.6h0M563.5 421.0h0M654.3 436.7h0M579.7 409.1h0M662.2 409.6h0M595.4 400.4h0M598.3 449.6h0M623.8 435.2h0M665.3 405.2h0M634.5 422.6h0M665.3 437.5h0M590.2 465.7h0M634.1 471.3h0M604.2 400.0h0M604.8 477.3h0M682.6 423.2h0M668.6 450.8h0M676.3 416.6h0M570.7 424.8h0M655.8 438.2h0M613.1 432.3h0M590.2 418.1h0M598.8 468.3h0M582.0 477.3h0M631.0 472.5h0M617.2 478.1h0M612.0 392.0h0M625.3 460.7h0M673.3 461.1h0M591.8 447.8h0M598.7 459.5h0M676.5 474.1h0M653.9 455.6h0M582.0 436.4h0M660.2 463.6h0M641.7 463.0h0M591.0 474.9h0M565.9 389.8h0M667.2 398.8h0M613.0 467.0h0M675.1 445.1h0M596.0 419.5h0M561.3 462.0h0M630.5 391.1h0M561.5 407.6h0M654.1 427.1h0M572.3 444.2h0M584.5 439.5h0M563.7 470.6h0M604.7 414.7h0M595.0 436.2h0M638.3 423.2h0M584.7 474.1h0M679.6 444.8h0M580.7 420.6h0M570.2 440.0h0M679.6 416.4h0M616.3 476.1h0M583.3 469.8h0M672.4 418.3h0M666.4 393.4h0M575.3 441.2h0M565.5 395.2h0M630.4 450.4h0M655.8 435.5h0M574.3 416.4h0M560.2 420.9h0M675.6 422.9h0M619.8 454.1h0M655.6 436.3h0M637.2 389.0h0M600.3 467.8h0M665.9 395.0h0M657.5 462.8h0M620.7 417.0h0M684.2 468.2h0M564.7 433.7h0M595.1 437.3h0M659.8 402.5h0M586.4 467.4h0M589.0 438.0h0M623.5 405.1h0M634.2 407.4h0M562.3 434.1h0M589.5 456.2h0M674.1 475.5h0M610.5 458.1h0M569.3 448.6h0M580.4 453.7h0M600.0 429.0h0M640.4 437.9h0M637.0 476.3h0M563.4 401.6h0M600.3 435.0h0M656.6 406.2h0M570.4 432.8h0M600.0 408.3h0M615.2 392.4h0M652.5 431.7h0M601.7 449.3h0M602.8 403.3h0M603.2 402.5h0M600.8 465.7h0M601.1 427.4h0M588.7 392.3h0M611.8 414.2h0M605.2 421.9h0M670.8 463.3h0M618.6 409.4h0M604.3 428.2h0M564.6 441.2h0M671.0 402.9h0M596.6 421.3h0M599.5 404.4h0M614.7 436.8h0M666.9 425.9h0M599.6 417.3h0M662.3 387.6h0M577.1 399.3h0M600.4 450.5h0M637.3 389.9h0M637.5 399.5h0M597.7 419.0h0M627.6 405.6h0M653.6 443.7h0M623.9 416.6h0M655.3 457.2h0M623.7 417.0h0M587.7 415.4h0M619.5 459.6h0M650.7 477.4h0M681.5 419.9h0M665.7 423.9h0M604.1 427.2h0M598.5 414.0h0M607.7 469.3h0M564.0 455.4h0M642.7 469.3h0M623.1 437.6h0M647.9 439.3h0M614.7 464.5h0M601.6 459.8h0M616.4 396.2h0M635.5 402.7h0M642.1 476.0h0M667.1 467.2h0M682.6 390.4h0M677.1 466.1h0M574.0 391.6h0M661.2 432.4h0M586.1 433.4h0M659.4 474.2h0M606.4 463.6h0M639.6 419.6h0M672.3 460.1h0M641.5 417.1h0M659.3 400.1h0M564.8 418.5h0M634.9 452.1h0M683.8 451.2h0M612.2 395.9h0M600.0 421.4h0M677.8 433.2h0M678.8 457.2h0M568.4 402.4h0M609.9 439.7h0M658.2 480.3h0M589.4 474.5h0M684.2 469.9h0M636.1 412.7h0M611.2 401.8h0M600.6 403.8h0M567.2 434.1h0M649.1 395.3h0M640.5 422.3h0M601.9 453.7h0M624.5 475.6h0M648.4 424.4h0M645.6 389.2h0M564.6 458.7h0M584.9 405.1h0M562.4 464.2h0M678.7 405.1h0M651.7 461.9h0M590.9 420.4h0M589.5 462.9h0M646.9 415.6h0M650.0 440.7h0M635.1 454.8h0M647.0 391.4h0M681.1 478.3h0M663.1 395.4h0M665.9 407.4h0M601.2 442.4h0M593.6 431.0h0M647.6 427.0h0M649.2 454.3h0M680.8 417.2h0M659.4 417.2h0M664.1 411.0h0M646.2 400.1h0M659.0 413.1h0M636.3 387.2h0M607.8 433.3h0M655.4 472.3h0M674.4 416.8h0M650.7 422.6h0M650.8 423.2h0M572.3 392.8h0M589.9 453.1h0M625.5 465.7h0M640.2 450.9h0M647.9 397.9h0M678.0 417.2h0" stroke="#6a68a8" stroke-width="1.3" stroke-linecap="round" fill="none" opacity="0.75"/>
<path d="M608.7 426.6h0M620.9 424.0h0M658.9 478.2h0M591.5 432.5h0M576.8 401.0h0M620.5 406.6h0M565.0 469.4h0M612.3 433.3h0M640.8 461.3h0M603.0 411.5h0M650.1 471.0h0M596.3 434.7h0M601.9 426.3h0M574.0 440.2h0M681.0 457.6h0M576.0 397.3h0M583.4 439.2h0M619.9 410.2h0M578.1 479.1h0M661.2 428.4h0M678.5 401.0h0M632.9 425.8h0M567.3 439.3h0M611.7 444.1h0M583.6 435.3h0M625.6 465.3h0" stroke="#fff" stroke-width="2.00" stroke-linecap="round" fill="none"/>
<path d="M615.4 475.4h0M561.5 448.6h0M605.5 440.9h0M582.7 469.4h0M669.2 468.6h0M568.5 478.6h0M628.7 406.8h0M625.7 479.9h0M671.2 399.0h0M667.6 396.7h0M568.7 435.0h0M576.3 472.9h0M625.6 422.9h0M645.0 478.6h0M574.4 436.6h0M612.6 438.7h0M580.9 456.5h0M591.9 415.1h0M587.7 439.3h0M597.4 400.2h0M566.1 436.8h0M663.3 457.4h0M629.0 423.9h0" stroke="#fff" stroke-width="2.20" stroke-linecap="round" fill="none"/>
<path d="M630.7 409.2h0M611.0 448.4h0M561.6 436.7h0M572.0 478.3h0M599.6 467.6h0M607.7 438.6h0M571.1 469.9h0M653.9 440.8h0M627.1 441.0h0M604.7 415.6h0M675.8 466.8h0M616.4 440.0h0M618.8 456.9h0M608.0 401.7h0M656.0 462.0h0M625.0 435.9h0M584.3 442.3h0M566.6 405.8h0M594.7 431.9h0M622.8 420.3h0" stroke="#fff" stroke-width="2.60" stroke-linecap="round" fill="none"/>
<path d="M563.8 441.8h0M644.2 441.0h0M576.1 419.9h0M584.1 408.6h0M618.2 473.8h0M666.3 411.0h0M594.1 438.6h0M671.5 434.1h0M607.5 397.8h0M633.9 439.6h0M608.8 407.1h0M598.5 405.9h0M611.6 404.3h0M574.7 466.8h0M589.2 445.2h0M572.3 414.0h0M579.6 435.8h0M594.4 423.0h0" stroke="#fff" stroke-width="3.00" stroke-linecap="round" fill="none"/>
<path d="M644.3 464.4h0M601.4 460.6h0M660.3 421.2h0M673.2 406.5h0M622.1 454.1h0M678.8 422.2h0M678.3 409.3h0M629.5 436.4h0M581.7 413.2h0" stroke="#fff" stroke-width="3.40" stroke-linecap="round" fill="none"/>
<path d="M603.8 422.3h0M631.8 415.4h0M568.4 411.4h0M661.8 409.5h0M622.2 397.0h0M623.5 442.8h0M598.5 396.9h0M588.6 400.8h0M573.8 450.3h0M584.3 420.0h0M680.3 396.7h0M672.1 475.7h0M604.9 432.2h0M671.0 415.3h0M682.9 406.4h0M666.1 470.3h0M655.6 477.0h0M615.4 447.6h0" stroke="#fff" stroke-width="4.00" stroke-linecap="round" fill="none"/>
<path d="M562.8 407.4h0M667.2 461.2h0M561.3 395.3h0M564.1 475.3h0M679.9 415.6h0M578.9 462.3h0M631.7 472.9h0M588.6 462.3h0M564.7 426.6h0M611.6 462.8h0M674.3 387.1h0M613.2 412.9h0M660.4 472.9h0M614.1 392.0h0M593.5 465.9h0M598.3 442.2h0M651.1 448.4h0M662.2 443.7h0M590.3 422.4h0M649.5 480.0h0M570.6 397.8h0M655.0 416.4h0" stroke="#fff" stroke-width="4.60" stroke-linecap="round" fill="none"/>
<path d="M600.9 477.0h0M597.4 448.0h0M625.6 414.7h0M584.8 395.9h0M675.4 398.3h0M603.3 437.0h0M682.5 476.6h0M633.5 399.9h0M592.9 405.9h0M570.8 461.8h0M583.2 388.5h0M646.6 390.6h0M587.2 476.4h0M593.9 472.8h0M564.9 416.5h0M676.1 437.3h0" stroke="#fff" stroke-width="5.40" stroke-linecap="round" fill="none"/>
<path d="M618.8 414.7h0M623.6 429.6h0M581.6 426.8h0M614.7 425.0h0M638.9 473.1h0M570.6 427.5h0M662.1 403.7h0M604.6 468.7h0M628.9 447.7h0M639.6 408.4h0" stroke="#fff" stroke-width="6.40" stroke-linecap="round" fill="none"/>
</g>
<rect x="560.20" y="387.00" width="124.20" height="93.40" fill="none" stroke="#111" stroke-width="1.30" />
<ellipse cx="492.6" cy="431.6" rx="4.6" ry="3.0" fill="#fff" transform="rotate(-15 492.6 431.6)"/>
<ellipse cx="655.8" cy="440.6" rx="5.6" ry="3.4" fill="#fff" transform="rotate(-25 655.8 440.6)"/>
<path d="M651 419 l2 3 l-1 4 l2 3" stroke="#e0508a" stroke-width="0.8" fill="none" opacity="0.8"/>
<rect x="389.80" y="473.60" width="32.40" height="2.70" fill="#000" stroke="none" stroke-width="0.80" />
<rect x="517.00" y="473.60" width="32.20" height="2.70" fill="#000" stroke="none" stroke-width="0.80" />
<rect x="648.00" y="473.60" width="32.40" height="2.70" fill="#000" stroke="none" stroke-width="0.80" />
<text x="0.00" y="537.60" font-size="13.00" fill="#000" font-weight="bold" stroke="#000" stroke-width="0.35">j</text>
<rect x="20.60" y="539.50" width="133.20" height="34.70" fill="#d9d9d9" stroke="none" stroke-width="0.80" />
<rect x="153.80" y="539.50" width="112.80" height="34.70" fill="#ff6b6b" stroke="none" stroke-width="0.80" />
<rect x="266.60" y="539.50" width="117.40" height="34.70" fill="#8faadc" stroke="none" stroke-width="0.80" />
<rect x="384.00" y="539.50" width="116.30" height="34.70" fill="#0000ff" stroke="none" stroke-width="0.80" />
<rect x="20.60" y="574.20" width="479.70" height="114.20" fill="#fff" stroke="none" stroke-width="0.80" />
<line x1="20.60" y1="538.90" x2="20.60" y2="689.00" stroke="#111" stroke-width="1.20" />
<line x1="153.80" y1="538.90" x2="153.80" y2="689.00" stroke="#111" stroke-width="1.20" />
<line x1="266.60" y1="538.90" x2="266.60" y2="689.00" stroke="#111" stroke-width="1.20" />
<line x1="384.00" y1="538.90" x2="384.00" y2="689.00" stroke="#111" stroke-width="1.20" />
<line x1="500.30" y1="538.90" x2="500.30" y2="689.00" stroke="#111" stroke-width="1.20" />
<line x1="20.60" y1="539.50" x2="500.30" y2="539.50" stroke="#111" stroke-width="1.20" />
<line x1="20.60" y1="574.20" x2="500.30" y2="574.20" stroke="#111" stroke-width="1.20" />
<line x1="20.60" y1="600.50" x2="500.30" y2="600.50" stroke="#111" stroke-width="1.20" />
<line x1="20.60" y1="626.50" x2="500.30" y2="626.50" stroke="#111" stroke-width="1.20" />
<line x1="20.60" y1="662.00" x2="500.30" y2="662.00" stroke="#111" stroke-width="1.20" />
<line x1="20.60" y1="688.40" x2="500.30" y2="688.40" stroke="#111" stroke-width="1.20" />
<text font-size="8.40" transform="translate(210.20 554.60) scale(1.070 1)" text-anchor="middle" fill="#2a0505">Vehicle</text>
<text x="325.90" y="554.20" font-size="8.45" text-anchor="middle" fill="#111">MDMG-935P</text>
<text x="325.90" y="564.00" font-size="8.45" text-anchor="middle" fill="#111">5 mg kg<tspan dy="-3.38" font-size="5.58">−1</tspan><tspan dy="3.38"> d</tspan><tspan dy="-3.38" font-size="5.58">−1</tspan></text>
<text x="442.55" y="554.20" font-size="8.45" text-anchor="middle" fill="#fff">MDMG-935P</text>
<text x="442.55" y="564.00" font-size="8.45" text-anchor="middle" fill="#fff">10 mg kg<tspan dy="-3.38" font-size="5.58">−1</tspan><tspan dy="3.38"> d</tspan><tspan dy="-3.38" font-size="5.58">−1</tspan></text>
<text font-size="8.40" transform="translate(87.20 591.60) scale(1.080 1)" text-anchor="middle">Steatosis</text>
<text x="210.20" y="591.60" font-size="8.40" text-anchor="middle">1.97 ± 0.11</text>
<text x="325.30" y="591.60" font-size="8.40" text-anchor="middle">2.18 ± 0.13</text>
<text x="443.65" y="591.60" font-size="8.40" text-anchor="middle">1.13 ± 0.09 *** ###</text>
<text font-size="8.40" transform="translate(87.20 617.30) scale(1.080 1)" text-anchor="middle">Lobular inflammation</text>
<text x="210.20" y="617.30" font-size="8.40" text-anchor="middle">2.54 ± 0.17</text>
<text x="325.30" y="617.30" font-size="8.40" text-anchor="middle">2.26 ± 0.17</text>
<text x="443.65" y="617.30" font-size="8.40" text-anchor="middle">1.02 ± 0.14 *** ##</text>
<text x="210.20" y="647.10" font-size="8.40" text-anchor="middle">1.17 ± 0.10</text>
<text x="325.30" y="647.10" font-size="8.40" text-anchor="middle">1.04 ± 0.09</text>
<text x="443.65" y="647.10" font-size="8.40" text-anchor="middle">0.70 ± 0.11 **</text>
<text font-size="8.40" transform="translate(87.20 678.10) scale(1.080 1)" text-anchor="middle">NAS</text>
<text x="210.20" y="678.10" font-size="8.40" text-anchor="middle">5.69 ± 0.28</text>
<text x="325.30" y="678.10" font-size="8.40" text-anchor="middle">5.50 ± 0.26</text>
<text x="443.65" y="678.10" font-size="8.40" text-anchor="middle">2.85  ± 0.27 *** ###</text>
<text font-size="8.40" transform="translate(87.20 643.00) scale(1.080 1)" text-anchor="middle">Hepatocellular</text>
<text font-size="8.40" transform="translate(87.20 652.30) scale(1.080 1)" text-anchor="middle">ballooning</text>
<text x="543.80" y="536.20" font-size="13.00" fill="#000" font-weight="bold" stroke="#000" stroke-width="0.35">k</text>
<rect x="594.80" y="592.50" width="21.00" height="61.80" fill="#ff0000" stroke="#111" stroke-width="1.20" />
<rect x="622.10" y="597.50" width="21.20" height="56.80" fill="#8faadc" stroke="#111" stroke-width="1.20" />
<rect x="649.50" y="617.90" width="21.20" height="36.40" fill="#0000ff" stroke="#111" stroke-width="1.20" />
<line x1="605.30" y1="585.40" x2="605.30" y2="598.90" stroke="#111" stroke-width="1.00" />
<line x1="602.30" y1="585.40" x2="608.30" y2="585.40" stroke="#111" stroke-width="1.00" />
<line x1="602.30" y1="598.90" x2="608.30" y2="598.90" stroke="#111" stroke-width="1.00" />
<line x1="632.70" y1="591.30" x2="632.70" y2="603.40" stroke="#111" stroke-width="1.00" />
<line x1="629.70" y1="591.30" x2="635.70" y2="591.30" stroke="#111" stroke-width="1.00" />
<line x1="629.70" y1="603.40" x2="635.70" y2="603.40" stroke="#111" stroke-width="1.00" />
<line x1="660.10" y1="614.00" x2="660.10" y2="621.90" stroke="#111" stroke-width="1.00" />
<line x1="657.10" y1="614.00" x2="663.10" y2="614.00" stroke="#111" stroke-width="1.00" />
<line x1="657.10" y1="621.90" x2="663.10" y2="621.90" stroke="#111" stroke-width="1.00" />
<line x1="583.10" y1="564.00" x2="583.10" y2="654.70" stroke="#555" stroke-width="0.80" />
<line x1="582.70" y1="654.30" x2="681.60" y2="654.30" stroke="#555" stroke-width="0.80" />
<line x1="579.50" y1="564.40" x2="583.10" y2="564.40" stroke="#555" stroke-width="0.80" />
<text font-size="8.10" transform="translate(576.70 567.17) scale(1.075 1)" text-anchor="end">10</text>
<line x1="579.50" y1="582.40" x2="583.10" y2="582.40" stroke="#555" stroke-width="0.80" />
<text font-size="8.10" transform="translate(576.70 585.17) scale(1.075 1)" text-anchor="end">8</text>
<line x1="579.50" y1="600.40" x2="583.10" y2="600.40" stroke="#555" stroke-width="0.80" />
<text font-size="8.10" transform="translate(576.70 603.17) scale(1.075 1)" text-anchor="end">6</text>
<line x1="579.50" y1="618.30" x2="583.10" y2="618.30" stroke="#555" stroke-width="0.80" />
<text font-size="8.10" transform="translate(576.70 621.07) scale(1.075 1)" text-anchor="end">4</text>
<line x1="579.50" y1="636.30" x2="583.10" y2="636.30" stroke="#555" stroke-width="0.80" />
<text font-size="8.10" transform="translate(576.70 639.07) scale(1.075 1)" text-anchor="end">2</text>
<line x1="579.50" y1="654.30" x2="583.10" y2="654.30" stroke="#555" stroke-width="0.80" />
<text font-size="8.10" transform="translate(576.70 657.07) scale(1.075 1)" text-anchor="end">0</text>
<line x1="605.30" y1="654.30" x2="605.30" y2="657.50" stroke="#555" stroke-width="0.80" />
<text x="605.30" y="666.80" font-size="7.70" text-anchor="middle">Vehicle</text>
<line x1="632.70" y1="654.30" x2="632.70" y2="657.50" stroke="#555" stroke-width="0.80" />
<text x="632.70" y="666.80" font-size="7.70" text-anchor="middle">5</text>
<line x1="660.10" y1="654.30" x2="660.10" y2="657.50" stroke="#555" stroke-width="0.80" />
<text x="660.10" y="666.80" font-size="7.70" text-anchor="middle">10</text>
<circle cx="601.60" cy="569.20" r="1.90" fill="#fff" stroke="#111" stroke-width="0.90"/>
<circle cx="608.90" cy="570.50" r="1.90" fill="#fff" stroke="#111" stroke-width="0.90"/>
<circle cx="605.30" cy="581.60" r="1.90" fill="#fff" stroke="#111" stroke-width="0.90"/>
<circle cx="605.30" cy="594.30" r="1.90" fill="#fff" stroke="#111" stroke-width="0.90"/>
<circle cx="605.30" cy="604.20" r="1.90" fill="#fff" stroke="#111" stroke-width="0.90"/>
<circle cx="601.60" cy="613.10" r="1.90" fill="#fff" stroke="#111" stroke-width="0.90"/>
<circle cx="608.90" cy="611.50" r="1.90" fill="#fff" stroke="#111" stroke-width="0.90"/>
<circle cx="632.60" cy="570.00" r="1.90" fill="#fff" stroke="#111" stroke-width="0.90"/>
<circle cx="632.60" cy="574.50" r="1.90" fill="#fff" stroke="#111" stroke-width="0.90"/>
<circle cx="632.60" cy="592.50" r="1.90" fill="#fff" stroke="#111" stroke-width="0.90"/>
<circle cx="628.80" cy="597.50" r="1.90" fill="#fff" stroke="#111" stroke-width="0.90"/>
<circle cx="636.30" cy="597.50" r="1.90" fill="#fff" stroke="#111" stroke-width="0.90"/>
<circle cx="632.60" cy="608.10" r="1.90" fill="#fff" stroke="#111" stroke-width="0.90"/>
<circle cx="628.80" cy="617.80" r="1.90" fill="#fff" stroke="#111" stroke-width="0.90"/>
<circle cx="636.30" cy="617.00" r="1.90" fill="#fff" stroke="#111" stroke-width="0.90"/>
<circle cx="660.10" cy="592.50" r="1.90" fill="#fff" stroke="#111" stroke-width="0.90"/>
<circle cx="660.10" cy="603.40" r="1.90" fill="#fff" stroke="#111" stroke-width="0.90"/>
<circle cx="656.10" cy="610.10" r="1.90" fill="#fff" stroke="#111" stroke-width="0.90"/>
<circle cx="663.70" cy="612.80" r="1.90" fill="#fff" stroke="#111" stroke-width="0.90"/>
<circle cx="663.70" cy="617.70" r="1.90" fill="#fff" stroke="#111" stroke-width="0.90"/>
<circle cx="656.10" cy="619.80" r="1.90" fill="#fff" stroke="#111" stroke-width="0.90"/>
<circle cx="663.70" cy="625.40" r="1.90" fill="#fff" stroke="#111" stroke-width="0.90"/>
<circle cx="656.10" cy="626.60" r="1.90" fill="#fff" stroke="#111" stroke-width="0.90"/>
<circle cx="660.10" cy="631.30" r="1.90" fill="#fff" stroke="#111" stroke-width="0.90"/>
<circle cx="660.10" cy="635.80" r="1.90" fill="#fff" stroke="#111" stroke-width="0.90"/>
<path d="M603.60 561.10 V544.60 H658.60 V582.10" fill="none" stroke="#8c8c8c" stroke-width="0.80" />
<path d="M631.30 565.30 V561.40 H658.60 V562.00" fill="none" stroke="#8c8c8c" stroke-width="0.80" />
<text x="632.30" y="538.80" font-size="8.45" text-anchor="middle"><tspan font-style="italic">P</tspan> = 0.0117</text>
<text x="632.50" y="556.90" font-size="8.45" text-anchor="middle"><tspan font-style="italic">P</tspan> = 0.0358</text>
<line x1="624.20" y1="669.40" x2="668.80" y2="669.40" stroke="#888" stroke-width="1.00" />
<text x="646.60" y="679.90" font-size="8.70" text-anchor="middle">MDMG</text>
<text x="646.60" y="689.80" font-size="8.70" text-anchor="middle">(mg kg<tspan dy="-3.48" font-size="5.74">−1</tspan><tspan dy="3.48"> d</tspan><tspan dy="-3.48" font-size="5.74">−1</tspan><tspan dy="3.48">)</tspan></text>
<text font-size="8.20" transform="translate(551.30 609.10) rotate(-90) scale(1.100 1)" text-anchor="middle">Liver triglycerides</text>
<text font-size="8.20" transform="translate(561.50 609.10) rotate(-90) scale(1.100 1)" text-anchor="middle">(µg mg<tspan dy="-3.28" font-size="5.41">−1</tspan><tspan dy="3.28"> protein)</tspan></text>
<text x="0.20" y="714.60" font-size="13.00" fill="#000" font-weight="bold" stroke="#000" stroke-width="0.35">l</text>
<rect x="49.80" y="711.20" width="7.30" height="7.30" fill="#ff0000" stroke="#111" stroke-width="0.90" />
<text x="61.60" y="717.90" font-size="9.20">Vehicle</text>
<rect x="103.50" y="711.20" width="7.30" height="7.30" fill="#8faadc" stroke="#111" stroke-width="0.90" />
<text x="115.80" y="717.90" font-size="8.90">5 mg kg<tspan dy="-3.56" font-size="5.87">−1</tspan><tspan dy="3.56"> d</tspan><tspan dy="-3.56" font-size="5.87">−1</tspan></text>
<rect x="181.40" y="711.20" width="7.30" height="7.30" fill="#0000ff" stroke="#111" stroke-width="0.90" />
<text x="193.20" y="717.90" font-size="8.90">10 mg kg<tspan dy="-3.56" font-size="5.87">−1</tspan><tspan dy="3.56"> d</tspan><tspan dy="-3.56" font-size="5.87">−1</tspan></text>
<rect x="50.40" y="812.00" width="11.30" height="26.30" fill="#ff0000" stroke="#111" stroke-width="1.20" />
<line x1="56.05" y1="808.50" x2="56.05" y2="815.50" stroke="#111" stroke-width="1.00" />
<line x1="53.65" y1="808.50" x2="58.45" y2="808.50" stroke="#111" stroke-width="1.00" />
<line x1="53.65" y1="815.50" x2="58.45" y2="815.50" stroke="#111" stroke-width="1.00" />
<rect x="65.55" y="813.50" width="11.30" height="24.80" fill="#8faadc" stroke="#111" stroke-width="1.20" />
<line x1="71.20" y1="810.50" x2="71.20" y2="816.50" stroke="#111" stroke-width="1.00" />
<line x1="68.80" y1="810.50" x2="73.60" y2="810.50" stroke="#111" stroke-width="1.00" />
<line x1="68.80" y1="816.50" x2="73.60" y2="816.50" stroke="#111" stroke-width="1.00" />
<rect x="80.70" y="798.90" width="11.30" height="39.40" fill="#0000ff" stroke="#111" stroke-width="1.20" />
<line x1="86.35" y1="794.40" x2="86.35" y2="803.40" stroke="#111" stroke-width="1.00" />
<line x1="83.95" y1="794.40" x2="88.75" y2="794.40" stroke="#111" stroke-width="1.00" />
<line x1="83.95" y1="803.40" x2="88.75" y2="803.40" stroke="#111" stroke-width="1.00" />
<line x1="70.60" y1="838.30" x2="70.60" y2="842.10" stroke="#555" stroke-width="0.80" />
<text x="70.80" y="853.00" font-size="8.80" text-anchor="middle" font-style="italic">Ppara</text>
<rect x="101.80" y="812.00" width="11.30" height="26.30" fill="#ff0000" stroke="#111" stroke-width="1.20" />
<line x1="107.45" y1="809.00" x2="107.45" y2="815.00" stroke="#111" stroke-width="1.00" />
<line x1="105.05" y1="809.00" x2="109.85" y2="809.00" stroke="#111" stroke-width="1.00" />
<line x1="105.05" y1="815.00" x2="109.85" y2="815.00" stroke="#111" stroke-width="1.00" />
<rect x="116.95" y="812.00" width="11.30" height="26.30" fill="#8faadc" stroke="#111" stroke-width="1.20" />
<line x1="122.60" y1="805.50" x2="122.60" y2="818.50" stroke="#111" stroke-width="1.00" />
<line x1="120.20" y1="805.50" x2="125.00" y2="805.50" stroke="#111" stroke-width="1.00" />
<line x1="120.20" y1="818.50" x2="125.00" y2="818.50" stroke="#111" stroke-width="1.00" />
<rect x="132.10" y="791.30" width="11.30" height="47.00" fill="#0000ff" stroke="#111" stroke-width="1.20" />
<line x1="137.75" y1="786.30" x2="137.75" y2="796.30" stroke="#111" stroke-width="1.00" />
<line x1="135.35" y1="786.30" x2="140.15" y2="786.30" stroke="#111" stroke-width="1.00" />
<line x1="135.35" y1="796.30" x2="140.15" y2="796.30" stroke="#111" stroke-width="1.00" />
<line x1="122.10" y1="838.30" x2="122.10" y2="842.10" stroke="#555" stroke-width="0.80" />
<text x="122.30" y="853.00" font-size="8.80" text-anchor="middle" font-style="italic">Cpt1a</text>
<rect x="152.70" y="811.50" width="11.30" height="26.80" fill="#ff0000" stroke="#111" stroke-width="1.20" />
<line x1="158.35" y1="808.10" x2="158.35" y2="814.90" stroke="#111" stroke-width="1.00" />
<line x1="155.95" y1="808.10" x2="160.75" y2="808.10" stroke="#111" stroke-width="1.00" />
<line x1="155.95" y1="814.90" x2="160.75" y2="814.90" stroke="#111" stroke-width="1.00" />
<rect x="167.85" y="817.40" width="11.30" height="20.90" fill="#8faadc" stroke="#111" stroke-width="1.20" />
<line x1="173.50" y1="813.40" x2="173.50" y2="821.40" stroke="#111" stroke-width="1.00" />
<line x1="171.10" y1="813.40" x2="175.90" y2="813.40" stroke="#111" stroke-width="1.00" />
<line x1="171.10" y1="821.40" x2="175.90" y2="821.40" stroke="#111" stroke-width="1.00" />
<rect x="183.00" y="801.10" width="11.30" height="37.20" fill="#0000ff" stroke="#111" stroke-width="1.20" />
<line x1="188.65" y1="797.60" x2="188.65" y2="804.60" stroke="#111" stroke-width="1.00" />
<line x1="186.25" y1="797.60" x2="191.05" y2="797.60" stroke="#111" stroke-width="1.00" />
<line x1="186.25" y1="804.60" x2="191.05" y2="804.60" stroke="#111" stroke-width="1.00" />
<line x1="173.10" y1="838.30" x2="173.10" y2="842.10" stroke="#555" stroke-width="0.80" />
<text x="173.30" y="853.00" font-size="8.80" text-anchor="middle" font-style="italic">Acadm</text>
<rect x="203.90" y="811.50" width="11.30" height="26.80" fill="#ff0000" stroke="#111" stroke-width="1.20" />
<line x1="209.55" y1="806.10" x2="209.55" y2="816.90" stroke="#111" stroke-width="1.00" />
<line x1="207.15" y1="806.10" x2="211.95" y2="806.10" stroke="#111" stroke-width="1.00" />
<line x1="207.15" y1="816.90" x2="211.95" y2="816.90" stroke="#111" stroke-width="1.00" />
<rect x="219.05" y="816.50" width="11.30" height="21.80" fill="#8faadc" stroke="#111" stroke-width="1.20" />
<line x1="224.70" y1="812.50" x2="224.70" y2="820.50" stroke="#111" stroke-width="1.00" />
<line x1="222.30" y1="812.50" x2="227.10" y2="812.50" stroke="#111" stroke-width="1.00" />
<line x1="222.30" y1="820.50" x2="227.10" y2="820.50" stroke="#111" stroke-width="1.00" />
<rect x="234.20" y="792.50" width="11.30" height="45.80" fill="#0000ff" stroke="#111" stroke-width="1.20" />
<line x1="239.85" y1="789.50" x2="239.85" y2="795.50" stroke="#111" stroke-width="1.00" />
<line x1="237.45" y1="789.50" x2="242.25" y2="789.50" stroke="#111" stroke-width="1.00" />
<line x1="237.45" y1="795.50" x2="242.25" y2="795.50" stroke="#111" stroke-width="1.00" />
<line x1="224.60" y1="838.30" x2="224.60" y2="842.10" stroke="#555" stroke-width="0.80" />
<text x="224.80" y="853.00" font-size="8.80" text-anchor="middle" font-style="italic">Acadl</text>
<rect x="255.50" y="811.50" width="11.30" height="26.80" fill="#ff0000" stroke="#111" stroke-width="1.20" />
<line x1="261.15" y1="808.10" x2="261.15" y2="814.90" stroke="#111" stroke-width="1.00" />
<line x1="258.75" y1="808.10" x2="263.55" y2="808.10" stroke="#111" stroke-width="1.00" />
<line x1="258.75" y1="814.90" x2="263.55" y2="814.90" stroke="#111" stroke-width="1.00" />
<rect x="270.65" y="815.70" width="11.30" height="22.60" fill="#8faadc" stroke="#111" stroke-width="1.20" />
<line x1="276.30" y1="811.50" x2="276.30" y2="819.90" stroke="#111" stroke-width="1.00" />
<line x1="273.90" y1="811.50" x2="278.70" y2="811.50" stroke="#111" stroke-width="1.00" />
<line x1="273.90" y1="819.90" x2="278.70" y2="819.90" stroke="#111" stroke-width="1.00" />
<rect x="285.80" y="789.20" width="11.30" height="49.10" fill="#0000ff" stroke="#111" stroke-width="1.20" />
<line x1="291.45" y1="783.50" x2="291.45" y2="794.90" stroke="#111" stroke-width="1.00" />
<line x1="289.05" y1="783.50" x2="293.85" y2="783.50" stroke="#111" stroke-width="1.00" />
<line x1="289.05" y1="794.90" x2="293.85" y2="794.90" stroke="#111" stroke-width="1.00" />
<line x1="275.60" y1="838.30" x2="275.60" y2="842.10" stroke="#555" stroke-width="0.80" />
<text x="275.80" y="853.00" font-size="8.80" text-anchor="middle" font-style="italic">Acadvl</text>
<rect x="306.80" y="812.30" width="11.30" height="26.00" fill="#ff0000" stroke="#111" stroke-width="1.20" />
<line x1="312.45" y1="810.80" x2="312.45" y2="813.80" stroke="#111" stroke-width="1.00" />
<line x1="310.05" y1="810.80" x2="314.85" y2="810.80" stroke="#111" stroke-width="1.00" />
<line x1="310.05" y1="813.80" x2="314.85" y2="813.80" stroke="#111" stroke-width="1.00" />
<rect x="321.95" y="819.00" width="11.30" height="19.30" fill="#8faadc" stroke="#111" stroke-width="1.20" />
<line x1="327.60" y1="815.70" x2="327.60" y2="822.30" stroke="#111" stroke-width="1.00" />
<line x1="325.20" y1="815.70" x2="330.00" y2="815.70" stroke="#111" stroke-width="1.00" />
<line x1="325.20" y1="822.30" x2="330.00" y2="822.30" stroke="#111" stroke-width="1.00" />
<rect x="337.10" y="812.00" width="11.30" height="26.30" fill="#0000ff" stroke="#111" stroke-width="1.20" />
<line x1="342.75" y1="810.00" x2="342.75" y2="814.00" stroke="#111" stroke-width="1.00" />
<line x1="340.35" y1="810.00" x2="345.15" y2="810.00" stroke="#111" stroke-width="1.00" />
<line x1="340.35" y1="814.00" x2="345.15" y2="814.00" stroke="#111" stroke-width="1.00" />
<line x1="327.10" y1="838.30" x2="327.10" y2="842.10" stroke="#555" stroke-width="0.80" />
<text x="327.30" y="853.00" font-size="8.80" text-anchor="middle" font-style="italic">Acox1</text>
<rect x="358.00" y="811.50" width="11.30" height="26.80" fill="#ff0000" stroke="#111" stroke-width="1.20" />
<line x1="363.65" y1="806.10" x2="363.65" y2="816.90" stroke="#111" stroke-width="1.00" />
<line x1="361.25" y1="806.10" x2="366.05" y2="806.10" stroke="#111" stroke-width="1.00" />
<line x1="361.25" y1="816.90" x2="366.05" y2="816.90" stroke="#111" stroke-width="1.00" />
<rect x="373.15" y="816.90" width="11.30" height="21.40" fill="#8faadc" stroke="#111" stroke-width="1.20" />
<line x1="378.80" y1="811.90" x2="378.80" y2="821.90" stroke="#111" stroke-width="1.00" />
<line x1="376.40" y1="811.90" x2="381.20" y2="811.90" stroke="#111" stroke-width="1.00" />
<line x1="376.40" y1="821.90" x2="381.20" y2="821.90" stroke="#111" stroke-width="1.00" />
<rect x="388.30" y="791.30" width="11.30" height="47.00" fill="#0000ff" stroke="#111" stroke-width="1.20" />
<line x1="393.95" y1="788.80" x2="393.95" y2="793.80" stroke="#111" stroke-width="1.00" />
<line x1="391.55" y1="788.80" x2="396.35" y2="788.80" stroke="#111" stroke-width="1.00" />
<line x1="391.55" y1="793.80" x2="396.35" y2="793.80" stroke="#111" stroke-width="1.00" />
<line x1="378.30" y1="838.30" x2="378.30" y2="842.10" stroke="#555" stroke-width="0.80" />
<text x="378.50" y="853.00" font-size="8.80" text-anchor="middle" font-style="italic">Hadha</text>
<rect x="409.30" y="811.50" width="11.30" height="26.80" fill="#ff0000" stroke="#111" stroke-width="1.20" />
<line x1="414.95" y1="807.00" x2="414.95" y2="816.00" stroke="#111" stroke-width="1.00" />
<line x1="412.55" y1="807.00" x2="417.35" y2="807.00" stroke="#111" stroke-width="1.00" />
<line x1="412.55" y1="816.00" x2="417.35" y2="816.00" stroke="#111" stroke-width="1.00" />
<rect x="424.45" y="816.50" width="11.30" height="21.80" fill="#8faadc" stroke="#111" stroke-width="1.20" />
<line x1="430.10" y1="811.50" x2="430.10" y2="821.50" stroke="#111" stroke-width="1.00" />
<line x1="427.70" y1="811.50" x2="432.50" y2="811.50" stroke="#111" stroke-width="1.00" />
<line x1="427.70" y1="821.50" x2="432.50" y2="821.50" stroke="#111" stroke-width="1.00" />
<rect x="439.60" y="797.20" width="11.30" height="41.10" fill="#0000ff" stroke="#111" stroke-width="1.20" />
<line x1="445.25" y1="793.70" x2="445.25" y2="800.70" stroke="#111" stroke-width="1.00" />
<line x1="442.85" y1="793.70" x2="447.65" y2="793.70" stroke="#111" stroke-width="1.00" />
<line x1="442.85" y1="800.70" x2="447.65" y2="800.70" stroke="#111" stroke-width="1.00" />
<line x1="429.60" y1="838.30" x2="429.60" y2="842.10" stroke="#555" stroke-width="0.80" />
<text x="429.80" y="853.00" font-size="8.80" text-anchor="middle" font-style="italic">Hadhb</text>
<rect x="460.50" y="811.50" width="11.30" height="26.80" fill="#ff0000" stroke="#111" stroke-width="1.20" />
<line x1="466.15" y1="808.00" x2="466.15" y2="815.00" stroke="#111" stroke-width="1.00" />
<line x1="463.75" y1="808.00" x2="468.55" y2="808.00" stroke="#111" stroke-width="1.00" />
<line x1="463.75" y1="815.00" x2="468.55" y2="815.00" stroke="#111" stroke-width="1.00" />
<rect x="475.65" y="810.70" width="11.30" height="27.60" fill="#8faadc" stroke="#111" stroke-width="1.20" />
<line x1="481.30" y1="806.70" x2="481.30" y2="814.70" stroke="#111" stroke-width="1.00" />
<line x1="478.90" y1="806.70" x2="483.70" y2="806.70" stroke="#111" stroke-width="1.00" />
<line x1="478.90" y1="814.70" x2="483.70" y2="814.70" stroke="#111" stroke-width="1.00" />
<rect x="490.80" y="788.00" width="11.30" height="50.30" fill="#0000ff" stroke="#111" stroke-width="1.20" />
<line x1="496.45" y1="782.00" x2="496.45" y2="794.00" stroke="#111" stroke-width="1.00" />
<line x1="494.05" y1="782.00" x2="498.85" y2="782.00" stroke="#111" stroke-width="1.00" />
<line x1="494.05" y1="794.00" x2="498.85" y2="794.00" stroke="#111" stroke-width="1.00" />
<line x1="480.40" y1="838.30" x2="480.40" y2="842.10" stroke="#555" stroke-width="0.80" />
<text x="480.60" y="853.00" font-size="8.80" text-anchor="middle" font-style="italic">Acaa2</text>
<rect x="511.70" y="811.50" width="11.30" height="26.80" fill="#ff0000" stroke="#111" stroke-width="1.20" />
<line x1="517.35" y1="807.00" x2="517.35" y2="816.00" stroke="#111" stroke-width="1.00" />
<line x1="514.95" y1="807.00" x2="519.75" y2="807.00" stroke="#111" stroke-width="1.00" />
<line x1="514.95" y1="816.00" x2="519.75" y2="816.00" stroke="#111" stroke-width="1.00" />
<rect x="526.85" y="815.40" width="11.30" height="22.90" fill="#8faadc" stroke="#111" stroke-width="1.20" />
<line x1="532.50" y1="812.90" x2="532.50" y2="817.90" stroke="#111" stroke-width="1.00" />
<line x1="530.10" y1="812.90" x2="534.90" y2="812.90" stroke="#111" stroke-width="1.00" />
<line x1="530.10" y1="817.90" x2="534.90" y2="817.90" stroke="#111" stroke-width="1.00" />
<rect x="542.00" y="788.50" width="11.30" height="49.80" fill="#0000ff" stroke="#111" stroke-width="1.20" />
<line x1="547.65" y1="784.50" x2="547.65" y2="792.50" stroke="#111" stroke-width="1.00" />
<line x1="545.25" y1="784.50" x2="550.05" y2="784.50" stroke="#111" stroke-width="1.00" />
<line x1="545.25" y1="792.50" x2="550.05" y2="792.50" stroke="#111" stroke-width="1.00" />
<line x1="532.00" y1="838.30" x2="532.00" y2="842.10" stroke="#555" stroke-width="0.80" />
<text x="532.20" y="853.00" font-size="8.80" text-anchor="middle" font-style="italic">Eci1</text>
<rect x="563.00" y="811.50" width="11.30" height="26.80" fill="#ff0000" stroke="#111" stroke-width="1.20" />
<line x1="568.65" y1="807.00" x2="568.65" y2="816.00" stroke="#111" stroke-width="1.00" />
<line x1="566.25" y1="807.00" x2="571.05" y2="807.00" stroke="#111" stroke-width="1.00" />
<line x1="566.25" y1="816.00" x2="571.05" y2="816.00" stroke="#111" stroke-width="1.00" />
<rect x="578.15" y="812.00" width="11.30" height="26.30" fill="#8faadc" stroke="#111" stroke-width="1.20" />
<line x1="583.80" y1="808.00" x2="583.80" y2="816.00" stroke="#111" stroke-width="1.00" />
<line x1="581.40" y1="808.00" x2="586.20" y2="808.00" stroke="#111" stroke-width="1.00" />
<line x1="581.40" y1="816.00" x2="586.20" y2="816.00" stroke="#111" stroke-width="1.00" />
<rect x="593.30" y="803.40" width="11.30" height="34.90" fill="#0000ff" stroke="#111" stroke-width="1.20" />
<line x1="598.95" y1="798.90" x2="598.95" y2="807.90" stroke="#111" stroke-width="1.00" />
<line x1="596.55" y1="798.90" x2="601.35" y2="798.90" stroke="#111" stroke-width="1.00" />
<line x1="596.55" y1="807.90" x2="601.35" y2="807.90" stroke="#111" stroke-width="1.00" />
<line x1="583.30" y1="838.30" x2="583.30" y2="842.10" stroke="#555" stroke-width="0.80" />
<text x="583.50" y="853.00" font-size="8.80" text-anchor="middle" font-style="italic">Eci2</text>
<rect x="614.20" y="811.50" width="11.30" height="26.80" fill="#ff0000" stroke="#111" stroke-width="1.20" />
<line x1="619.85" y1="806.50" x2="619.85" y2="816.50" stroke="#111" stroke-width="1.00" />
<line x1="617.45" y1="806.50" x2="622.25" y2="806.50" stroke="#111" stroke-width="1.00" />
<line x1="617.45" y1="816.50" x2="622.25" y2="816.50" stroke="#111" stroke-width="1.00" />
<rect x="629.35" y="816.20" width="11.30" height="22.10" fill="#8faadc" stroke="#111" stroke-width="1.20" />
<line x1="635.00" y1="811.20" x2="635.00" y2="821.20" stroke="#111" stroke-width="1.00" />
<line x1="632.60" y1="811.20" x2="637.40" y2="811.20" stroke="#111" stroke-width="1.00" />
<line x1="632.60" y1="821.20" x2="637.40" y2="821.20" stroke="#111" stroke-width="1.00" />
<rect x="644.50" y="793.00" width="11.30" height="45.30" fill="#0000ff" stroke="#111" stroke-width="1.20" />
<line x1="650.15" y1="788.00" x2="650.15" y2="798.00" stroke="#111" stroke-width="1.00" />
<line x1="647.75" y1="788.00" x2="652.55" y2="788.00" stroke="#111" stroke-width="1.00" />
<line x1="647.75" y1="798.00" x2="652.55" y2="798.00" stroke="#111" stroke-width="1.00" />
<line x1="634.50" y1="838.30" x2="634.50" y2="842.10" stroke="#555" stroke-width="0.80" />
<text x="634.70" y="853.00" font-size="8.80" text-anchor="middle" font-style="italic">Acsl1</text>
<line x1="43.70" y1="729.20" x2="43.70" y2="838.70" stroke="#555" stroke-width="0.80" />
<line x1="43.30" y1="838.30" x2="662.80" y2="838.30" stroke="#555" stroke-width="0.80" />
<line x1="39.30" y1="729.60" x2="43.70" y2="729.60" stroke="#555" stroke-width="0.80" />
<text font-size="8.20" transform="translate(35.80 732.50) scale(1.060 1)" text-anchor="end">4</text>
<line x1="39.30" y1="756.60" x2="43.70" y2="756.60" stroke="#555" stroke-width="0.80" />
<text font-size="8.20" transform="translate(35.80 759.50) scale(1.060 1)" text-anchor="end">3</text>
<line x1="39.30" y1="783.80" x2="43.70" y2="783.80" stroke="#555" stroke-width="0.80" />
<text font-size="8.20" transform="translate(35.80 786.70) scale(1.060 1)" text-anchor="end">2</text>
<line x1="39.30" y1="811.10" x2="43.70" y2="811.10" stroke="#555" stroke-width="0.80" />
<text font-size="8.20" transform="translate(35.80 814.00) scale(1.060 1)" text-anchor="end">1</text>
<line x1="39.30" y1="838.30" x2="43.70" y2="838.30" stroke="#555" stroke-width="0.80" />
<text font-size="8.20" transform="translate(35.80 841.20) scale(1.060 1)" text-anchor="end">0</text>
<text font-size="8.50" transform="translate(23.00 783.50) rotate(-90) scale(1.055 1)" text-anchor="middle">Fold gene expression</text>
<path d="M56.50 788.80 V765.00 H86.20 V770.40" fill="none" stroke="#8c8c8c" stroke-width="0.80" />
<path d="M108.00 788.00 V735.20 H137.70 V753.60" fill="none" stroke="#8c8c8c" stroke-width="0.80" />
<path d="M121.50 779.10 V747.70 H137.70 V748.50" fill="none" stroke="#8c8c8c" stroke-width="0.80" />
<path d="M173.60 794.70 V770.90 H189.20 V776.20" fill="none" stroke="#8c8c8c" stroke-width="0.80" />
<path d="M209.70 781.30 V741.50 H239.90 V759.40" fill="none" stroke="#8c8c8c" stroke-width="0.80" />
<path d="M225.60 794.70 V755.30 H239.90 V756.00" fill="none" stroke="#8c8c8c" stroke-width="0.80" />
<path d="M260.90 781.30 V741.80 H290.70 V759.40" fill="none" stroke="#8c8c8c" stroke-width="0.80" />
<path d="M276.40 781.30 V755.30 H290.70 V756.00" fill="none" stroke="#8c8c8c" stroke-width="0.80" />
<path d="M364.30 784.60 V745.50 H393.60 V763.30" fill="none" stroke="#8c8c8c" stroke-width="0.80" />
<path d="M379.40 794.70 V758.90 H393.60 V759.50" fill="none" stroke="#8c8c8c" stroke-width="0.80" />
<path d="M415.50 789.70 V750.70 H445.70 V768.70" fill="none" stroke="#8c8c8c" stroke-width="0.80" />
<path d="M430.60 779.10 V764.00 H445.70 V764.60" fill="none" stroke="#8c8c8c" stroke-width="0.80" />
<path d="M466.20 782.60 V722.40 H495.60 V740.20" fill="none" stroke="#8c8c8c" stroke-width="0.80" />
<path d="M481.40 776.90 V736.10 H495.60 V736.80" fill="none" stroke="#8c8c8c" stroke-width="0.80" />
<path d="M517.40 789.60 V724.30 H547.20 V742.10" fill="none" stroke="#8c8c8c" stroke-width="0.80" />
<path d="M532.40 798.90 V738.00 H547.20 V738.60" fill="none" stroke="#8c8c8c" stroke-width="0.80" />
<path d="M634.40 784.60 V749.70 H650.60 V755.60" fill="none" stroke="#8c8c8c" stroke-width="0.80" />
<text x="72.00" y="762.30" font-size="8.90" text-anchor="middle"><tspan font-style="italic">P</tspan> = 0.0618</text>
<text x="123.10" y="731.80" font-size="8.90" text-anchor="middle"><tspan font-style="italic">P</tspan> = 0.0400</text>
<rect x="89.20" y="739.10" width="46.00" height="8.20" fill="#fff" stroke="none" stroke-width="0.80" />
<text x="112.20" y="746.00" font-size="8.90" text-anchor="middle"><tspan font-style="italic">P</tspan> = 0.0267</text>
<text x="178.60" y="767.30" font-size="8.90" text-anchor="middle"><tspan font-style="italic">P</tspan> = 0.0208</text>
<text x="224.80" y="738.50" font-size="8.90" text-anchor="middle"><tspan font-style="italic">P</tspan> = 0.0428</text>
<rect x="190.50" y="745.80" width="46.00" height="8.20" fill="#fff" stroke="none" stroke-width="0.80" />
<text x="213.50" y="752.70" font-size="8.90" text-anchor="middle"><tspan font-style="italic">P</tspan> = 0.0069</text>
<text x="276.00" y="738.50" font-size="8.90" text-anchor="middle"><tspan font-style="italic">P</tspan> = 0.0134</text>
<rect x="242.10" y="745.80" width="46.00" height="8.20" fill="#fff" stroke="none" stroke-width="0.80" />
<text x="265.10" y="752.70" font-size="8.90" text-anchor="middle"><tspan font-style="italic">P</tspan> = 0.0027</text>
<text x="327.60" y="789.70" font-size="8.40" text-anchor="middle">NS</text>
<text x="380.40" y="740.60" font-size="8.90" text-anchor="middle"><tspan font-style="italic">P</tspan> = 0.0252</text>
<rect x="346.30" y="749.20" width="46.00" height="8.20" fill="#fff" stroke="none" stroke-width="0.80" />
<text x="369.30" y="756.10" font-size="8.90" text-anchor="middle"><tspan font-style="italic">P</tspan> = 0.0009</text>
<text x="427.60" y="746.40" font-size="8.90" text-anchor="middle"><tspan font-style="italic">P</tspan> = 0.0401</text>
<rect x="397.00" y="754.20" width="46.00" height="8.20" fill="#fff" stroke="none" stroke-width="0.80" />
<text x="420.00" y="761.10" font-size="8.90" text-anchor="middle"><tspan font-style="italic">P</tspan> = 0.0049</text>
<text x="479.50" y="719.00" font-size="8.90" text-anchor="middle"><tspan font-style="italic">P</tspan> = 0.0166</text>
<rect x="448.00" y="726.30" width="46.00" height="8.20" fill="#fff" stroke="none" stroke-width="0.80" />
<text x="471.00" y="733.20" font-size="8.90" text-anchor="middle"><tspan font-style="italic">P</tspan> = 0.0159</text>
<text x="532.00" y="719.00" font-size="8.90" text-anchor="middle"><tspan font-style="italic">P</tspan> = 0.0232</text>
<rect x="498.90" y="728.60" width="46.00" height="8.20" fill="#fff" stroke="none" stroke-width="0.80" />
<text x="521.90" y="735.50" font-size="8.90" text-anchor="middle"><tspan font-style="italic">P</tspan> = 0.0034</text>
<text x="583.80" y="778.80" font-size="8.40" text-anchor="middle">NS</text>
<text x="638.30" y="746.40" font-size="8.90" text-anchor="middle"><tspan font-style="italic">P</tspan> = 0.0218</text>
<circle cx="52.10" cy="813.60" r="2.20" fill="#000" stroke="#000" stroke-width="1.00"/>
<circle cx="52.10" cy="820.40" r="2.20" fill="#000" stroke="#000" stroke-width="1.00"/>
<circle cx="122.30" cy="834.70" r="2.20" fill="#000" stroke="#000" stroke-width="1.00"/>
<circle cx="323.60" cy="833.30" r="2.20" fill="#000" stroke="#000" stroke-width="1.00"/>
<circle cx="59.80" cy="798.90" r="2.10" fill="#fff" stroke="#111" stroke-width="1.20"/>
<circle cx="56.00" cy="802.30" r="2.10" fill="#fff" stroke="#111" stroke-width="1.20"/>
<circle cx="59.80" cy="809.80" r="2.10" fill="#fff" stroke="#111" stroke-width="1.20"/>
<circle cx="56.00" cy="815.40" r="2.10" fill="#fff" stroke="#111" stroke-width="1.20"/>
<circle cx="59.80" cy="816.90" r="2.10" fill="#fff" stroke="#111" stroke-width="1.20"/>
<circle cx="71.10" cy="786.80" r="2.10" fill="#fff" stroke="#111" stroke-width="1.20"/>
<circle cx="69.40" cy="807.30" r="2.10" fill="#fff" stroke="#111" stroke-width="1.20"/>
<circle cx="73.30" cy="807.30" r="2.10" fill="#fff" stroke="#111" stroke-width="1.20"/>
<circle cx="67.20" cy="812.00" r="2.10" fill="#fff" stroke="#111" stroke-width="1.20"/>
<circle cx="71.10" cy="816.50" r="2.10" fill="#fff" stroke="#111" stroke-width="1.20"/>
<circle cx="71.10" cy="825.30" r="2.10" fill="#fff" stroke="#111" stroke-width="1.20"/>
<circle cx="67.20" cy="826.90" r="2.10" fill="#fff" stroke="#111" stroke-width="1.20"/>
<circle cx="74.80" cy="825.30" r="2.10" fill="#fff" stroke="#111" stroke-width="1.20"/>
<circle cx="86.20" cy="775.40" r="2.10" fill="#fff" stroke="#111" stroke-width="1.20"/>
<circle cx="84.50" cy="784.10" r="2.10" fill="#fff" stroke="#111" stroke-width="1.20"/>
<circle cx="88.40" cy="784.10" r="2.10" fill="#fff" stroke="#111" stroke-width="1.20"/>
<circle cx="86.20" cy="793.40" r="2.10" fill="#fff" stroke="#111" stroke-width="1.20"/>
<circle cx="82.80" cy="802.30" r="2.10" fill="#fff" stroke="#111" stroke-width="1.20"/>
<circle cx="90.10" cy="802.30" r="2.10" fill="#fff" stroke="#111" stroke-width="1.20"/>
<circle cx="86.20" cy="803.90" r="2.10" fill="#fff" stroke="#111" stroke-width="1.20"/>
<circle cx="82.80" cy="807.80" r="2.10" fill="#fff" stroke="#111" stroke-width="1.20"/>
<circle cx="90.10" cy="807.80" r="2.10" fill="#fff" stroke="#111" stroke-width="1.20"/>
<circle cx="86.20" cy="810.10" r="2.10" fill="#fff" stroke="#111" stroke-width="1.20"/>
<circle cx="86.20" cy="819.40" r="2.10" fill="#fff" stroke="#111" stroke-width="1.20"/>
<circle cx="107.50" cy="796.90" r="2.10" fill="#fff" stroke="#111" stroke-width="1.20"/>
<circle cx="111.00" cy="803.90" r="2.10" fill="#fff" stroke="#111" stroke-width="1.20"/>
<circle cx="103.80" cy="807.30" r="2.10" fill="#fff" stroke="#111" stroke-width="1.20"/>
<circle cx="107.50" cy="812.80" r="2.10" fill="#fff" stroke="#111" stroke-width="1.20"/>
<circle cx="103.80" cy="814.00" r="2.10" fill="#fff" stroke="#111" stroke-width="1.20"/>
<circle cx="111.00" cy="812.80" r="2.10" fill="#fff" stroke="#111" stroke-width="1.20"/>
<circle cx="111.00" cy="820.20" r="2.10" fill="#fff" stroke="#111" stroke-width="1.20"/>
<circle cx="103.80" cy="822.10" r="2.10" fill="#fff" stroke="#111" stroke-width="1.20"/>
<circle cx="122.30" cy="784.60" r="2.10" fill="#fff" stroke="#111" stroke-width="1.20"/>
<circle cx="122.30" cy="793.00" r="2.10" fill="#fff" stroke="#111" stroke-width="1.20"/>
<circle cx="126.20" cy="803.10" r="2.10" fill="#fff" stroke="#111" stroke-width="1.20"/>
<circle cx="118.40" cy="804.80" r="2.10" fill="#fff" stroke="#111" stroke-width="1.20"/>
<circle cx="126.20" cy="821.60" r="2.10" fill="#fff" stroke="#111" stroke-width="1.20"/>
<circle cx="118.40" cy="823.20" r="2.10" fill="#fff" stroke="#111" stroke-width="1.20"/>
<circle cx="122.30" cy="828.60" r="2.10" fill="#fff" stroke="#111" stroke-width="1.20"/>
<circle cx="137.40" cy="759.10" r="2.10" fill="#fff" stroke="#111" stroke-width="1.20"/>
<circle cx="137.40" cy="776.20" r="2.10" fill="#fff" stroke="#111" stroke-width="1.20"/>
<circle cx="133.70" cy="783.50" r="2.10" fill="#fff" stroke="#111" stroke-width="1.20"/>
<circle cx="141.30" cy="783.50" r="2.10" fill="#fff" stroke="#111" stroke-width="1.20"/>
<circle cx="137.40" cy="787.10" r="2.10" fill="#fff" stroke="#111" stroke-width="1.20"/>
<circle cx="137.40" cy="793.90" r="2.10" fill="#fff" stroke="#111" stroke-width="1.20"/>
<circle cx="133.70" cy="802.30" r="2.10" fill="#fff" stroke="#111" stroke-width="1.20"/>
<circle cx="141.30" cy="805.60" r="2.10" fill="#fff" stroke="#111" stroke-width="1.20"/>
<circle cx="137.40" cy="806.50" r="2.10" fill="#fff" stroke="#111" stroke-width="1.20"/>
<circle cx="137.40" cy="814.80" r="2.10" fill="#fff" stroke="#111" stroke-width="1.20"/>
<circle cx="158.50" cy="795.50" r="2.10" fill="#fff" stroke="#111" stroke-width="1.20"/>
<circle cx="158.50" cy="800.60" r="2.10" fill="#fff" stroke="#111" stroke-width="1.20"/>
<circle cx="158.50" cy="811.50" r="2.10" fill="#fff" stroke="#111" stroke-width="1.20"/>
<circle cx="154.80" cy="815.00" r="2.10" fill="#fff" stroke="#111" stroke-width="1.20"/>
<circle cx="162.20" cy="815.50" r="2.10" fill="#fff" stroke="#111" stroke-width="1.20"/>
<circle cx="154.80" cy="819.00" r="2.10" fill="#fff" stroke="#111" stroke-width="1.20"/>
<circle cx="158.50" cy="818.50" r="2.10" fill="#fff" stroke="#111" stroke-width="1.20"/>
<circle cx="162.20" cy="817.00" r="2.10" fill="#fff" stroke="#111" stroke-width="1.20"/>
<circle cx="170.20" cy="804.80" r="2.10" fill="#fff" stroke="#111" stroke-width="1.20"/>
<circle cx="177.30" cy="809.00" r="2.10" fill="#fff" stroke="#111" stroke-width="1.20"/>
<circle cx="170.20" cy="811.50" r="2.10" fill="#fff" stroke="#111" stroke-width="1.20"/>
<circle cx="174.40" cy="811.50" r="2.10" fill="#fff" stroke="#111" stroke-width="1.20"/>
<circle cx="170.20" cy="826.60" r="2.10" fill="#fff" stroke="#111" stroke-width="1.20"/>
<circle cx="174.40" cy="830.00" r="2.10" fill="#fff" stroke="#111" stroke-width="1.20"/>
<circle cx="171.90" cy="831.60" r="2.10" fill="#fff" stroke="#111" stroke-width="1.20"/>
<circle cx="185.00" cy="778.80" r="2.10" fill="#fff" stroke="#111" stroke-width="1.20"/>
<circle cx="192.40" cy="783.00" r="2.10" fill="#fff" stroke="#111" stroke-width="1.20"/>
<circle cx="185.00" cy="789.70" r="2.10" fill="#fff" stroke="#111" stroke-width="1.20"/>
<circle cx="192.40" cy="794.70" r="2.10" fill="#fff" stroke="#111" stroke-width="1.20"/>
<circle cx="185.00" cy="796.90" r="2.10" fill="#fff" stroke="#111" stroke-width="1.20"/>
<circle cx="188.70" cy="803.10" r="2.10" fill="#fff" stroke="#111" stroke-width="1.20"/>
<circle cx="185.00" cy="810.70" r="2.10" fill="#fff" stroke="#111" stroke-width="1.20"/>
<circle cx="192.40" cy="809.00" r="2.10" fill="#fff" stroke="#111" stroke-width="1.20"/>
<circle cx="192.40" cy="815.40" r="2.10" fill="#fff" stroke="#111" stroke-width="1.20"/>
<circle cx="188.70" cy="822.70" r="2.10" fill="#fff" stroke="#111" stroke-width="1.20"/>
<circle cx="209.70" cy="788.00" r="2.10" fill="#fff" stroke="#111" stroke-width="1.20"/>
<circle cx="209.70" cy="800.60" r="2.10" fill="#fff" stroke="#111" stroke-width="1.20"/>
<circle cx="206.00" cy="815.70" r="2.10" fill="#fff" stroke="#111" stroke-width="1.20"/>
<circle cx="209.70" cy="815.70" r="2.10" fill="#fff" stroke="#111" stroke-width="1.20"/>
<circle cx="213.40" cy="817.00" r="2.10" fill="#fff" stroke="#111" stroke-width="1.20"/>
<circle cx="209.70" cy="819.00" r="2.10" fill="#fff" stroke="#111" stroke-width="1.20"/>
<circle cx="206.00" cy="821.90" r="2.10" fill="#fff" stroke="#111" stroke-width="1.20"/>
<circle cx="221.40" cy="802.30" r="2.10" fill="#fff" stroke="#111" stroke-width="1.20"/>
<circle cx="228.50" cy="802.30" r="2.10" fill="#fff" stroke="#111" stroke-width="1.20"/>
<circle cx="221.40" cy="807.30" r="2.10" fill="#fff" stroke="#111" stroke-width="1.20"/>
<circle cx="225.30" cy="814.00" r="2.10" fill="#fff" stroke="#111" stroke-width="1.20"/>
<circle cx="225.30" cy="819.90" r="2.10" fill="#fff" stroke="#111" stroke-width="1.20"/>
<circle cx="221.40" cy="825.80" r="2.10" fill="#fff" stroke="#111" stroke-width="1.20"/>
<circle cx="228.50" cy="826.60" r="2.10" fill="#fff" stroke="#111" stroke-width="1.20"/>
<circle cx="221.40" cy="831.60" r="2.10" fill="#fff" stroke="#111" stroke-width="1.20"/>
<circle cx="238.20" cy="768.20" r="2.10" fill="#fff" stroke="#111" stroke-width="1.20"/>
<circle cx="241.90" cy="767.00" r="2.10" fill="#fff" stroke="#111" stroke-width="1.20"/>
<circle cx="236.50" cy="780.40" r="2.10" fill="#fff" stroke="#111" stroke-width="1.20"/>
<circle cx="241.90" cy="780.40" r="2.10" fill="#fff" stroke="#111" stroke-width="1.20"/>
<circle cx="240.20" cy="787.10" r="2.10" fill="#fff" stroke="#111" stroke-width="1.20"/>
<circle cx="236.50" cy="802.30" r="2.10" fill="#fff" stroke="#111" stroke-width="1.20"/>
<circle cx="240.20" cy="801.40" r="2.10" fill="#fff" stroke="#111" stroke-width="1.20"/>
<circle cx="243.70" cy="803.60" r="2.10" fill="#fff" stroke="#111" stroke-width="1.20"/>
<circle cx="240.20" cy="807.30" r="2.10" fill="#fff" stroke="#111" stroke-width="1.20"/>
<circle cx="240.20" cy="821.60" r="2.10" fill="#fff" stroke="#111" stroke-width="1.20"/>
<circle cx="261.30" cy="798.10" r="2.10" fill="#fff" stroke="#111" stroke-width="1.20"/>
<circle cx="264.80" cy="803.90" r="2.10" fill="#fff" stroke="#111" stroke-width="1.20"/>
<circle cx="257.60" cy="808.10" r="2.10" fill="#fff" stroke="#111" stroke-width="1.20"/>
<circle cx="264.80" cy="809.80" r="2.10" fill="#fff" stroke="#111" stroke-width="1.20"/>
<circle cx="261.30" cy="810.50" r="2.10" fill="#fff" stroke="#111" stroke-width="1.20"/>
<circle cx="261.30" cy="816.00" r="2.10" fill="#fff" stroke="#111" stroke-width="1.20"/>
<circle cx="257.60" cy="820.70" r="2.10" fill="#fff" stroke="#111" stroke-width="1.20"/>
<circle cx="264.80" cy="820.40" r="2.10" fill="#fff" stroke="#111" stroke-width="1.20"/>
<circle cx="276.10" cy="791.30" r="2.10" fill="#fff" stroke="#111" stroke-width="1.20"/>
<circle cx="276.10" cy="807.30" r="2.10" fill="#fff" stroke="#111" stroke-width="1.20"/>
<circle cx="272.40" cy="813.50" r="2.10" fill="#fff" stroke="#111" stroke-width="1.20"/>
<circle cx="276.10" cy="816.50" r="2.10" fill="#fff" stroke="#111" stroke-width="1.20"/>
<circle cx="279.70" cy="817.40" r="2.10" fill="#fff" stroke="#111" stroke-width="1.20"/>
<circle cx="272.40" cy="819.40" r="2.10" fill="#fff" stroke="#111" stroke-width="1.20"/>
<circle cx="276.10" cy="820.70" r="2.10" fill="#fff" stroke="#111" stroke-width="1.20"/>
<circle cx="279.70" cy="824.10" r="2.10" fill="#fff" stroke="#111" stroke-width="1.20"/>
<circle cx="272.40" cy="826.10" r="2.10" fill="#fff" stroke="#111" stroke-width="1.20"/>
<circle cx="287.80" cy="765.70" r="2.10" fill="#fff" stroke="#111" stroke-width="1.20"/>
<circle cx="295.00" cy="765.70" r="2.10" fill="#fff" stroke="#111" stroke-width="1.20"/>
<circle cx="287.80" cy="773.70" r="2.10" fill="#fff" stroke="#111" stroke-width="1.20"/>
<circle cx="295.00" cy="772.90" r="2.10" fill="#fff" stroke="#111" stroke-width="1.20"/>
<circle cx="295.00" cy="789.70" r="2.10" fill="#fff" stroke="#111" stroke-width="1.20"/>
<circle cx="289.50" cy="793.00" r="2.10" fill="#fff" stroke="#111" stroke-width="1.20"/>
<circle cx="295.00" cy="797.20" r="2.10" fill="#fff" stroke="#111" stroke-width="1.20"/>
<circle cx="291.20" cy="805.60" r="2.10" fill="#fff" stroke="#111" stroke-width="1.20"/>
<circle cx="295.00" cy="812.30" r="2.10" fill="#fff" stroke="#111" stroke-width="1.20"/>
<circle cx="287.80" cy="814.30" r="2.10" fill="#fff" stroke="#111" stroke-width="1.20"/>
<circle cx="313.80" cy="804.80" r="2.10" fill="#fff" stroke="#111" stroke-width="1.20"/>
<circle cx="311.30" cy="808.10" r="2.10" fill="#fff" stroke="#111" stroke-width="1.20"/>
<circle cx="308.80" cy="812.00" r="2.10" fill="#fff" stroke="#111" stroke-width="1.20"/>
<circle cx="315.50" cy="811.50" r="2.10" fill="#fff" stroke="#111" stroke-width="1.20"/>
<circle cx="312.10" cy="813.20" r="2.10" fill="#fff" stroke="#111" stroke-width="1.20"/>
<circle cx="312.10" cy="818.20" r="2.10" fill="#fff" stroke="#111" stroke-width="1.20"/>
<circle cx="327.30" cy="798.10" r="2.10" fill="#fff" stroke="#111" stroke-width="1.20"/>
<circle cx="331.00" cy="808.10" r="2.10" fill="#fff" stroke="#111" stroke-width="1.20"/>
<circle cx="323.60" cy="812.00" r="2.10" fill="#fff" stroke="#111" stroke-width="1.20"/>
<circle cx="331.00" cy="816.50" r="2.10" fill="#fff" stroke="#111" stroke-width="1.20"/>
<circle cx="323.60" cy="820.70" r="2.10" fill="#fff" stroke="#111" stroke-width="1.20"/>
<circle cx="327.30" cy="822.00" r="2.10" fill="#fff" stroke="#111" stroke-width="1.20"/>
<circle cx="331.00" cy="829.50" r="2.10" fill="#fff" stroke="#111" stroke-width="1.20"/>
<circle cx="346.20" cy="802.30" r="2.10" fill="#fff" stroke="#111" stroke-width="1.20"/>
<circle cx="341.50" cy="803.40" r="2.10" fill="#fff" stroke="#111" stroke-width="1.20"/>
<circle cx="338.70" cy="805.60" r="2.10" fill="#fff" stroke="#111" stroke-width="1.20"/>
<circle cx="344.00" cy="807.30" r="2.10" fill="#fff" stroke="#111" stroke-width="1.20"/>
<circle cx="340.70" cy="812.30" r="2.10" fill="#fff" stroke="#111" stroke-width="1.20"/>
<circle cx="345.20" cy="813.20" r="2.10" fill="#fff" stroke="#111" stroke-width="1.20"/>
<circle cx="340.70" cy="816.50" r="2.10" fill="#fff" stroke="#111" stroke-width="1.20"/>
<circle cx="340.70" cy="821.20" r="2.10" fill="#fff" stroke="#111" stroke-width="1.20"/>
<circle cx="345.20" cy="821.20" r="2.10" fill="#fff" stroke="#111" stroke-width="1.20"/>
<circle cx="365.10" cy="791.30" r="2.10" fill="#fff" stroke="#111" stroke-width="1.20"/>
<circle cx="362.60" cy="793.90" r="2.10" fill="#fff" stroke="#111" stroke-width="1.20"/>
<circle cx="360.10" cy="816.20" r="2.10" fill="#fff" stroke="#111" stroke-width="1.20"/>
<circle cx="364.50" cy="815.50" r="2.10" fill="#fff" stroke="#111" stroke-width="1.20"/>
<circle cx="367.00" cy="819.00" r="2.10" fill="#fff" stroke="#111" stroke-width="1.20"/>
<circle cx="363.00" cy="819.50" r="2.10" fill="#fff" stroke="#111" stroke-width="1.20"/>
<circle cx="360.10" cy="822.40" r="2.10" fill="#fff" stroke="#111" stroke-width="1.20"/>
<circle cx="374.80" cy="803.90" r="2.10" fill="#fff" stroke="#111" stroke-width="1.20"/>
<circle cx="381.90" cy="803.90" r="2.10" fill="#fff" stroke="#111" stroke-width="1.20"/>
<circle cx="378.20" cy="808.50" r="2.10" fill="#fff" stroke="#111" stroke-width="1.20"/>
<circle cx="378.20" cy="812.30" r="2.10" fill="#fff" stroke="#111" stroke-width="1.20"/>
<circle cx="378.20" cy="820.70" r="2.10" fill="#fff" stroke="#111" stroke-width="1.20"/>
<circle cx="381.90" cy="827.40" r="2.10" fill="#fff" stroke="#111" stroke-width="1.20"/>
<circle cx="376.50" cy="830.30" r="2.10" fill="#fff" stroke="#111" stroke-width="1.20"/>
<circle cx="379.40" cy="827.40" r="2.10" fill="#fff" stroke="#111" stroke-width="1.20"/>
<circle cx="393.60" cy="772.00" r="2.10" fill="#fff" stroke="#111" stroke-width="1.20"/>
<circle cx="393.60" cy="784.60" r="2.10" fill="#fff" stroke="#111" stroke-width="1.20"/>
<circle cx="390.30" cy="788.30" r="2.10" fill="#fff" stroke="#111" stroke-width="1.20"/>
<circle cx="397.50" cy="788.30" r="2.10" fill="#fff" stroke="#111" stroke-width="1.20"/>
<circle cx="391.60" cy="792.20" r="2.10" fill="#fff" stroke="#111" stroke-width="1.20"/>
<circle cx="395.70" cy="793.00" r="2.10" fill="#fff" stroke="#111" stroke-width="1.20"/>
<circle cx="393.60" cy="798.00" r="2.10" fill="#fff" stroke="#111" stroke-width="1.20"/>
<circle cx="390.30" cy="803.90" r="2.10" fill="#fff" stroke="#111" stroke-width="1.20"/>
<circle cx="397.50" cy="801.70" r="2.10" fill="#fff" stroke="#111" stroke-width="1.20"/>
<circle cx="394.00" cy="801.40" r="2.10" fill="#fff" stroke="#111" stroke-width="1.20"/>
<circle cx="410.90" cy="798.90" r="2.10" fill="#fff" stroke="#111" stroke-width="1.20"/>
<circle cx="414.60" cy="798.90" r="2.10" fill="#fff" stroke="#111" stroke-width="1.20"/>
<circle cx="418.30" cy="801.40" r="2.10" fill="#fff" stroke="#111" stroke-width="1.20"/>
<circle cx="414.60" cy="813.20" r="2.10" fill="#fff" stroke="#111" stroke-width="1.20"/>
<circle cx="418.30" cy="816.20" r="2.10" fill="#fff" stroke="#111" stroke-width="1.20"/>
<circle cx="414.60" cy="819.00" r="2.10" fill="#fff" stroke="#111" stroke-width="1.20"/>
<circle cx="410.90" cy="821.60" r="2.10" fill="#fff" stroke="#111" stroke-width="1.20"/>
<circle cx="418.30" cy="820.70" r="2.10" fill="#fff" stroke="#111" stroke-width="1.20"/>
<circle cx="430.10" cy="787.70" r="2.10" fill="#fff" stroke="#111" stroke-width="1.20"/>
<circle cx="430.10" cy="803.40" r="2.10" fill="#fff" stroke="#111" stroke-width="1.20"/>
<circle cx="428.10" cy="816.50" r="2.10" fill="#fff" stroke="#111" stroke-width="1.20"/>
<circle cx="432.30" cy="816.90" r="2.10" fill="#fff" stroke="#111" stroke-width="1.20"/>
<circle cx="426.40" cy="819.00" r="2.10" fill="#fff" stroke="#111" stroke-width="1.20"/>
<circle cx="430.10" cy="820.70" r="2.10" fill="#fff" stroke="#111" stroke-width="1.20"/>
<circle cx="426.40" cy="824.90" r="2.10" fill="#fff" stroke="#111" stroke-width="1.20"/>
<circle cx="433.40" cy="825.80" r="2.10" fill="#fff" stroke="#111" stroke-width="1.20"/>
<circle cx="426.40" cy="829.50" r="2.10" fill="#fff" stroke="#111" stroke-width="1.20"/>
<circle cx="445.20" cy="773.70" r="2.10" fill="#fff" stroke="#111" stroke-width="1.20"/>
<circle cx="445.70" cy="785.00" r="2.10" fill="#fff" stroke="#111" stroke-width="1.20"/>
<circle cx="443.70" cy="788.80" r="2.10" fill="#fff" stroke="#111" stroke-width="1.20"/>
<circle cx="445.70" cy="793.00" r="2.10" fill="#fff" stroke="#111" stroke-width="1.20"/>
<circle cx="441.50" cy="798.10" r="2.10" fill="#fff" stroke="#111" stroke-width="1.20"/>
<circle cx="449.00" cy="796.70" r="2.10" fill="#fff" stroke="#111" stroke-width="1.20"/>
<circle cx="445.20" cy="798.00" r="2.10" fill="#fff" stroke="#111" stroke-width="1.20"/>
<circle cx="445.20" cy="808.10" r="2.10" fill="#fff" stroke="#111" stroke-width="1.20"/>
<circle cx="445.20" cy="814.50" r="2.10" fill="#fff" stroke="#111" stroke-width="1.20"/>
<circle cx="466.20" cy="790.50" r="2.10" fill="#fff" stroke="#111" stroke-width="1.20"/>
<circle cx="466.20" cy="802.60" r="2.10" fill="#fff" stroke="#111" stroke-width="1.20"/>
<circle cx="466.20" cy="811.50" r="2.10" fill="#fff" stroke="#111" stroke-width="1.20"/>
<circle cx="469.80" cy="815.40" r="2.10" fill="#fff" stroke="#111" stroke-width="1.20"/>
<circle cx="466.20" cy="817.40" r="2.10" fill="#fff" stroke="#111" stroke-width="1.20"/>
<circle cx="462.60" cy="820.20" r="2.10" fill="#fff" stroke="#111" stroke-width="1.20"/>
<circle cx="469.80" cy="819.90" r="2.10" fill="#fff" stroke="#111" stroke-width="1.20"/>
<circle cx="481.00" cy="785.00" r="2.10" fill="#fff" stroke="#111" stroke-width="1.20"/>
<circle cx="477.30" cy="799.70" r="2.10" fill="#fff" stroke="#111" stroke-width="1.20"/>
<circle cx="484.70" cy="803.10" r="2.10" fill="#fff" stroke="#111" stroke-width="1.20"/>
<circle cx="481.00" cy="808.50" r="2.10" fill="#fff" stroke="#111" stroke-width="1.20"/>
<circle cx="484.70" cy="814.50" r="2.10" fill="#fff" stroke="#111" stroke-width="1.20"/>
<circle cx="477.30" cy="819.00" r="2.10" fill="#fff" stroke="#111" stroke-width="1.20"/>
<circle cx="484.70" cy="824.10" r="2.10" fill="#fff" stroke="#111" stroke-width="1.20"/>
<circle cx="477.30" cy="827.40" r="2.10" fill="#fff" stroke="#111" stroke-width="1.20"/>
<circle cx="496.10" cy="746.00" r="2.10" fill="#fff" stroke="#111" stroke-width="1.20"/>
<circle cx="496.10" cy="762.80" r="2.10" fill="#fff" stroke="#111" stroke-width="1.20"/>
<circle cx="492.80" cy="781.60" r="2.10" fill="#fff" stroke="#111" stroke-width="1.20"/>
<circle cx="500.00" cy="784.60" r="2.10" fill="#fff" stroke="#111" stroke-width="1.20"/>
<circle cx="496.10" cy="788.80" r="2.10" fill="#fff" stroke="#111" stroke-width="1.20"/>
<circle cx="496.10" cy="793.90" r="2.10" fill="#fff" stroke="#111" stroke-width="1.20"/>
<circle cx="492.80" cy="801.40" r="2.10" fill="#fff" stroke="#111" stroke-width="1.20"/>
<circle cx="500.00" cy="801.90" r="2.10" fill="#fff" stroke="#111" stroke-width="1.20"/>
<circle cx="496.10" cy="803.10" r="2.10" fill="#fff" stroke="#111" stroke-width="1.20"/>
<circle cx="496.10" cy="808.10" r="2.10" fill="#fff" stroke="#111" stroke-width="1.20"/>
<circle cx="513.40" cy="796.90" r="2.10" fill="#fff" stroke="#111" stroke-width="1.20"/>
<circle cx="521.00" cy="800.20" r="2.10" fill="#fff" stroke="#111" stroke-width="1.20"/>
<circle cx="513.40" cy="803.40" r="2.10" fill="#fff" stroke="#111" stroke-width="1.20"/>
<circle cx="517.10" cy="811.50" r="2.10" fill="#fff" stroke="#111" stroke-width="1.20"/>
<circle cx="517.10" cy="816.50" r="2.10" fill="#fff" stroke="#111" stroke-width="1.20"/>
<circle cx="521.00" cy="822.70" r="2.10" fill="#fff" stroke="#111" stroke-width="1.20"/>
<circle cx="513.40" cy="827.10" r="2.10" fill="#fff" stroke="#111" stroke-width="1.20"/>
<circle cx="536.10" cy="805.30" r="2.10" fill="#fff" stroke="#111" stroke-width="1.20"/>
<circle cx="528.50" cy="809.80" r="2.10" fill="#fff" stroke="#111" stroke-width="1.20"/>
<circle cx="536.10" cy="812.00" r="2.10" fill="#fff" stroke="#111" stroke-width="1.20"/>
<circle cx="528.50" cy="816.20" r="2.10" fill="#fff" stroke="#111" stroke-width="1.20"/>
<circle cx="536.10" cy="817.40" r="2.10" fill="#fff" stroke="#111" stroke-width="1.20"/>
<circle cx="532.20" cy="819.50" r="2.10" fill="#fff" stroke="#111" stroke-width="1.20"/>
<circle cx="536.10" cy="822.10" r="2.10" fill="#fff" stroke="#111" stroke-width="1.20"/>
<circle cx="532.20" cy="825.80" r="2.10" fill="#fff" stroke="#111" stroke-width="1.20"/>
<circle cx="529.70" cy="827.90" r="2.10" fill="#fff" stroke="#111" stroke-width="1.20"/>
<circle cx="547.30" cy="748.00" r="2.10" fill="#fff" stroke="#111" stroke-width="1.20"/>
<circle cx="547.30" cy="760.00" r="2.10" fill="#fff" stroke="#111" stroke-width="1.20"/>
<circle cx="547.30" cy="768.70" r="2.10" fill="#fff" stroke="#111" stroke-width="1.20"/>
<circle cx="547.30" cy="779.90" r="2.10" fill="#fff" stroke="#111" stroke-width="1.20"/>
<circle cx="547.30" cy="787.70" r="2.10" fill="#fff" stroke="#111" stroke-width="1.20"/>
<circle cx="545.60" cy="800.90" r="2.10" fill="#fff" stroke="#111" stroke-width="1.20"/>
<circle cx="549.30" cy="802.30" r="2.10" fill="#fff" stroke="#111" stroke-width="1.20"/>
<circle cx="547.30" cy="806.50" r="2.10" fill="#fff" stroke="#111" stroke-width="1.20"/>
<circle cx="551.00" cy="810.60" r="2.10" fill="#fff" stroke="#111" stroke-width="1.20"/>
<circle cx="545.30" cy="812.00" r="2.10" fill="#fff" stroke="#111" stroke-width="1.20"/>
<circle cx="572.30" cy="793.90" r="2.10" fill="#fff" stroke="#111" stroke-width="1.20"/>
<circle cx="568.70" cy="798.10" r="2.10" fill="#fff" stroke="#111" stroke-width="1.20"/>
<circle cx="568.70" cy="804.80" r="2.10" fill="#fff" stroke="#111" stroke-width="1.20"/>
<circle cx="568.70" cy="815.70" r="2.10" fill="#fff" stroke="#111" stroke-width="1.20"/>
<circle cx="565.00" cy="821.90" r="2.10" fill="#fff" stroke="#111" stroke-width="1.20"/>
<circle cx="572.30" cy="821.20" r="2.10" fill="#fff" stroke="#111" stroke-width="1.20"/>
<circle cx="568.70" cy="820.50" r="2.10" fill="#fff" stroke="#111" stroke-width="1.20"/>
<circle cx="587.20" cy="798.40" r="2.10" fill="#fff" stroke="#111" stroke-width="1.20"/>
<circle cx="583.50" cy="801.40" r="2.10" fill="#fff" stroke="#111" stroke-width="1.20"/>
<circle cx="579.80" cy="803.40" r="2.10" fill="#fff" stroke="#111" stroke-width="1.20"/>
<circle cx="583.50" cy="806.50" r="2.10" fill="#fff" stroke="#111" stroke-width="1.20"/>
<circle cx="587.20" cy="814.80" r="2.10" fill="#fff" stroke="#111" stroke-width="1.20"/>
<circle cx="583.50" cy="815.70" r="2.10" fill="#fff" stroke="#111" stroke-width="1.20"/>
<circle cx="583.50" cy="821.60" r="2.10" fill="#fff" stroke="#111" stroke-width="1.20"/>
<circle cx="583.50" cy="829.50" r="2.10" fill="#fff" stroke="#111" stroke-width="1.20"/>
<circle cx="595.30" cy="785.00" r="2.10" fill="#fff" stroke="#111" stroke-width="1.20"/>
<circle cx="595.30" cy="788.80" r="2.10" fill="#fff" stroke="#111" stroke-width="1.20"/>
<circle cx="598.90" cy="788.30" r="2.10" fill="#fff" stroke="#111" stroke-width="1.20"/>
<circle cx="602.30" cy="791.30" r="2.10" fill="#fff" stroke="#111" stroke-width="1.20"/>
<circle cx="598.90" cy="797.20" r="2.10" fill="#fff" stroke="#111" stroke-width="1.20"/>
<circle cx="598.90" cy="803.40" r="2.10" fill="#fff" stroke="#111" stroke-width="1.20"/>
<circle cx="595.30" cy="814.00" r="2.10" fill="#fff" stroke="#111" stroke-width="1.20"/>
<circle cx="602.30" cy="814.50" r="2.10" fill="#fff" stroke="#111" stroke-width="1.20"/>
<circle cx="598.90" cy="816.20" r="2.10" fill="#fff" stroke="#111" stroke-width="1.20"/>
<circle cx="598.90" cy="827.40" r="2.10" fill="#fff" stroke="#111" stroke-width="1.20"/>
<circle cx="619.90" cy="788.00" r="2.10" fill="#fff" stroke="#111" stroke-width="1.20"/>
<circle cx="619.90" cy="798.40" r="2.10" fill="#fff" stroke="#111" stroke-width="1.20"/>
<circle cx="619.90" cy="808.10" r="2.10" fill="#fff" stroke="#111" stroke-width="1.20"/>
<circle cx="619.90" cy="814.50" r="2.10" fill="#fff" stroke="#111" stroke-width="1.20"/>
<circle cx="616.20" cy="819.40" r="2.10" fill="#fff" stroke="#111" stroke-width="1.20"/>
<circle cx="623.50" cy="821.10" r="2.10" fill="#fff" stroke="#111" stroke-width="1.20"/>
<circle cx="619.90" cy="826.60" r="2.10" fill="#fff" stroke="#111" stroke-width="1.20"/>
<circle cx="635.00" cy="793.40" r="2.10" fill="#fff" stroke="#111" stroke-width="1.20"/>
<circle cx="635.00" cy="798.90" r="2.10" fill="#fff" stroke="#111" stroke-width="1.20"/>
<circle cx="635.00" cy="808.50" r="2.10" fill="#fff" stroke="#111" stroke-width="1.20"/>
<circle cx="635.00" cy="817.90" r="2.10" fill="#fff" stroke="#111" stroke-width="1.20"/>
<circle cx="631.30" cy="824.90" r="2.10" fill="#fff" stroke="#111" stroke-width="1.20"/>
<circle cx="638.60" cy="825.80" r="2.10" fill="#fff" stroke="#111" stroke-width="1.20"/>
<circle cx="635.00" cy="826.50" r="2.10" fill="#fff" stroke="#111" stroke-width="1.20"/>
<circle cx="635.00" cy="831.60" r="2.10" fill="#fff" stroke="#111" stroke-width="1.20"/>
<circle cx="653.50" cy="760.30" r="2.10" fill="#fff" stroke="#111" stroke-width="1.20"/>
<circle cx="646.10" cy="762.50" r="2.10" fill="#fff" stroke="#111" stroke-width="1.20"/>
<circle cx="650.10" cy="775.90" r="2.10" fill="#fff" stroke="#111" stroke-width="1.20"/>
<circle cx="650.10" cy="788.50" r="2.10" fill="#fff" stroke="#111" stroke-width="1.20"/>
<circle cx="653.50" cy="796.40" r="2.10" fill="#fff" stroke="#111" stroke-width="1.20"/>
<circle cx="646.10" cy="801.10" r="2.10" fill="#fff" stroke="#111" stroke-width="1.20"/>
<circle cx="653.50" cy="801.80" r="2.10" fill="#fff" stroke="#111" stroke-width="1.20"/>
<circle cx="646.10" cy="811.20" r="2.10" fill="#fff" stroke="#111" stroke-width="1.20"/>
<circle cx="653.50" cy="811.50" r="2.10" fill="#fff" stroke="#111" stroke-width="1.20"/>
<circle cx="650.10" cy="816.90" r="2.10" fill="#fff" stroke="#111" stroke-width="1.20"/>
</g>
</svg>
</body></html>
